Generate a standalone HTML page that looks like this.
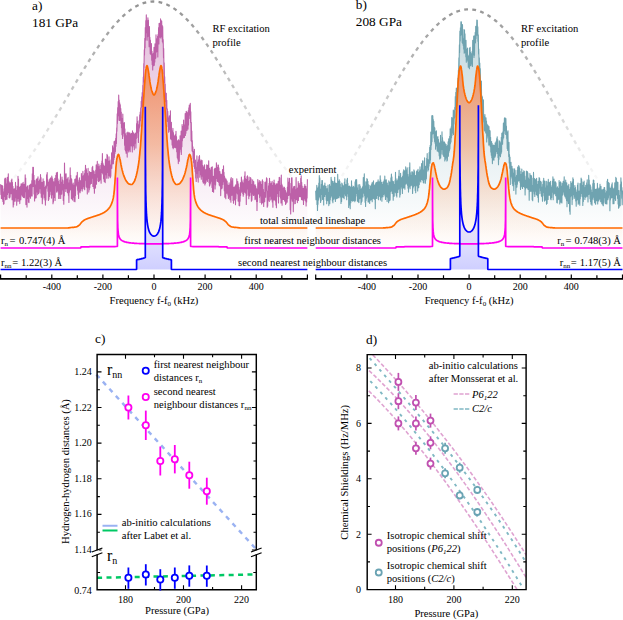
<!DOCTYPE html>
<html><head><meta charset="utf-8"><title>figure</title>
<style>html,body{margin:0;padding:0;background:#fff}svg{display:block}text{fill:#000;font-family:"Liberation Serif",serif}</style></head>
<body><svg width="623" height="620" viewBox="0 0 623 620">
<rect width="623" height="620" fill="#fff"/>
<defs><linearGradient id="gO" gradientUnits="userSpaceOnUse" x1="0" y1="60" x2="0" y2="248"><stop offset="0" stop-color="#f08050" stop-opacity="0.85"/><stop offset="0.45" stop-color="#f4a070" stop-opacity="0.6"/><stop offset="0.9" stop-color="#f8c8a8" stop-opacity="0.15"/><stop offset="1" stop-color="#f8c8a8" stop-opacity="0"/></linearGradient><linearGradient id="gB" gradientUnits="userSpaceOnUse" x1="0" y1="190" x2="0" y2="270"><stop offset="0" stop-color="#8080ff" stop-opacity="0"/><stop offset="1" stop-color="#8080ff" stop-opacity="0.38"/></linearGradient><linearGradient id="gRF" gradientUnits="userSpaceOnUse" x1="0" y1="0" x2="0" y2="190"><stop offset="0" stop-color="#929292"/><stop offset="1" stop-color="#ffffff"/></linearGradient><linearGradient id="gEa" gradientUnits="userSpaceOnUse" x1="0" y1="10" x2="0" y2="235"><stop offset="0" stop-color="#bd60a8" stop-opacity="0.42"/><stop offset="0.55" stop-color="#bd60a8" stop-opacity="0.2"/><stop offset="1" stop-color="#bd60a8" stop-opacity="0"/></linearGradient><linearGradient id="gEb" gradientUnits="userSpaceOnUse" x1="0" y1="10" x2="0" y2="235"><stop offset="0" stop-color="#6fa3b0" stop-opacity="0.42"/><stop offset="0.55" stop-color="#6fa3b0" stop-opacity="0.2"/><stop offset="1" stop-color="#6fa3b0" stop-opacity="0"/></linearGradient></defs>
<path d="M0.6 184.2L0.9 194.4L1.2 185.8L1.4 198.5L1.7 185.2L1.9 198.3L2.2 185.5L2.4 199.2L2.7 186.1L2.9 201.4L3.2 191.8L3.5 204.3L3.7 194.6L4 203.8L4.2 188.9L4.5 196.4L4.7 178.9L5 194.8L5.2 178L5.5 199.7L5.8 178.8L6 196.2L6.3 183.7L6.5 199.3L6.8 191.4L7 199.3L7.3 177.2L7.5 194.4L7.8 181L8.1 187.2L8.3 173.7L8.6 192.8L8.8 181.2L9.1 197.4L9.3 182.6L9.6 198L9.8 186.2L10.1 197L10.4 182.8L10.6 192.7L10.9 185.1L11.1 193.6L11.4 180L11.6 192.4L11.9 179L12.1 199.7L12.4 182.4L12.7 195.3L12.9 186.4L13.2 207L13.4 188.9L13.7 204.7L13.9 190.4L14.2 199.3L14.4 188.8L14.7 201.1L15 191.3L15.2 201.1L15.5 182.4L15.7 197.1L16 185.8L16.2 197.6L16.5 190.2L16.7 205.3L17 191.2L17.3 201.2L17.5 186.4L17.8 198.4L18 176.2L18.3 191.3L18.5 179L18.8 201.2L19 186.6L19.3 199.1L19.6 187.5L19.8 203.6L20.1 190.4L20.3 198.2L20.6 186.1L20.8 199.8L21.1 183.9L21.3 194.9L21.6 184.8L21.9 193.5L22.1 183.8L22.4 196.2L22.6 184.4L22.9 195.4L23.1 182.2L23.4 197.4L23.6 186.5L23.9 195.9L24.2 184.3L24.4 197.7L24.7 184.2L24.9 191.6L25.2 174.9L25.4 191L25.7 178L25.9 204.6L26.2 187.3L26.5 199.4L26.7 187.9L27 207.1L27.2 186.4L27.5 198.4L27.7 185.7L28 196.7L28.2 189.7L28.5 202.1L28.8 191.9L29 202.6L29.3 185.4L29.5 194.8L29.8 185.3L30 196.8L30.3 184.6L30.5 198.2L30.8 184L31.1 195.9L31.3 185.1L31.6 192.9L31.8 180.6L32.1 195.9L32.3 173.8L32.6 186.8L32.8 167.2L33.1 186.5L33.4 167.3L33.6 186.5L33.9 175.2L34.1 194L34.4 185.8L34.6 201L34.9 180.5L35.1 198.5L35.4 184.7L35.7 194.9L35.9 186.7L36.2 197.7L36.4 179L36.7 191.7L36.9 180.9L37.2 191.9L37.4 178.7L37.7 194.8L38 176.9L38.2 191.7L38.5 181.3L38.7 193.5L39 182L39.2 192.2L39.5 180.1L39.7 188.8L40 178.7L40.3 188.4L40.5 174.5L40.8 193.2L41 177.6L41.3 197.3L41.5 182.9L41.8 196.4L42 182.4L42.3 203.8L42.6 189.3L42.8 199L43.1 178.9L43.3 194.1L43.6 181.3L43.8 189.4L44.1 181.4L44.3 197.6L44.6 188.6L44.9 200L45.1 187.3L45.4 205.1L45.6 186.4L45.9 199.9L46.1 185L46.4 188.2L46.6 174.8L46.9 184.5L47.2 172.6L47.4 185.8L47.7 179.5L47.9 191.3L48.2 182.3L48.4 200.5L48.7 189.4L48.9 199.3L49.2 180.9L49.5 196.4L49.7 179.2L50 189.9L50.2 178.3L50.5 191.1L50.7 177.7L51 194.7L51.2 182.7L51.5 198.1L51.8 176L52 190.3L52.3 177.7L52.5 194.6L52.8 179.2L53 203.8L53.3 184.3L53.5 201.9L53.8 181.8L54.1 197.2L54.3 186.1L54.6 197.4L54.8 178.4L55.1 200.5L55.3 180L55.6 185.8L55.8 175.3L56.1 183.3L56.4 172.7L56.6 192.1L56.9 178.9L57.1 191.9L57.4 172.4L57.6 188.2L57.9 178.9L58.2 190.8L58.4 181.1L58.7 198.5L58.9 184.4L59.2 198.5L59.4 184.7L59.7 194.2L59.9 180L60.2 190.1L60.5 174L60.7 198.4L61 182L61.2 193.1L61.5 182.9L61.7 194.1L62 177.1L62.2 189.4L62.5 179.7L62.8 190.1L63 184.3L63.3 200.4L63.5 188.5L63.8 204.2L64 180.5L64.3 195.8L64.5 163.1L64.8 187.4L65.1 173.8L65.3 188.7L65.6 176.1L65.8 191.4L66.1 173.7L66.3 186.3L66.6 179.1L66.8 188.6L67.1 182.1L67.4 192.8L67.6 178.6L67.9 188.7L68.1 177.4L68.4 195.2L68.6 186.1L68.9 202.4L69.1 182.9L69.4 192.3L69.7 179.9L69.9 189.9L70.2 167.8L70.4 189.5L70.7 175.3L70.9 189.8L71.2 178.3L71.4 198.8L71.7 179.2L72 189.4L72.2 184.5L72.5 200L72.7 188.5L73 197.3L73.2 183.1L73.5 196.6L73.7 187.4L74 201.3L74.3 185L74.5 196.4L74.8 179.4L75 201.8L75.3 182.2L75.5 195.5L75.8 178.6L76 186.6L76.3 175.8L76.6 184.3L76.8 175.8L77.1 185.2L77.3 172.2L77.6 190.2L77.8 182.4L78.1 194.3L78.3 182.3L78.6 198.5L78.9 180.1L79.1 188L79.4 177.7L79.6 191.6L79.9 180.3L80.1 192.8L80.4 180.8L80.6 190.7L80.9 180.7L81.2 188.6L81.4 173.5L81.7 188.4L81.9 176.1L82.2 191.1L82.4 176.3L82.7 188.8L82.9 171.4L83.2 186.4L83.5 175.6L83.7 186.7L84 178.1L84.2 188.8L84.5 173.6L84.7 189.8L85 170.4L85.2 178L85.5 165.2L85.8 180.3L86 168.2L86.3 186.8L86.5 169.5L86.8 187.5L87 173.3L87.3 193.9L87.5 178.6L87.8 187.8L88.1 168.4L88.3 185.5L88.6 175.8L88.8 192.1L89.1 177.4L89.3 189.8L89.6 171.5L89.8 187.7L90.1 172.2L90.4 184.3L90.6 172.5L90.9 181.7L91.1 173.4L91.4 183.4L91.6 172.3L91.9 178.3L92.1 167.5L92.4 175.3L92.7 166.4L92.9 186.5L93.2 171.5L93.4 184.1L93.7 170.7L93.9 188.5L94.2 171.6L94.4 193.3L94.7 175L95 187.5L95.2 174.4L95.5 188.1L95.7 170L96 179.7L96.2 164.9L96.5 184.3L96.7 165.8L97 177.3L97.3 161.4L97.5 174.3L97.8 166.6L98 180.8L98.3 168.8L98.5 181.5L98.8 164L99 181.6L99.3 165.7L99.6 180.4L99.8 169.2L100.1 179.2L100.3 169.2L100.6 179.8L100.8 165.2L101.1 183.2L101.3 163.6L101.6 172.5L101.9 161L102.1 172.4L102.4 153.6L102.6 173.3L102.9 163L103.1 174.2L103.4 164.8L103.6 178.8L103.9 166.7L104.2 181.6L104.4 166L104.7 181.1L104.9 167.1L105.2 182.6L105.4 159.1L105.7 174.8L105.9 159.5L106.2 174.8L106.5 164.9L106.7 178.3L107 154.3L107.2 172.4L107.5 155.4L107.7 171.2L108 161.1L108.2 178.2L108.5 162.9L108.8 175.5L109 156.7L109.3 173.2L109.5 160.8L109.8 176.7L110 164.9L110.3 177.7L110.5 168.1L110.8 176.2L111.1 159.7L111.3 168.6L111.6 152.8L111.8 168.2L112.1 153.5L112.3 164.1L112.6 145.7L112.8 159.5L113.1 149.5L113.4 163.8L113.6 147.7L113.9 159.5L114.1 141.6L114.4 157.5L114.6 144.2L114.9 153.5L115.1 140.8L115.4 151.6L115.7 138.3L115.9 146.3L116.2 133.8L116.4 143.5L116.7 127.9L116.9 131.3L117.2 113.9L117.4 123.6L117.7 107.5L118 120.2L118.2 101.5L118.5 115.6L118.7 95.1L119 111.1L119.2 100L119.5 120.5L119.7 102.8L120 119.2L120.3 104.9L120.5 120.2L120.8 108.6L121 123.5L121.3 112L121.5 127.8L121.8 118.7L122 134.7L122.3 118.3L122.6 138.5L122.8 114L123.1 131L123.3 122.9L123.6 133.2L123.8 126.6L124.1 136.3L124.4 122.5L124.6 145.3L124.9 128.9L125.1 149.7L125.4 133.5L125.6 150.9L125.9 137.6L126.1 153.3L126.4 135.6L126.7 149.6L126.9 132.7L127.2 157.1L127.4 133.8L127.7 147.9L127.9 132.1L128.2 150.2L128.4 137.6L128.7 152L129 132.8L129.2 149.9L129.5 133L129.7 146.2L130 133.1L130.2 151.8L130.5 134L130.7 143.9L131 137L131.3 145.7L131.5 133.3L131.8 146.1L132 138.6L132.3 151.9L132.5 130.9L132.8 147L133 135.2L133.3 144.7L133.6 132.7L133.8 145.4L134.1 136.3L134.3 149.7L134.6 134.4L134.8 143.2L135.1 133.4L135.3 143.3L135.6 133.6L135.9 148.1L136.1 132.6L136.4 138.5L136.6 123.6L136.9 129.6L137.1 116.7L137.4 132.6L137.6 121.3L137.9 137.6L138.2 125.4L138.4 142.4L138.7 124.6L138.9 131.2L139.2 120.6L139.4 128L139.7 114.8L139.9 126.2L140.2 112L140.5 120.7L140.7 107.8L141 117.9L141.2 101.2L141.5 107.2L141.7 96.9L142 105.9L142.2 92.6L142.5 106.4L142.8 85.4L143 91.3L143.3 77.1L143.5 81.9L143.8 63.6L144 67.7L144.3 49.7L144.5 55L144.8 38.4L145.1 47.7L145.3 27.6L145.6 39.9L145.8 20.6L146.1 31.5L146.3 14.9L146.6 32.8L146.8 20.8L147.1 40.3L147.4 20.6L147.6 36.8L147.9 17.7L148.1 34.5L148.4 20.1L148.6 36.3L148.9 28.3L149.1 46.7L149.4 26.6L149.7 43.6L149.9 37.4L150.2 53.7L150.4 40.1L150.7 54.2L150.9 44.6L151.2 54.8L151.4 43.6L151.7 60.3L152 51.3L152.2 64.4L152.5 53.9L152.7 70L153 56L153.2 65L153.5 53.1L153.7 65.6L154 47.3L154.3 65.2L154.5 54.7L154.8 62.1L155 43.9L155.3 58.6L155.5 46L155.8 58.1L156 34.9L156.3 52.2L156.6 38.9L156.8 51.5L157.1 39.4L157.3 48.4L157.6 36.1L157.8 57L158.1 34.4L158.3 42.1L158.6 27.5L158.9 44L159.1 23.3L159.4 36.5L159.6 26L159.9 37.2L160.1 23L160.4 31.5L160.6 18.9L160.9 38.1L161.2 20.9L161.4 28.8L161.7 21L161.9 36.5L162.2 25.2L162.4 41.7L162.7 26.5L162.9 42.9L163.2 39.6L163.5 57.7L163.7 48.6L164 73.7L164.2 62.7L164.5 82.4L164.7 76.8L165 98.5L165.2 84L165.5 101.7L165.8 92.7L166 105.6L166.3 93.2L166.5 108.9L166.8 100.4L167 121.3L167.3 108.8L167.5 121.5L167.8 111.2L168.1 126.6L168.3 117.8L168.6 132.3L168.8 121.1L169.1 129.5L169.3 115.9L169.6 129.4L169.8 116.7L170.1 131.6L170.4 110.8L170.6 139L170.9 124.6L171.1 135.2L171.4 122.2L171.6 139.7L171.9 130.8L172.1 144.9L172.4 135.4L172.7 147.5L172.9 128.4L173.2 148.7L173.4 132.6L173.7 147.4L173.9 137.6L174.2 147.3L174.4 136.4L174.7 147.1L175 135L175.2 147.6L175.5 134.5L175.7 147.8L176 131.2L176.2 144.6L176.5 136.5L176.7 151.8L177 144.8L177.3 157.7L177.5 140.7L177.8 159.1L178 144.6L178.3 163.6L178.5 139.7L178.8 151L179 140.6L179.3 161.2L179.6 143.7L179.8 152.1L180.1 135.8L180.3 149.2L180.6 136.1L180.8 148.6L181.1 131L181.3 154.5L181.6 136.2L181.9 146.8L182.1 124.5L182.4 140.7L182.6 128.5L182.9 138.5L183.1 126.3L183.4 137.4L183.6 120.1L183.9 136.5L184.2 125.2L184.4 137.4L184.7 124.9L184.9 134.5L185.2 113.6L185.4 135.4L185.7 120.9L185.9 133.2L186.2 111.3L186.5 127.1L186.7 111.7L187 130.5L187.2 112.6L187.5 125.4L187.7 113.9L188 129.1L188.3 110.6L188.5 124.9L188.8 107.8L189 115L189.3 105.1L189.5 114.2L189.8 105L190 118.4L190.3 103.4L190.6 122.5L190.8 111.8L191.1 140.7L191.3 122.4L191.6 141.6L191.8 131.1L192.1 150.9L192.3 140.5L192.6 151.8L192.9 146.7L193.1 158.9L193.4 151.7L193.6 162.7L193.9 151.3L194.1 166.4L194.4 149.2L194.6 168.5L194.9 160.7L195.2 171.7L195.4 160L195.7 178L195.9 168.1L196.2 181.5L196.4 167.5L196.7 173.4L196.9 155.9L197.2 173L197.5 165.3L197.7 178L198 162L198.2 182.1L198.5 159.7L198.7 169.7L199 156.6L199.2 170.4L199.5 155.6L199.8 177.3L200 161.1L200.3 174L200.5 162.7L200.8 174.8L201 159.9L201.3 179.3L201.5 160.6L201.8 176.3L202.1 160.6L202.3 174L202.6 165.2L202.8 181.8L203.1 167.3L203.3 183.1L203.6 167.1L203.8 183L204.1 165.8L204.4 178.3L204.6 164.9L204.9 185L205.1 169.3L205.4 183.4L205.6 174.9L205.9 182.4L206.1 169.8L206.4 178.5L206.7 164.8L206.9 179.9L207.2 170.2L207.4 181.4L207.7 165.2L207.9 178.4L208.2 167.2L208.4 174.8L208.7 160.7L209 182.5L209.2 169.7L209.5 186L209.7 168.4L210 184.9L210.2 174.7L210.5 183.2L210.7 170L211 179.5L211.3 167.3L211.5 181.3L211.8 172.9L212 187.4L212.3 166.8L212.5 191.5L212.8 178.2L213 190.9L213.3 176.4L213.6 192.3L213.8 177L214.1 184.3L214.3 169.2L214.6 182.4L214.8 168.4L215.1 189L215.3 168.4L215.6 185L215.9 174.4L216.1 180.9L216.4 162.7L216.6 178.5L216.9 164.8L217.1 178.1L217.4 169L217.6 181.4L217.9 167.4L218.2 179.8L218.4 165.1L218.7 182.4L218.9 167.7L219.2 184.9L219.4 172.2L219.7 185.7L219.9 171.6L220.2 186.1L220.5 176L220.7 195.6L221 174L221.2 187L221.5 178.3L221.7 188.8L222 174.6L222.2 187.9L222.5 169.5L222.8 184.4L223 174.2L223.3 180.2L223.5 165.9L223.8 181.7L224 172.4L224.3 190.8L224.5 176.1L224.8 197.3L225.1 178.1L225.3 191.1L225.6 182.9L225.8 198.8L226.1 179.1L226.3 190.6L226.6 180.6L226.8 193.2L227.1 181.1L227.4 192.8L227.6 184.7L227.9 195L228.1 186.5L228.4 198.5L228.6 185.2L228.9 196.6L229.1 182.8L229.4 197.1L229.7 186.1L229.9 199.8L230.2 184.9L230.4 196.2L230.7 178.8L230.9 202.3L231.2 177.5L231.4 195.5L231.7 182.8L232 191.2L232.2 180.7L232.5 195.3L232.7 178.6L233 200.5L233.2 190.3L233.5 203.3L233.7 187.3L234 197.6L234.3 187.1L234.5 199.9L234.8 189.5L235 198.3L235.3 185.7L235.5 204.8L235.8 184.7L236 198.8L236.3 186.4L236.6 192.4L236.8 178.9L237.1 193L237.3 181.8L237.6 194.1L237.8 181.6L238.1 201.1L238.3 183.8L238.6 201L238.9 187.4L239.1 205.6L239.4 192.7L239.6 205.8L239.9 189.8L240.1 201.2L240.4 182.8L240.6 195.5L240.9 182.6L241.2 192.5L241.4 177L241.7 187.8L241.9 179.7L242.2 191.2L242.4 181.8L242.7 193.4L242.9 186.8L243.2 196.3L243.5 182.9L243.7 194.5L244 179.7L244.2 191.8L244.5 176.1L244.7 191.9L245 171.8L245.2 192.4L245.5 178.6L245.8 193.5L246 179.9L246.3 204.5L246.5 179.4L246.8 195.4L247 176.6L247.3 188.7L247.5 175.8L247.8 189L248.1 181.4L248.3 195L248.6 185.7L248.8 198.8L249.1 177L249.3 196.3L249.6 180.6L249.8 195.5L250.1 181.9L250.4 192.3L250.6 177.6L250.9 190.9L251.1 178.8L251.4 201.3L251.6 190.1L251.9 200.2L252.2 184.3L252.4 194.1L252.7 179.9L252.9 191.4L253.2 184.4L253.4 195.5L253.7 181.5L253.9 194.9L254.2 184.9L254.5 194L254.7 186.8L255 199.6L255.2 184.7L255.5 198.5L255.7 186.4L256 198.9L256.2 188L256.5 201.5L256.8 192.8L257 210.4L257.3 189L257.5 201.4L257.8 179.5L258 193.7L258.3 182.8L258.5 194L258.8 183.6L259.1 190L259.3 180.6L259.6 197.4L259.8 182.5L260.1 202.4L260.3 184.4L260.6 195.9L260.8 181.4L261.1 193.1L261.4 186.1L261.6 204.1L261.9 184.4L262.1 203.1L262.4 179.7L262.6 198.9L262.9 181.2L263.1 202.5L263.4 189.4L263.7 206.4L263.9 192.2L264.2 201.9L264.4 192.2L264.7 201.5L264.9 182.4L265.2 196.4L265.4 186.1L265.7 197.2L266 181.6L266.2 190.8L266.5 177.7L266.7 189.9L267 178.5L267.2 207.3L267.5 193.5L267.7 206.1L268 191L268.3 200.3L268.5 185.7L268.8 198.2L269 183.2L269.3 201.4L269.5 178.2L269.8 196.3L270 181.4L270.3 195.8L270.6 183.7L270.8 199.9L271.1 185.7L271.3 198.9L271.6 182.7L271.8 194.7L272.1 181.2L272.3 202L272.6 186.6L272.9 207.3L273.1 185.3L273.4 196.3L273.6 182.6L273.9 200L274.1 180.1L274.4 198.9L274.6 183.3L274.9 199.9L275.2 185.2L275.4 201L275.7 189.9L275.9 205.1L276.2 183.9L276.4 207.7L276.7 184.1L276.9 196.7L277.2 185.9L277.5 193.3L277.7 183.5L278 193.4L278.2 181.4L278.5 202.9L278.7 183.5L279 190.5L279.2 177.2L279.5 186.5L279.8 177.9L280 196.4L280.3 185.4L280.5 198.1L280.8 185.3L281 203L281.3 175L281.5 198.5L281.8 184L282.1 205.3L282.3 185.6L282.6 198.7L282.8 189.7L283.1 199.4L283.3 188.4L283.6 199.4L283.8 187.1L284.1 199.1L284.4 187.2L284.6 201.1L284.9 188.3L285.1 200.6L285.4 190.2L285.6 204.5L285.9 191.8L286.1 203.5L286.4 193.1L286.7 202.3L286.9 194.1L287.2 202.1L287.4 187L287.7 198.5L287.9 178.1L288.2 191.6L288.4 182.2L288.7 195.5L289 182L289.2 190.8L289.5 178.3L289.7 195L290 183.3L290.2 209.7L290.5 193.5L290.7 213.9L291 193.8L291.3 198.9L291.5 177.9L291.8 191.9L292 177.8L292.3 201.1L292.5 189.1L292.8 200.1L293 188.8L293.3 211.7L293.6 186.9L293.8 198.5L294.1 186.6L294.3 197.3L294.6 186.3L294.8 203.7L295.1 192.8L295.3 203.5L295.6 189.5L295.9 195.6L296.1 177.5L296.4 199.7L296.6 188.8L296.9 198L297.1 188.7L297.4 202.6L297.6 187.9L297.9 200.2L298.2 181.6L298.4 200.4L298.7 187.2L298.9 196.7L299.2 183.6L299.4 195.8L299.7 186.3L299.9 196.6L300.2 185.6L300.5 196.4L300.7 178.4L301 196.9L301.2 175.8L301.5 199.6L301.7 182.4L302 194.1L302.2 186.1L302.5 200L302.8 189.4L303 196.3L303.3 188.2L303.5 204.4L303.8 188.7L304 200.4L304.3 186.2L304.5 196L304.8 184.6L305.1 199L305.3 186.2L305.6 200.9L305.8 186.3L306.1 205.9L306.3 188.8L306.6 202L306.8 190L307.1 197.9L307.4 179.3L307.4 248L0.6 248Z" fill="url(#gEa)"/>
<path d="M0.6 228L0.9 228L1.2 228L1.4 228L1.7 228L1.9 228L2.2 228L2.4 228L2.7 228L2.9 228L3.2 228L3.5 228L3.7 228L4 228L4.2 228L4.5 228L4.7 228L5 228L5.2 228L5.5 228L5.8 228L6 228L6.3 228L6.5 228L6.8 228L7 228L7.3 228L7.5 228L7.8 228L8.1 228L8.3 228L8.6 228L8.8 228L9.1 228L9.3 228L9.6 228L9.8 228L10.1 228L10.4 228L10.6 228L10.9 228L11.1 228L11.4 228L11.6 228L11.9 228L12.1 228L12.4 228L12.7 228L12.9 228L13.2 228L13.4 228L13.7 228L13.9 228L14.2 228L14.4 228L14.7 228L15 228L15.2 228L15.5 228L15.7 228L16 228L16.2 228L16.5 228L16.7 228L17 228L17.3 228L17.5 228L17.8 228L18 228L18.3 228L18.5 228L18.8 228L19 228L19.3 228L19.6 228L19.8 228L20.1 228L20.3 228L20.6 228L20.8 228L21.1 228L21.3 228L21.6 228L21.9 228L22.1 228L22.4 228L22.6 228L22.9 228L23.1 228L23.4 228L23.6 228L23.9 228L24.2 228L24.4 228L24.7 228L24.9 228L25.2 228L25.4 228L25.7 228L25.9 228L26.2 228L26.5 228L26.7 228L27 228L27.2 228L27.5 228L27.7 228L28 228L28.2 228L28.5 228L28.8 228L29 228L29.3 228L29.5 228L29.8 228L30 228L30.3 228L30.5 228L30.8 228L31.1 228L31.3 228L31.6 228L31.8 228L32.1 228L32.3 228L32.6 228L32.8 228L33.1 228L33.4 228L33.6 228L33.9 228L34.1 228L34.4 228L34.6 228L34.9 228L35.1 228L35.4 228L35.7 228L35.9 228L36.2 228L36.4 228L36.7 228L36.9 228L37.2 228L37.4 228L37.7 228L38 228L38.2 228L38.5 228L38.7 228L39 228L39.2 228L39.5 228L39.7 228L40 228L40.3 228L40.5 228L40.8 228L41 228L41.3 228L41.5 228L41.8 228L42 228L42.3 228L42.6 228L42.8 228L43.1 228L43.3 228L43.6 228L43.8 228L44.1 228L44.3 228L44.6 228L44.9 228L45.1 228L45.4 228L45.6 228L45.9 228L46.1 228L46.4 228L46.6 228L46.9 228L47.2 228L47.4 228L47.7 228L47.9 228L48.2 228L48.4 228L48.7 228L48.9 228L49.2 228L49.5 228L49.7 228L50 228L50.2 228L50.5 228L50.7 228L51 228L51.2 228L51.5 228L51.8 228L52 228L52.3 228L52.5 228L52.8 228L53 228L53.3 228L53.5 228L53.8 228L54.1 228L54.3 228L54.6 228L54.8 228L55.1 228L55.3 228L55.6 228L55.8 228L56.1 228L56.4 228L56.6 228L56.9 228L57.1 228L57.4 228L57.6 228L57.9 228L58.2 228L58.4 228L58.7 228L58.9 228L59.2 228L59.4 228L59.7 228L59.9 228L60.2 228L60.5 228L60.7 228L61 228L61.2 228L61.5 228L61.7 228L62 228L62.2 228L62.5 228L62.8 228L63 228L63.3 228L63.5 228L63.8 228L64 228L64.3 228L64.5 228L64.8 228L65.1 228L65.3 228L65.6 228L65.8 228L66.1 228L66.3 228L66.6 228L66.8 228L67.1 228L67.4 228L67.6 228L67.9 228L68.1 227.9L68.4 227.9L68.6 227.9L68.9 227.8L69.1 227.8L69.4 227.8L69.7 227.7L69.9 227.7L70.2 227.6L70.4 227.6L70.7 227.6L70.9 227.5L71.2 227.5L71.4 227.5L71.7 227.5L72 227.4L72.2 227.4L72.5 227.4L72.7 227.4L73 227.4L73.2 227.3L73.5 227.3L73.7 227.3L74 227.3L74.3 227.2L74.5 227.2L74.8 227.2L75 227.1L75.3 227.1L75.5 227L75.8 227L76 227L76.3 226.9L76.6 226.8L76.8 226.7L77.1 226.6L77.3 226.5L77.6 226.3L77.8 226.2L78.1 226L78.3 225.8L78.6 225.6L78.9 225.4L79.1 225.2L79.4 225L79.6 224.8L79.9 224.5L80.1 224.2L80.4 223.8L80.6 223.5L80.9 223.2L81.2 222.8L81.4 222.5L81.7 222.2L81.9 221.9L82.2 221.7L82.4 221.5L82.7 221.3L82.9 221.1L83.2 220.9L83.5 220.7L83.7 220.5L84 220.3L84.2 220.1L84.5 220L84.7 219.8L85 219.7L85.2 219.6L85.5 219.4L85.8 219.3L86 219.2L86.3 219.1L86.5 219L86.8 218.9L87 218.8L87.3 218.7L87.5 218.6L87.8 218.5L88.1 218.4L88.3 218.3L88.6 218.2L88.8 218.1L89.1 218.1L89.3 218L89.6 217.9L89.8 217.8L90.1 217.7L90.4 217.6L90.6 217.6L90.9 217.5L91.1 217.4L91.4 217.3L91.6 217.2L91.9 217.1L92.1 217L92.4 217L92.7 216.9L92.9 216.8L93.2 216.7L93.4 216.6L93.7 216.5L93.9 216.4L94.2 216.4L94.4 216.3L94.7 216.2L95 216.1L95.2 216.1L95.5 216L95.7 215.9L96 215.8L96.2 215.7L96.5 215.7L96.7 215.6L97 215.5L97.3 215.4L97.5 215.3L97.8 215.2L98 215.1L98.3 215.1L98.5 215L98.8 214.9L99 214.8L99.3 214.7L99.6 214.6L99.8 214.5L100.1 214.4L100.3 214.3L100.6 214.2L100.8 214L101.1 213.9L101.3 213.8L101.6 213.7L101.9 213.6L102.1 213.5L102.4 213.4L102.6 213.2L102.9 213.1L103.1 213L103.4 212.8L103.6 212.7L103.9 212.6L104.2 212.4L104.4 212.3L104.7 212.1L104.9 211.9L105.2 211.8L105.4 211.6L105.7 211.4L105.9 211.2L106.2 211L106.5 210.8L106.7 210.6L107 210.4L107.2 210.2L107.5 209.9L107.7 209.7L108 209.4L108.2 209.1L108.5 208.8L108.8 208.5L109 208.2L109.3 207.9L109.5 207.5L109.8 207.2L110 206.8L110.3 206.4L110.5 205.9L110.8 205.4L111.1 204.9L111.3 204.3L111.6 203.7L111.8 203.1L112.1 202.4L112.3 201.6L112.6 200.8L112.8 199.9L113.1 198.8L113.4 197.4L113.6 195.9L113.9 194.2L114.1 192.2L114.4 189.5L114.6 186.3L114.9 182.8L115.1 179.3L115.4 175.6L115.7 171.5L115.9 167.6L116.2 164.5L116.4 162.2L116.7 160.2L116.9 158.5L117.2 157.3L117.4 156.4L117.7 155.6L118 154.9L118.2 154.5L118.5 154.4L118.7 154.7L119 155.4L119.2 156.2L119.5 157.2L119.7 158.2L120 159.2L120.3 160.4L120.5 161.8L120.8 163.3L121 164.7L121.3 166L121.5 167.2L121.8 168.3L122 169.4L122.3 170.5L122.6 171.5L122.8 172.5L123.1 173.4L123.3 174.2L123.6 175L123.8 175.7L124.1 176.4L124.4 177.1L124.6 177.7L124.9 178.3L125.1 178.9L125.4 179.4L125.6 179.9L125.9 180.4L126.1 180.8L126.4 181.2L126.7 181.6L126.9 181.9L127.2 182.2L127.4 182.6L127.7 182.9L127.9 183.1L128.2 183.4L128.4 183.6L128.7 183.8L129 184L129.2 184.1L129.5 184.2L129.7 184.2L130 184.3L130.2 184.3L130.5 184.4L130.7 184.4L131 184.5L131.3 184.5L131.5 184.5L131.8 184.5L132 184.4L132.3 184.2L132.5 184L132.8 183.7L133 183.4L133.3 183L133.6 182.6L133.8 182.2L134.1 181.8L134.3 181.3L134.6 180.9L134.8 180.3L135.1 179.6L135.3 178.8L135.6 178L135.9 177.1L136.1 176.2L136.4 175.2L136.6 174.2L136.9 173.1L137.1 172L137.4 170.7L137.6 169.4L137.9 168L138.2 166.5L138.4 164.9L138.7 163.1L138.9 161.3L139.2 159.2L139.4 157.1L139.7 154.7L139.9 152L140.2 149.1L140.5 146L140.7 142.7L141 139.3L141.2 135.6L141.5 131.7L141.7 127.8L142 123.8L142.2 119.8L142.5 115.8L142.8 111.8L143 108L143.3 104.2L143.5 100.3L143.8 96.5L144 92.7L144.3 89L144.5 85.5L144.8 81.9L145.1 78.1L145.3 74.7L145.6 72L145.8 70.2L146.1 68.7L146.3 67.3L146.6 66.3L146.8 65.7L147.1 65.6L147.4 66.1L147.6 67.1L147.9 68.2L148.1 69.6L148.4 70.9L148.6 72.3L148.9 74L149.1 75.9L149.4 77.9L149.7 79.9L149.9 81.7L150.2 83.3L150.4 84.6L150.7 86L150.9 87.3L151.2 88.4L151.4 89.5L151.7 90.5L152 91.3L152.2 91.9L152.5 92.6L152.7 93.2L153 93.8L153.2 94.3L153.5 94.7L153.7 94.9L154 95L154.3 94.9L154.5 94.7L154.8 94.3L155 93.8L155.3 93.2L155.5 92.6L155.8 91.9L156 91.3L156.3 90.5L156.6 89.5L156.8 88.4L157.1 87.3L157.3 86L157.6 84.6L157.8 83.3L158.1 81.7L158.3 79.9L158.6 77.9L158.9 75.9L159.1 74L159.4 72.3L159.6 70.9L159.9 69.6L160.1 68.2L160.4 67.1L160.6 66.1L160.9 65.6L161.2 65.7L161.4 66.3L161.7 67.3L161.9 68.7L162.2 70.2L162.4 72L162.7 74.7L162.9 78.1L163.2 81.9L163.5 85.5L163.7 89L164 92.7L164.2 96.5L164.5 100.3L164.7 104.2L165 108L165.2 111.8L165.5 115.8L165.8 119.8L166 123.8L166.3 127.8L166.5 131.7L166.8 135.6L167 139.3L167.3 142.7L167.5 146L167.8 149.1L168.1 152L168.3 154.7L168.6 157.1L168.8 159.2L169.1 161.3L169.3 163.1L169.6 164.9L169.8 166.5L170.1 168L170.4 169.4L170.6 170.7L170.9 172L171.1 173.1L171.4 174.2L171.6 175.2L171.9 176.2L172.1 177.1L172.4 178L172.7 178.8L172.9 179.6L173.2 180.3L173.4 180.9L173.7 181.3L173.9 181.8L174.2 182.2L174.4 182.6L174.7 183L175 183.4L175.2 183.7L175.5 184L175.7 184.2L176 184.4L176.2 184.5L176.5 184.5L176.7 184.5L177 184.5L177.3 184.4L177.5 184.4L177.8 184.3L178 184.3L178.3 184.2L178.5 184.2L178.8 184.1L179 184L179.3 183.8L179.6 183.6L179.8 183.4L180.1 183.1L180.3 182.9L180.6 182.6L180.8 182.2L181.1 181.9L181.3 181.6L181.6 181.2L181.9 180.8L182.1 180.4L182.4 179.9L182.6 179.4L182.9 178.9L183.1 178.3L183.4 177.7L183.6 177.1L183.9 176.4L184.2 175.7L184.4 175L184.7 174.2L184.9 173.4L185.2 172.5L185.4 171.5L185.7 170.5L185.9 169.4L186.2 168.3L186.5 167.2L186.7 166L187 164.7L187.2 163.3L187.5 161.8L187.7 160.4L188 159.2L188.3 158.2L188.5 157.2L188.8 156.2L189 155.4L189.3 154.7L189.5 154.4L189.8 154.5L190 154.9L190.3 155.6L190.6 156.4L190.8 157.3L191.1 158.5L191.3 160.2L191.6 162.2L191.8 164.5L192.1 167.6L192.3 171.5L192.6 175.6L192.9 179.3L193.1 182.8L193.4 186.3L193.6 189.5L193.9 192.2L194.1 194.2L194.4 195.9L194.6 197.4L194.9 198.8L195.2 199.9L195.4 200.8L195.7 201.6L195.9 202.4L196.2 203.1L196.4 203.7L196.7 204.3L196.9 204.9L197.2 205.4L197.5 205.9L197.7 206.4L198 206.8L198.2 207.2L198.5 207.5L198.7 207.9L199 208.2L199.2 208.5L199.5 208.8L199.8 209.1L200 209.4L200.3 209.7L200.5 209.9L200.8 210.2L201 210.4L201.3 210.6L201.5 210.8L201.8 211L202.1 211.2L202.3 211.4L202.6 211.6L202.8 211.8L203.1 211.9L203.3 212.1L203.6 212.3L203.8 212.4L204.1 212.6L204.4 212.7L204.6 212.8L204.9 213L205.1 213.1L205.4 213.2L205.6 213.4L205.9 213.5L206.1 213.6L206.4 213.7L206.7 213.8L206.9 213.9L207.2 214L207.4 214.2L207.7 214.3L207.9 214.4L208.2 214.5L208.4 214.6L208.7 214.7L209 214.8L209.2 214.9L209.5 215L209.7 215.1L210 215.1L210.2 215.2L210.5 215.3L210.7 215.4L211 215.5L211.3 215.6L211.5 215.7L211.8 215.7L212 215.8L212.3 215.9L212.5 216L212.8 216.1L213 216.1L213.3 216.2L213.6 216.3L213.8 216.4L214.1 216.4L214.3 216.5L214.6 216.6L214.8 216.7L215.1 216.8L215.3 216.9L215.6 217L215.9 217L216.1 217.1L216.4 217.2L216.6 217.3L216.9 217.4L217.1 217.5L217.4 217.6L217.6 217.6L217.9 217.7L218.2 217.8L218.4 217.9L218.7 218L218.9 218.1L219.2 218.1L219.4 218.2L219.7 218.3L219.9 218.4L220.2 218.5L220.5 218.6L220.7 218.7L221 218.8L221.2 218.9L221.5 219L221.7 219.1L222 219.2L222.2 219.3L222.5 219.4L222.8 219.6L223 219.7L223.3 219.8L223.5 220L223.8 220.1L224 220.3L224.3 220.5L224.5 220.7L224.8 220.9L225.1 221.1L225.3 221.3L225.6 221.5L225.8 221.7L226.1 221.9L226.3 222.2L226.6 222.5L226.8 222.8L227.1 223.2L227.4 223.5L227.6 223.8L227.9 224.2L228.1 224.5L228.4 224.8L228.6 225L228.9 225.2L229.1 225.4L229.4 225.6L229.7 225.8L229.9 226L230.2 226.2L230.4 226.3L230.7 226.5L230.9 226.6L231.2 226.7L231.4 226.8L231.7 226.9L232 227L232.2 227L232.5 227L232.7 227.1L233 227.1L233.2 227.2L233.5 227.2L233.7 227.2L234 227.3L234.3 227.3L234.5 227.3L234.8 227.3L235 227.4L235.3 227.4L235.5 227.4L235.8 227.4L236 227.4L236.3 227.5L236.6 227.5L236.8 227.5L237.1 227.5L237.3 227.6L237.6 227.6L237.8 227.6L238.1 227.7L238.3 227.7L238.6 227.8L238.9 227.8L239.1 227.8L239.4 227.9L239.6 227.9L239.9 227.9L240.1 228L240.4 228L240.6 228L240.9 228L241.2 228L241.4 228L241.7 228L241.9 228L242.2 228L242.4 228L242.7 228L242.9 228L243.2 228L243.5 228L243.7 228L244 228L244.2 228L244.5 228L244.7 228L245 228L245.2 228L245.5 228L245.8 228L246 228L246.3 228L246.5 228L246.8 228L247 228L247.3 228L247.5 228L247.8 228L248.1 228L248.3 228L248.6 228L248.8 228L249.1 228L249.3 228L249.6 228L249.8 228L250.1 228L250.4 228L250.6 228L250.9 228L251.1 228L251.4 228L251.6 228L251.9 228L252.2 228L252.4 228L252.7 228L252.9 228L253.2 228L253.4 228L253.7 228L253.9 228L254.2 228L254.5 228L254.7 228L255 228L255.2 228L255.5 228L255.7 228L256 228L256.2 228L256.5 228L256.8 228L257 228L257.3 228L257.5 228L257.8 228L258 228L258.3 228L258.5 228L258.8 228L259.1 228L259.3 228L259.6 228L259.8 228L260.1 228L260.3 228L260.6 228L260.8 228L261.1 228L261.4 228L261.6 228L261.9 228L262.1 228L262.4 228L262.6 228L262.9 228L263.1 228L263.4 228L263.7 228L263.9 228L264.2 228L264.4 228L264.7 228L264.9 228L265.2 228L265.4 228L265.7 228L266 228L266.2 228L266.5 228L266.7 228L267 228L267.2 228L267.5 228L267.7 228L268 228L268.3 228L268.5 228L268.8 228L269 228L269.3 228L269.5 228L269.8 228L270 228L270.3 228L270.6 228L270.8 228L271.1 228L271.3 228L271.6 228L271.8 228L272.1 228L272.3 228L272.6 228L272.9 228L273.1 228L273.4 228L273.6 228L273.9 228L274.1 228L274.4 228L274.6 228L274.9 228L275.2 228L275.4 228L275.7 228L275.9 228L276.2 228L276.4 228L276.7 228L276.9 228L277.2 228L277.5 228L277.7 228L278 228L278.2 228L278.5 228L278.7 228L279 228L279.2 228L279.5 228L279.8 228L280 228L280.3 228L280.5 228L280.8 228L281 228L281.3 228L281.5 228L281.8 228L282.1 228L282.3 228L282.6 228L282.8 228L283.1 228L283.3 228L283.6 228L283.8 228L284.1 228L284.4 228L284.6 228L284.9 228L285.1 228L285.4 228L285.6 228L285.9 228L286.1 228L286.4 228L286.7 228L286.9 228L287.2 228L287.4 228L287.7 228L287.9 228L288.2 228L288.4 228L288.7 228L289 228L289.2 228L289.5 228L289.7 228L290 228L290.2 228L290.5 228L290.7 228L291 228L291.3 228L291.5 228L291.8 228L292 228L292.3 228L292.5 228L292.8 228L293 228L293.3 228L293.6 228L293.8 228L294.1 228L294.3 228L294.6 228L294.8 228L295.1 228L295.3 228L295.6 228L295.9 228L296.1 228L296.4 228L296.6 228L296.9 228L297.1 228L297.4 228L297.6 228L297.9 228L298.2 228L298.4 228L298.7 228L298.9 228L299.2 228L299.4 228L299.7 228L299.9 228L300.2 228L300.5 228L300.7 228L301 228L301.2 228L301.5 228L301.7 228L302 228L302.2 228L302.5 228L302.8 228L303 228L303.3 228L303.5 228L303.8 228L304 228L304.3 228L304.5 228L304.8 228L305.1 228L305.3 228L305.6 228L305.8 228L306.1 228L306.3 228L306.6 228L306.8 228L307.1 228L307.4 228L307.4 248L0.6 248Z" fill="url(#gO)"/>
<path d="M0.6 269.5L1.2 269.5L1.7 269.5L2.2 269.5L2.7 269.5L3.2 269.5L3.7 269.5L4.2 269.5L4.7 269.5L5.2 269.5L5.8 269.5L6.3 269.5L6.8 269.5L7.3 269.5L7.8 269.5L8.3 269.5L8.8 269.5L9.3 269.5L9.8 269.5L10.4 269.5L10.9 269.5L11.4 269.5L11.9 269.5L12.4 269.5L12.9 269.5L13.4 269.5L13.9 269.5L14.4 269.5L15 269.5L15.5 269.5L16 269.5L16.5 269.5L17 269.5L17.5 269.5L18 269.5L18.5 269.5L19 269.5L19.6 269.5L20.1 269.5L20.6 269.5L21.1 269.5L21.6 269.5L22.1 269.5L22.6 269.5L23.1 269.5L23.6 269.5L24.2 269.5L24.7 269.5L25.2 269.5L25.7 269.5L26.2 269.5L26.7 269.5L27.2 269.5L27.7 269.5L28.2 269.5L28.8 269.5L29.3 269.5L29.8 269.5L30.3 269.5L30.8 269.5L31.3 269.5L31.8 269.5L32.3 269.5L32.8 269.5L33.4 269.5L33.9 269.5L34.4 269.5L34.9 269.5L35.4 269.5L35.9 269.5L36.4 269.5L36.9 269.5L37.4 269.5L38 269.5L38.5 269.5L39 269.5L39.5 269.5L40 269.5L40.5 269.5L41 269.5L41.5 269.5L42 269.5L42.6 269.5L43.1 269.5L43.6 269.5L44.1 269.5L44.6 269.5L45.1 269.5L45.6 269.5L46.1 269.5L46.6 269.5L47.2 269.5L47.7 269.5L48.2 269.5L48.7 269.5L49.2 269.5L49.7 269.5L50.2 269.5L50.7 269.5L51.2 269.5L51.8 269.5L52.3 269.5L52.8 269.5L53.3 269.5L53.8 269.5L54.3 269.5L54.8 269.5L55.3 269.5L55.8 269.5L56.4 269.5L56.9 269.5L57.4 269.5L57.9 269.5L58.4 269.5L58.9 269.5L59.4 269.5L59.9 269.5L60.5 269.5L61 269.5L61.5 269.5L62 269.5L62.5 269.5L63 269.5L63.5 269.5L64 269.5L64.5 269.5L65.1 269.5L65.6 269.5L66.1 269.5L66.6 269.5L67.1 269.5L67.6 269.5L68.1 269.5L68.6 269.5L69.1 269.5L69.7 269.5L70.2 269.5L70.7 269.5L71.2 269.5L71.7 269.5L72.2 269.5L72.7 269.5L73.2 269.5L73.7 269.5L74.3 269.5L74.8 269.5L75.3 269.5L75.8 269.5L76.3 269.5L76.8 269.5L77.3 269.5L77.8 269.5L78.3 269.5L78.9 269.5L79.4 269.5L79.9 269.5L80.4 269.5L80.9 269.5L81.4 269.5L81.9 269.5L82.4 269.5L82.9 269.5L83.5 269.5L84 269.5L84.5 269.5L85 269.5L85.5 269.5L86 269.5L86.5 269.5L87 269.5L87.5 269.5L88.1 269.5L88.6 269.5L89.1 269.5L89.6 269.5L90.1 269.5L90.6 269.5L91.1 269.5L91.6 269.5L92.1 269.5L92.7 269.5L93.2 269.5L93.7 269.5L94.2 269.5L94.7 269.5L95.2 269.5L95.7 269.5L96.2 269.5L96.7 269.5L97.3 269.5L97.8 269.5L98.3 269.5L98.8 269.5L99.3 269.5L99.8 269.5L100.3 269.5L100.8 269.5L101.3 269.5L101.9 269.5L102.4 269.5L102.9 269.5L103.4 269.5L103.9 269.5L104.4 269.5L104.9 269.5L105.4 269.5L105.9 269.5L106.5 269.5L107 269.5L107.5 269.5L108 269.5L108.5 269.5L109 269.5L109.5 269.5L110 269.5L110.5 269.5L111.1 269.5L111.6 269.5L112.1 269.5L112.6 269.5L113.1 269.5L113.6 269.5L114.1 269.5L114.6 269.5L115.1 269.5L115.7 269.5L116.2 269.5L116.7 269.5L117.2 269.5L117.7 269.5L118.2 269.5L118.7 269.5L119.2 269.5L119.7 269.5L120.3 269.5L120.8 269.5L121.3 269.5L121.8 269.5L122.3 269.5L122.8 269.5L123.3 269.5L123.8 269.5L124.4 269.5L124.9 269.5L125.4 269.5L125.9 269.5L126.4 269.5L126.9 269.5L127.4 269.5L127.9 269.5L128.4 269.5L129 269.5L129.5 269.5L130 269.5L130.5 269.5L131 269.5L131.5 269.5L132 269.5L132.5 269.5L133 269.5L133.6 269.5L134.1 269.5L134.6 269.5L134.9 269.5L135 269.5L135.1 269.5L135.2 269.5L135.3 269.5L135.4 269.5L135.5 269.5L135.6 269.5L135.7 269.5L135.8 269.5L135.9 269.5L136 269.5L136.1 269.5L136.2 269.5L136.3 269.5L136.4 269.5L136.5 269.5L136.6 269.5L136.6 259.8L136.7 259.8L136.8 259.8L136.9 259.8L137 259.8L137.1 259.7L137.2 259.7L137.3 259.7L137.4 259.7L137.5 259.7L137.6 259.6L137.7 259.6L137.8 259.6L137.9 259.6L138 259.6L138.1 259.5L138.2 259.5L138.3 259.5L138.4 259.5L138.5 259.5L138.5 259.4L138.6 259.4L138.7 259.4L138.8 259.4L138.9 259.4L139 259.4L139 259.3L139.1 259.3L139.2 259.3L139.3 259.3L139.4 259.3L139.5 259.2L139.6 259.2L139.7 259.2L139.8 259.2L139.9 259.2L139.9 259.1L140 259.1L140.1 259.1L140.2 259.1L140.3 259.1L140.4 259L140.5 259L140.6 259L140.7 259L140.8 258.9L140.9 258.9L141 258.9L141.1 258.9L141.2 258.8L141.3 258.8L141.4 258.8L141.5 258.8L141.6 258.7L141.7 258.7L141.8 258.7L141.9 258.7L142 258.6L142.1 258.6L142.2 258.6L142.3 258.6L142.4 258.5L142.5 258.5L142.6 258.5L142.7 258.5L142.7 258.4L142.8 258.4L142.9 258.4L143 258.4L143.1 258.4L143.1 258.3L143.2 258.3L143.3 258.3L143.4 258.3L143.4 258.2L143.5 258.2L143.6 258.2L143.7 258.2L143.8 258.1L143.9 258.1L144 258.1L144.1 258.1L144.1 258L144.2 258L144.3 258L144.4 258L144.5 257.9L144.6 257.9L144.7 257.9L144.8 257.8L144.9 257.8L145 257.8L145 257.7L145.1 257.7L145.2 257.7L145.3 257.7L145.3 106.7L145.4 133.3L145.4 152.6L145.5 165.1L145.6 173.9L145.6 180.6L145.7 185.9L145.7 190.2L145.8 193.9L145.8 194.5L145.9 196.9L145.9 199.6L146 202L146.1 204L146.1 205.9L146.2 207.6L146.3 209.1L146.3 210.4L146.3 210.7L146.4 211.7L146.4 212.9L146.5 213.9L146.6 214.9L146.6 215.9L146.7 216.7L146.8 217.5L146.8 218.3L146.8 218.4L146.9 219L147 219.7L147 220.3L147.1 220.9L147.1 221.5L147.2 222L147.3 222.6L147.3 223L147.4 223.1L147.4 223.5L147.5 224L147.5 224.4L147.6 224.8L147.7 225.2L147.7 225.6L147.8 225.9L147.9 226.3L147.9 226.6L148 226.9L148 227.2L148.1 227.5L148.2 227.8L148.2 228.1L148.3 228.4L148.4 228.6L148.4 228.7L148.4 228.9L148.5 229.1L148.6 229.3L148.6 229.6L148.7 229.8L148.7 230L148.8 230.2L148.9 230.4L148.9 230.6L149 230.8L149.1 230.9L149.1 231.1L149.2 231.3L149.3 231.4L149.3 231.6L149.4 231.8L149.5 231.9L149.5 232.1L149.6 232.2L149.6 232.3L149.7 232.5L149.8 232.6L149.8 232.7L149.9 232.9L150 233L150 233.1L150.1 233.2L150.2 233.3L150.2 233.4L150.3 233.5L150.3 233.6L150.4 233.7L150.5 233.8L150.5 233.9L150.6 234L150.7 234.1L150.7 234.2L150.8 234.3L150.9 234.3L150.9 234.4L151 234.5L151 234.6L151.1 234.6L151.2 234.7L151.2 234.8L151.3 234.8L151.4 234.9L151.4 235L151.5 235L151.6 235.1L151.7 235.2L151.8 235.2L151.8 235.3L151.9 235.3L151.9 235.4L152 235.4L152.1 235.5L152.2 235.6L152.3 235.6L152.4 235.7L152.5 235.7L152.6 235.8L152.7 235.8L152.8 235.9L152.9 235.9L153 235.9L153 236L153.1 236L153.2 236L153.3 236L153.4 236L153.5 236.1L153.6 236.1L153.7 236.1L153.8 236.1L153.9 236.1L154 236.1L154.1 236.1L154.2 236.1L154.3 236.1L154.4 236.1L154.5 236.1L154.6 236.1L154.6 236L154.7 236L154.8 236L154.9 236L155 235.9L155.1 235.9L155.2 235.9L155.3 235.8L155.4 235.8L155.5 235.8L155.5 235.7L155.6 235.7L155.7 235.6L155.8 235.6L155.8 235.5L155.9 235.5L156 235.5L156 235.4L156.1 235.4L156.2 235.3L156.3 235.2L156.4 235.2L156.4 235.1L156.5 235L156.6 235L156.6 234.9L156.7 234.9L156.7 234.8L156.8 234.7L156.9 234.7L156.9 234.6L157 234.5L157.1 234.4L157.2 234.3L157.2 234.2L157.3 234.1L157.4 234L157.4 233.9L157.5 233.9L157.6 233.8L157.6 233.7L157.7 233.6L157.8 233.5L157.8 233.4L157.9 233.2L157.9 233.1L158 233L158.1 232.9L158.1 232.8L158.2 232.7L158.3 232.5L158.3 232.4L158.4 232.3L158.5 232.1L158.5 232L158.6 231.8L158.7 231.7L158.7 231.5L158.8 231.4L158.8 231.2L158.9 231L159 230.8L159 230.7L159.1 230.5L159.1 230.4L159.2 230.3L159.2 230.1L159.3 229.9L159.4 229.6L159.4 229.4L159.5 229.2L159.5 229L159.6 228.7L159.7 228.5L159.7 228.2L159.8 227.9L159.9 227.6L159.9 227.3L160 227L160.1 226.7L160.1 226.4L160.1 226.3L160.2 226.1L160.2 225.7L160.3 225.3L160.4 225L160.4 224.6L160.5 224.1L160.6 223.7L160.6 223.2L160.6 223.1L160.7 222.8L160.8 222.2L160.8 221.7L160.9 221.2L161 220.6L161 219.9L161.1 219.3L161.1 218.6L161.2 218.4L161.2 217.8L161.3 217.1L161.3 216.2L161.4 215.3L161.5 214.3L161.5 213.3L161.6 212.2L161.7 211L161.7 210.7L161.7 209.6L161.8 208.2L161.8 206.6L161.9 204.8L162 202.8L162 200.6L162.1 198.1L162.2 195.2L162.2 194.5L162.2 191.8L162.3 187.7L162.4 182.9L162.4 176.8L162.5 168.9L162.5 158.2L162.6 142.3L162.7 114.9L162.7 106.7L162.7 257.7L162.8 257.7L162.9 257.7L163 257.8L163.1 257.8L163.2 257.8L163.3 257.8L163.3 257.9L163.4 257.9L163.5 257.9L163.6 257.9L163.6 258L163.7 258L163.8 258L163.9 258L164 258.1L164.1 258.1L164.2 258.1L164.3 258.2L164.4 258.2L164.5 258.2L164.6 258.3L164.7 258.3L164.8 258.3L164.9 258.3L165 258.4L165.1 258.4L165.2 258.4L165.3 258.5L165.4 258.5L165.5 258.5L165.6 258.5L165.7 258.6L165.8 258.6L165.9 258.6L166 258.6L166.1 258.7L166.2 258.7L166.3 258.7L166.4 258.7L166.4 258.8L166.5 258.8L166.6 258.8L166.7 258.8L166.8 258.8L166.8 258.9L166.9 258.9L167 258.9L167.1 258.9L167.2 258.9L167.3 259L167.4 259L167.5 259L167.6 259L167.7 259L167.7 259.1L167.8 259.1L167.9 259.1L168 259.1L168.1 259.2L168.2 259.2L168.3 259.2L168.4 259.2L168.5 259.2L168.6 259.3L168.7 259.3L168.8 259.3L168.9 259.3L169 259.3L169.1 259.4L169.2 259.4L169.3 259.4L169.4 259.4L169.5 259.4L169.5 259.5L169.6 259.5L169.7 259.5L169.8 259.5L169.9 259.5L170 259.5L170 259.6L170.1 259.6L170.2 259.6L170.3 259.6L170.4 259.6L170.5 259.6L170.5 259.7L170.6 259.7L170.7 259.7L170.8 259.7L170.9 259.7L171 259.7L171 259.8L171.1 259.8L171.2 259.8L171.3 259.8L171.4 259.8L171.4 269.5L171.5 269.5L171.6 269.5L171.7 269.5L171.8 269.5L171.9 269.5L172 269.5L172.1 269.5L172.2 269.5L172.3 269.5L172.4 269.5L172.5 269.5L172.6 269.5L172.7 269.5L172.8 269.5L172.9 269.5L173 269.5L173.1 269.5L173.4 269.5L173.9 269.5L174.4 269.5L175 269.5L175.5 269.5L176 269.5L176.5 269.5L177 269.5L177.5 269.5L178 269.5L178.5 269.5L179 269.5L179.6 269.5L180.1 269.5L180.6 269.5L181.1 269.5L181.6 269.5L182.1 269.5L182.6 269.5L183.1 269.5L183.6 269.5L184.2 269.5L184.7 269.5L185.2 269.5L185.7 269.5L186.2 269.5L186.7 269.5L187.2 269.5L187.7 269.5L188.3 269.5L188.8 269.5L189.3 269.5L189.8 269.5L190.3 269.5L190.8 269.5L191.3 269.5L191.8 269.5L192.3 269.5L192.9 269.5L193.4 269.5L193.9 269.5L194.4 269.5L194.9 269.5L195.4 269.5L195.9 269.5L196.4 269.5L196.9 269.5L197.5 269.5L198 269.5L198.5 269.5L199 269.5L199.5 269.5L200 269.5L200.5 269.5L201 269.5L201.5 269.5L202.1 269.5L202.6 269.5L203.1 269.5L203.6 269.5L204.1 269.5L204.6 269.5L205.1 269.5L205.6 269.5L206.1 269.5L206.7 269.5L207.2 269.5L207.7 269.5L208.2 269.5L208.7 269.5L209.2 269.5L209.7 269.5L210.2 269.5L210.7 269.5L211.3 269.5L211.8 269.5L212.3 269.5L212.8 269.5L213.3 269.5L213.8 269.5L214.3 269.5L214.8 269.5L215.3 269.5L215.9 269.5L216.4 269.5L216.9 269.5L217.4 269.5L217.9 269.5L218.4 269.5L218.9 269.5L219.4 269.5L219.9 269.5L220.5 269.5L221 269.5L221.5 269.5L222 269.5L222.5 269.5L223 269.5L223.5 269.5L224 269.5L224.5 269.5L225.1 269.5L225.6 269.5L226.1 269.5L226.6 269.5L227.1 269.5L227.6 269.5L228.1 269.5L228.6 269.5L229.1 269.5L229.7 269.5L230.2 269.5L230.7 269.5L231.2 269.5L231.7 269.5L232.2 269.5L232.7 269.5L233.2 269.5L233.7 269.5L234.3 269.5L234.8 269.5L235.3 269.5L235.8 269.5L236.3 269.5L236.8 269.5L237.3 269.5L237.8 269.5L238.3 269.5L238.9 269.5L239.4 269.5L239.9 269.5L240.4 269.5L240.9 269.5L241.4 269.5L241.9 269.5L242.4 269.5L242.9 269.5L243.5 269.5L244 269.5L244.5 269.5L245 269.5L245.5 269.5L246 269.5L246.5 269.5L247 269.5L247.5 269.5L248.1 269.5L248.6 269.5L249.1 269.5L249.6 269.5L250.1 269.5L250.6 269.5L251.1 269.5L251.6 269.5L252.2 269.5L252.7 269.5L253.2 269.5L253.7 269.5L254.2 269.5L254.7 269.5L255.2 269.5L255.7 269.5L256.2 269.5L256.8 269.5L257.3 269.5L257.8 269.5L258.3 269.5L258.8 269.5L259.3 269.5L259.8 269.5L260.3 269.5L260.8 269.5L261.4 269.5L261.9 269.5L262.4 269.5L262.9 269.5L263.4 269.5L263.9 269.5L264.4 269.5L264.9 269.5L265.4 269.5L266 269.5L266.5 269.5L267 269.5L267.5 269.5L268 269.5L268.5 269.5L269 269.5L269.5 269.5L270 269.5L270.6 269.5L271.1 269.5L271.6 269.5L272.1 269.5L272.6 269.5L273.1 269.5L273.6 269.5L274.1 269.5L274.6 269.5L275.2 269.5L275.7 269.5L276.2 269.5L276.7 269.5L277.2 269.5L277.7 269.5L278.2 269.5L278.7 269.5L279.2 269.5L279.8 269.5L280.3 269.5L280.8 269.5L281.3 269.5L281.8 269.5L282.3 269.5L282.8 269.5L283.3 269.5L283.8 269.5L284.4 269.5L284.9 269.5L285.4 269.5L285.9 269.5L286.4 269.5L286.9 269.5L287.4 269.5L287.9 269.5L288.4 269.5L289 269.5L289.5 269.5L290 269.5L290.5 269.5L291 269.5L291.5 269.5L292 269.5L292.5 269.5L293 269.5L293.6 269.5L294.1 269.5L294.6 269.5L295.1 269.5L295.6 269.5L296.1 269.5L296.6 269.5L297.1 269.5L297.6 269.5L298.2 269.5L298.7 269.5L299.2 269.5L299.7 269.5L300.2 269.5L300.7 269.5L301.2 269.5L301.7 269.5L302.2 269.5L302.8 269.5L303.3 269.5L303.8 269.5L304.3 269.5L304.8 269.5L305.3 269.5L305.8 269.5L306.3 269.5L306.8 269.5L307.4 269.5L307.4 269.5L0.6 269.5Z" fill="url(#gB)"/>
<path d="M3.3 189.7L5.3 187.6L7.3 185.4L9.3 183.2L11.3 180.9L13.3 178.6L15.3 176.2L17.3 173.7L19.3 171.2L21.3 168.6L23.3 166L25.3 163.3L27.3 160.5L29.3 157.7L31.3 154.9L33.3 152L35.3 149.1L37.3 146.1L39.3 143L41.3 140L43.3 136.8L45.3 133.7L47.3 130.5L49.3 127.2L51.3 124L53.3 120.7L55.3 117.4L57.3 114L59.3 110.7L61.3 107.3L63.3 103.9L65.3 100.5L67.3 97.1L69.3 93.7L71.3 90.3L73.3 86.9L75.3 83.5L77.3 80.2L79.3 76.8L81.3 73.5L83.3 70.2L85.3 66.9L87.3 63.6L89.3 60.4L91.3 57.3L93.3 54.2L95.3 51.1L97.3 48.1L99.3 45.2L101.3 42.3L103.3 39.5L105.3 36.7L107.3 34L109.3 31.5L111.3 29L113.3 26.6L115.3 24.2L117.3 22L119.3 19.9L121.3 17.9L123.3 15.9L125.3 14.1L127.3 12.4L129.3 10.9L131.3 9.4L133.3 8L135.3 6.8L137.3 5.7L139.3 4.7L141.3 3.9L143.3 3.2L145.3 2.6L147.3 2.1L149.3 1.8L151.3 1.6L153.3 1.5L155.3 1.6L157.3 1.8L159.3 2.1L161.3 2.6L163.3 3.2L165.3 3.9L167.3 4.7L169.3 5.7L171.3 6.8L173.3 8L175.3 9.4L177.3 10.9L179.3 12.4L181.3 14.1L183.3 15.9L185.3 17.9L187.3 19.9L189.3 22L191.3 24.2L193.3 26.6L195.3 29L197.3 31.5L199.3 34L201.3 36.7L203.3 39.5L205.3 42.3L207.3 45.2L209.3 48.1L211.3 51.1L213.3 54.2L215.3 57.3L217.3 60.4L219.3 63.6L221.3 66.9L223.3 70.2L225.3 73.5L227.3 76.8L229.3 80.2L231.3 83.5L233.3 86.9L235.3 90.3L237.3 93.7L239.3 97.1L241.3 100.5L243.3 103.9L245.3 107.3L247.3 110.7L249.3 114L251.3 117.4L253.3 120.7L255.3 124L257.3 127.2L259.3 130.5L261.3 133.7L263.3 136.8L265.3 140L267.3 143L269.3 146.1L271.3 149.1L273.3 152L275.3 154.9L277.3 157.7L279.3 160.5L281.3 163.3L283.3 166L285.3 168.6L287.3 171.2L289.3 173.7L291.3 176.2L293.3 178.6L295.3 180.9L297.3 183.2L299.3 185.4L301.3 187.6L303.3 189.7" fill="none" stroke="url(#gRF)" stroke-width="2.3" stroke-dasharray="3.8 4.3"/>
<path d="M0.6 184.2L0.9 194.4L1.2 185.8L1.4 198.5L1.7 185.2L1.9 198.3L2.2 185.5L2.4 199.2L2.7 186.1L2.9 201.4L3.2 191.8L3.5 204.3L3.7 194.6L4 203.8L4.2 188.9L4.5 196.4L4.7 178.9L5 194.8L5.2 178L5.5 199.7L5.8 178.8L6 196.2L6.3 183.7L6.5 199.3L6.8 191.4L7 199.3L7.3 177.2L7.5 194.4L7.8 181L8.1 187.2L8.3 173.7L8.6 192.8L8.8 181.2L9.1 197.4L9.3 182.6L9.6 198L9.8 186.2L10.1 197L10.4 182.8L10.6 192.7L10.9 185.1L11.1 193.6L11.4 180L11.6 192.4L11.9 179L12.1 199.7L12.4 182.4L12.7 195.3L12.9 186.4L13.2 207L13.4 188.9L13.7 204.7L13.9 190.4L14.2 199.3L14.4 188.8L14.7 201.1L15 191.3L15.2 201.1L15.5 182.4L15.7 197.1L16 185.8L16.2 197.6L16.5 190.2L16.7 205.3L17 191.2L17.3 201.2L17.5 186.4L17.8 198.4L18 176.2L18.3 191.3L18.5 179L18.8 201.2L19 186.6L19.3 199.1L19.6 187.5L19.8 203.6L20.1 190.4L20.3 198.2L20.6 186.1L20.8 199.8L21.1 183.9L21.3 194.9L21.6 184.8L21.9 193.5L22.1 183.8L22.4 196.2L22.6 184.4L22.9 195.4L23.1 182.2L23.4 197.4L23.6 186.5L23.9 195.9L24.2 184.3L24.4 197.7L24.7 184.2L24.9 191.6L25.2 174.9L25.4 191L25.7 178L25.9 204.6L26.2 187.3L26.5 199.4L26.7 187.9L27 207.1L27.2 186.4L27.5 198.4L27.7 185.7L28 196.7L28.2 189.7L28.5 202.1L28.8 191.9L29 202.6L29.3 185.4L29.5 194.8L29.8 185.3L30 196.8L30.3 184.6L30.5 198.2L30.8 184L31.1 195.9L31.3 185.1L31.6 192.9L31.8 180.6L32.1 195.9L32.3 173.8L32.6 186.8L32.8 167.2L33.1 186.5L33.4 167.3L33.6 186.5L33.9 175.2L34.1 194L34.4 185.8L34.6 201L34.9 180.5L35.1 198.5L35.4 184.7L35.7 194.9L35.9 186.7L36.2 197.7L36.4 179L36.7 191.7L36.9 180.9L37.2 191.9L37.4 178.7L37.7 194.8L38 176.9L38.2 191.7L38.5 181.3L38.7 193.5L39 182L39.2 192.2L39.5 180.1L39.7 188.8L40 178.7L40.3 188.4L40.5 174.5L40.8 193.2L41 177.6L41.3 197.3L41.5 182.9L41.8 196.4L42 182.4L42.3 203.8L42.6 189.3L42.8 199L43.1 178.9L43.3 194.1L43.6 181.3L43.8 189.4L44.1 181.4L44.3 197.6L44.6 188.6L44.9 200L45.1 187.3L45.4 205.1L45.6 186.4L45.9 199.9L46.1 185L46.4 188.2L46.6 174.8L46.9 184.5L47.2 172.6L47.4 185.8L47.7 179.5L47.9 191.3L48.2 182.3L48.4 200.5L48.7 189.4L48.9 199.3L49.2 180.9L49.5 196.4L49.7 179.2L50 189.9L50.2 178.3L50.5 191.1L50.7 177.7L51 194.7L51.2 182.7L51.5 198.1L51.8 176L52 190.3L52.3 177.7L52.5 194.6L52.8 179.2L53 203.8L53.3 184.3L53.5 201.9L53.8 181.8L54.1 197.2L54.3 186.1L54.6 197.4L54.8 178.4L55.1 200.5L55.3 180L55.6 185.8L55.8 175.3L56.1 183.3L56.4 172.7L56.6 192.1L56.9 178.9L57.1 191.9L57.4 172.4L57.6 188.2L57.9 178.9L58.2 190.8L58.4 181.1L58.7 198.5L58.9 184.4L59.2 198.5L59.4 184.7L59.7 194.2L59.9 180L60.2 190.1L60.5 174L60.7 198.4L61 182L61.2 193.1L61.5 182.9L61.7 194.1L62 177.1L62.2 189.4L62.5 179.7L62.8 190.1L63 184.3L63.3 200.4L63.5 188.5L63.8 204.2L64 180.5L64.3 195.8L64.5 163.1L64.8 187.4L65.1 173.8L65.3 188.7L65.6 176.1L65.8 191.4L66.1 173.7L66.3 186.3L66.6 179.1L66.8 188.6L67.1 182.1L67.4 192.8L67.6 178.6L67.9 188.7L68.1 177.4L68.4 195.2L68.6 186.1L68.9 202.4L69.1 182.9L69.4 192.3L69.7 179.9L69.9 189.9L70.2 167.8L70.4 189.5L70.7 175.3L70.9 189.8L71.2 178.3L71.4 198.8L71.7 179.2L72 189.4L72.2 184.5L72.5 200L72.7 188.5L73 197.3L73.2 183.1L73.5 196.6L73.7 187.4L74 201.3L74.3 185L74.5 196.4L74.8 179.4L75 201.8L75.3 182.2L75.5 195.5L75.8 178.6L76 186.6L76.3 175.8L76.6 184.3L76.8 175.8L77.1 185.2L77.3 172.2L77.6 190.2L77.8 182.4L78.1 194.3L78.3 182.3L78.6 198.5L78.9 180.1L79.1 188L79.4 177.7L79.6 191.6L79.9 180.3L80.1 192.8L80.4 180.8L80.6 190.7L80.9 180.7L81.2 188.6L81.4 173.5L81.7 188.4L81.9 176.1L82.2 191.1L82.4 176.3L82.7 188.8L82.9 171.4L83.2 186.4L83.5 175.6L83.7 186.7L84 178.1L84.2 188.8L84.5 173.6L84.7 189.8L85 170.4L85.2 178L85.5 165.2L85.8 180.3L86 168.2L86.3 186.8L86.5 169.5L86.8 187.5L87 173.3L87.3 193.9L87.5 178.6L87.8 187.8L88.1 168.4L88.3 185.5L88.6 175.8L88.8 192.1L89.1 177.4L89.3 189.8L89.6 171.5L89.8 187.7L90.1 172.2L90.4 184.3L90.6 172.5L90.9 181.7L91.1 173.4L91.4 183.4L91.6 172.3L91.9 178.3L92.1 167.5L92.4 175.3L92.7 166.4L92.9 186.5L93.2 171.5L93.4 184.1L93.7 170.7L93.9 188.5L94.2 171.6L94.4 193.3L94.7 175L95 187.5L95.2 174.4L95.5 188.1L95.7 170L96 179.7L96.2 164.9L96.5 184.3L96.7 165.8L97 177.3L97.3 161.4L97.5 174.3L97.8 166.6L98 180.8L98.3 168.8L98.5 181.5L98.8 164L99 181.6L99.3 165.7L99.6 180.4L99.8 169.2L100.1 179.2L100.3 169.2L100.6 179.8L100.8 165.2L101.1 183.2L101.3 163.6L101.6 172.5L101.9 161L102.1 172.4L102.4 153.6L102.6 173.3L102.9 163L103.1 174.2L103.4 164.8L103.6 178.8L103.9 166.7L104.2 181.6L104.4 166L104.7 181.1L104.9 167.1L105.2 182.6L105.4 159.1L105.7 174.8L105.9 159.5L106.2 174.8L106.5 164.9L106.7 178.3L107 154.3L107.2 172.4L107.5 155.4L107.7 171.2L108 161.1L108.2 178.2L108.5 162.9L108.8 175.5L109 156.7L109.3 173.2L109.5 160.8L109.8 176.7L110 164.9L110.3 177.7L110.5 168.1L110.8 176.2L111.1 159.7L111.3 168.6L111.6 152.8L111.8 168.2L112.1 153.5L112.3 164.1L112.6 145.7L112.8 159.5L113.1 149.5L113.4 163.8L113.6 147.7L113.9 159.5L114.1 141.6L114.4 157.5L114.6 144.2L114.9 153.5L115.1 140.8L115.4 151.6L115.7 138.3L115.9 146.3L116.2 133.8L116.4 143.5L116.7 127.9L116.9 131.3L117.2 113.9L117.4 123.6L117.7 107.5L118 120.2L118.2 101.5L118.5 115.6L118.7 95.1L119 111.1L119.2 100L119.5 120.5L119.7 102.8L120 119.2L120.3 104.9L120.5 120.2L120.8 108.6L121 123.5L121.3 112L121.5 127.8L121.8 118.7L122 134.7L122.3 118.3L122.6 138.5L122.8 114L123.1 131L123.3 122.9L123.6 133.2L123.8 126.6L124.1 136.3L124.4 122.5L124.6 145.3L124.9 128.9L125.1 149.7L125.4 133.5L125.6 150.9L125.9 137.6L126.1 153.3L126.4 135.6L126.7 149.6L126.9 132.7L127.2 157.1L127.4 133.8L127.7 147.9L127.9 132.1L128.2 150.2L128.4 137.6L128.7 152L129 132.8L129.2 149.9L129.5 133L129.7 146.2L130 133.1L130.2 151.8L130.5 134L130.7 143.9L131 137L131.3 145.7L131.5 133.3L131.8 146.1L132 138.6L132.3 151.9L132.5 130.9L132.8 147L133 135.2L133.3 144.7L133.6 132.7L133.8 145.4L134.1 136.3L134.3 149.7L134.6 134.4L134.8 143.2L135.1 133.4L135.3 143.3L135.6 133.6L135.9 148.1L136.1 132.6L136.4 138.5L136.6 123.6L136.9 129.6L137.1 116.7L137.4 132.6L137.6 121.3L137.9 137.6L138.2 125.4L138.4 142.4L138.7 124.6L138.9 131.2L139.2 120.6L139.4 128L139.7 114.8L139.9 126.2L140.2 112L140.5 120.7L140.7 107.8L141 117.9L141.2 101.2L141.5 107.2L141.7 96.9L142 105.9L142.2 92.6L142.5 106.4L142.8 85.4L143 91.3L143.3 77.1L143.5 81.9L143.8 63.6L144 67.7L144.3 49.7L144.5 55L144.8 38.4L145.1 47.7L145.3 27.6L145.6 39.9L145.8 20.6L146.1 31.5L146.3 14.9L146.6 32.8L146.8 20.8L147.1 40.3L147.4 20.6L147.6 36.8L147.9 17.7L148.1 34.5L148.4 20.1L148.6 36.3L148.9 28.3L149.1 46.7L149.4 26.6L149.7 43.6L149.9 37.4L150.2 53.7L150.4 40.1L150.7 54.2L150.9 44.6L151.2 54.8L151.4 43.6L151.7 60.3L152 51.3L152.2 64.4L152.5 53.9L152.7 70L153 56L153.2 65L153.5 53.1L153.7 65.6L154 47.3L154.3 65.2L154.5 54.7L154.8 62.1L155 43.9L155.3 58.6L155.5 46L155.8 58.1L156 34.9L156.3 52.2L156.6 38.9L156.8 51.5L157.1 39.4L157.3 48.4L157.6 36.1L157.8 57L158.1 34.4L158.3 42.1L158.6 27.5L158.9 44L159.1 23.3L159.4 36.5L159.6 26L159.9 37.2L160.1 23L160.4 31.5L160.6 18.9L160.9 38.1L161.2 20.9L161.4 28.8L161.7 21L161.9 36.5L162.2 25.2L162.4 41.7L162.7 26.5L162.9 42.9L163.2 39.6L163.5 57.7L163.7 48.6L164 73.7L164.2 62.7L164.5 82.4L164.7 76.8L165 98.5L165.2 84L165.5 101.7L165.8 92.7L166 105.6L166.3 93.2L166.5 108.9L166.8 100.4L167 121.3L167.3 108.8L167.5 121.5L167.8 111.2L168.1 126.6L168.3 117.8L168.6 132.3L168.8 121.1L169.1 129.5L169.3 115.9L169.6 129.4L169.8 116.7L170.1 131.6L170.4 110.8L170.6 139L170.9 124.6L171.1 135.2L171.4 122.2L171.6 139.7L171.9 130.8L172.1 144.9L172.4 135.4L172.7 147.5L172.9 128.4L173.2 148.7L173.4 132.6L173.7 147.4L173.9 137.6L174.2 147.3L174.4 136.4L174.7 147.1L175 135L175.2 147.6L175.5 134.5L175.7 147.8L176 131.2L176.2 144.6L176.5 136.5L176.7 151.8L177 144.8L177.3 157.7L177.5 140.7L177.8 159.1L178 144.6L178.3 163.6L178.5 139.7L178.8 151L179 140.6L179.3 161.2L179.6 143.7L179.8 152.1L180.1 135.8L180.3 149.2L180.6 136.1L180.8 148.6L181.1 131L181.3 154.5L181.6 136.2L181.9 146.8L182.1 124.5L182.4 140.7L182.6 128.5L182.9 138.5L183.1 126.3L183.4 137.4L183.6 120.1L183.9 136.5L184.2 125.2L184.4 137.4L184.7 124.9L184.9 134.5L185.2 113.6L185.4 135.4L185.7 120.9L185.9 133.2L186.2 111.3L186.5 127.1L186.7 111.7L187 130.5L187.2 112.6L187.5 125.4L187.7 113.9L188 129.1L188.3 110.6L188.5 124.9L188.8 107.8L189 115L189.3 105.1L189.5 114.2L189.8 105L190 118.4L190.3 103.4L190.6 122.5L190.8 111.8L191.1 140.7L191.3 122.4L191.6 141.6L191.8 131.1L192.1 150.9L192.3 140.5L192.6 151.8L192.9 146.7L193.1 158.9L193.4 151.7L193.6 162.7L193.9 151.3L194.1 166.4L194.4 149.2L194.6 168.5L194.9 160.7L195.2 171.7L195.4 160L195.7 178L195.9 168.1L196.2 181.5L196.4 167.5L196.7 173.4L196.9 155.9L197.2 173L197.5 165.3L197.7 178L198 162L198.2 182.1L198.5 159.7L198.7 169.7L199 156.6L199.2 170.4L199.5 155.6L199.8 177.3L200 161.1L200.3 174L200.5 162.7L200.8 174.8L201 159.9L201.3 179.3L201.5 160.6L201.8 176.3L202.1 160.6L202.3 174L202.6 165.2L202.8 181.8L203.1 167.3L203.3 183.1L203.6 167.1L203.8 183L204.1 165.8L204.4 178.3L204.6 164.9L204.9 185L205.1 169.3L205.4 183.4L205.6 174.9L205.9 182.4L206.1 169.8L206.4 178.5L206.7 164.8L206.9 179.9L207.2 170.2L207.4 181.4L207.7 165.2L207.9 178.4L208.2 167.2L208.4 174.8L208.7 160.7L209 182.5L209.2 169.7L209.5 186L209.7 168.4L210 184.9L210.2 174.7L210.5 183.2L210.7 170L211 179.5L211.3 167.3L211.5 181.3L211.8 172.9L212 187.4L212.3 166.8L212.5 191.5L212.8 178.2L213 190.9L213.3 176.4L213.6 192.3L213.8 177L214.1 184.3L214.3 169.2L214.6 182.4L214.8 168.4L215.1 189L215.3 168.4L215.6 185L215.9 174.4L216.1 180.9L216.4 162.7L216.6 178.5L216.9 164.8L217.1 178.1L217.4 169L217.6 181.4L217.9 167.4L218.2 179.8L218.4 165.1L218.7 182.4L218.9 167.7L219.2 184.9L219.4 172.2L219.7 185.7L219.9 171.6L220.2 186.1L220.5 176L220.7 195.6L221 174L221.2 187L221.5 178.3L221.7 188.8L222 174.6L222.2 187.9L222.5 169.5L222.8 184.4L223 174.2L223.3 180.2L223.5 165.9L223.8 181.7L224 172.4L224.3 190.8L224.5 176.1L224.8 197.3L225.1 178.1L225.3 191.1L225.6 182.9L225.8 198.8L226.1 179.1L226.3 190.6L226.6 180.6L226.8 193.2L227.1 181.1L227.4 192.8L227.6 184.7L227.9 195L228.1 186.5L228.4 198.5L228.6 185.2L228.9 196.6L229.1 182.8L229.4 197.1L229.7 186.1L229.9 199.8L230.2 184.9L230.4 196.2L230.7 178.8L230.9 202.3L231.2 177.5L231.4 195.5L231.7 182.8L232 191.2L232.2 180.7L232.5 195.3L232.7 178.6L233 200.5L233.2 190.3L233.5 203.3L233.7 187.3L234 197.6L234.3 187.1L234.5 199.9L234.8 189.5L235 198.3L235.3 185.7L235.5 204.8L235.8 184.7L236 198.8L236.3 186.4L236.6 192.4L236.8 178.9L237.1 193L237.3 181.8L237.6 194.1L237.8 181.6L238.1 201.1L238.3 183.8L238.6 201L238.9 187.4L239.1 205.6L239.4 192.7L239.6 205.8L239.9 189.8L240.1 201.2L240.4 182.8L240.6 195.5L240.9 182.6L241.2 192.5L241.4 177L241.7 187.8L241.9 179.7L242.2 191.2L242.4 181.8L242.7 193.4L242.9 186.8L243.2 196.3L243.5 182.9L243.7 194.5L244 179.7L244.2 191.8L244.5 176.1L244.7 191.9L245 171.8L245.2 192.4L245.5 178.6L245.8 193.5L246 179.9L246.3 204.5L246.5 179.4L246.8 195.4L247 176.6L247.3 188.7L247.5 175.8L247.8 189L248.1 181.4L248.3 195L248.6 185.7L248.8 198.8L249.1 177L249.3 196.3L249.6 180.6L249.8 195.5L250.1 181.9L250.4 192.3L250.6 177.6L250.9 190.9L251.1 178.8L251.4 201.3L251.6 190.1L251.9 200.2L252.2 184.3L252.4 194.1L252.7 179.9L252.9 191.4L253.2 184.4L253.4 195.5L253.7 181.5L253.9 194.9L254.2 184.9L254.5 194L254.7 186.8L255 199.6L255.2 184.7L255.5 198.5L255.7 186.4L256 198.9L256.2 188L256.5 201.5L256.8 192.8L257 210.4L257.3 189L257.5 201.4L257.8 179.5L258 193.7L258.3 182.8L258.5 194L258.8 183.6L259.1 190L259.3 180.6L259.6 197.4L259.8 182.5L260.1 202.4L260.3 184.4L260.6 195.9L260.8 181.4L261.1 193.1L261.4 186.1L261.6 204.1L261.9 184.4L262.1 203.1L262.4 179.7L262.6 198.9L262.9 181.2L263.1 202.5L263.4 189.4L263.7 206.4L263.9 192.2L264.2 201.9L264.4 192.2L264.7 201.5L264.9 182.4L265.2 196.4L265.4 186.1L265.7 197.2L266 181.6L266.2 190.8L266.5 177.7L266.7 189.9L267 178.5L267.2 207.3L267.5 193.5L267.7 206.1L268 191L268.3 200.3L268.5 185.7L268.8 198.2L269 183.2L269.3 201.4L269.5 178.2L269.8 196.3L270 181.4L270.3 195.8L270.6 183.7L270.8 199.9L271.1 185.7L271.3 198.9L271.6 182.7L271.8 194.7L272.1 181.2L272.3 202L272.6 186.6L272.9 207.3L273.1 185.3L273.4 196.3L273.6 182.6L273.9 200L274.1 180.1L274.4 198.9L274.6 183.3L274.9 199.9L275.2 185.2L275.4 201L275.7 189.9L275.9 205.1L276.2 183.9L276.4 207.7L276.7 184.1L276.9 196.7L277.2 185.9L277.5 193.3L277.7 183.5L278 193.4L278.2 181.4L278.5 202.9L278.7 183.5L279 190.5L279.2 177.2L279.5 186.5L279.8 177.9L280 196.4L280.3 185.4L280.5 198.1L280.8 185.3L281 203L281.3 175L281.5 198.5L281.8 184L282.1 205.3L282.3 185.6L282.6 198.7L282.8 189.7L283.1 199.4L283.3 188.4L283.6 199.4L283.8 187.1L284.1 199.1L284.4 187.2L284.6 201.1L284.9 188.3L285.1 200.6L285.4 190.2L285.6 204.5L285.9 191.8L286.1 203.5L286.4 193.1L286.7 202.3L286.9 194.1L287.2 202.1L287.4 187L287.7 198.5L287.9 178.1L288.2 191.6L288.4 182.2L288.7 195.5L289 182L289.2 190.8L289.5 178.3L289.7 195L290 183.3L290.2 209.7L290.5 193.5L290.7 213.9L291 193.8L291.3 198.9L291.5 177.9L291.8 191.9L292 177.8L292.3 201.1L292.5 189.1L292.8 200.1L293 188.8L293.3 211.7L293.6 186.9L293.8 198.5L294.1 186.6L294.3 197.3L294.6 186.3L294.8 203.7L295.1 192.8L295.3 203.5L295.6 189.5L295.9 195.6L296.1 177.5L296.4 199.7L296.6 188.8L296.9 198L297.1 188.7L297.4 202.6L297.6 187.9L297.9 200.2L298.2 181.6L298.4 200.4L298.7 187.2L298.9 196.7L299.2 183.6L299.4 195.8L299.7 186.3L299.9 196.6L300.2 185.6L300.5 196.4L300.7 178.4L301 196.9L301.2 175.8L301.5 199.6L301.7 182.4L302 194.1L302.2 186.1L302.5 200L302.8 189.4L303 196.3L303.3 188.2L303.5 204.4L303.8 188.7L304 200.4L304.3 186.2L304.5 196L304.8 184.6L305.1 199L305.3 186.2L305.6 200.9L305.8 186.3L306.1 205.9L306.3 188.8L306.6 202L306.8 190L307.1 197.9L307.4 179.3" fill="none" stroke="#bd60a8" stroke-width="1.1" stroke-linejoin="round"/>
<path d="M0.6 228L0.9 228L1.2 228L1.4 228L1.7 228L1.9 228L2.2 228L2.4 228L2.7 228L2.9 228L3.2 228L3.5 228L3.7 228L4 228L4.2 228L4.5 228L4.7 228L5 228L5.2 228L5.5 228L5.8 228L6 228L6.3 228L6.5 228L6.8 228L7 228L7.3 228L7.5 228L7.8 228L8.1 228L8.3 228L8.6 228L8.8 228L9.1 228L9.3 228L9.6 228L9.8 228L10.1 228L10.4 228L10.6 228L10.9 228L11.1 228L11.4 228L11.6 228L11.9 228L12.1 228L12.4 228L12.7 228L12.9 228L13.2 228L13.4 228L13.7 228L13.9 228L14.2 228L14.4 228L14.7 228L15 228L15.2 228L15.5 228L15.7 228L16 228L16.2 228L16.5 228L16.7 228L17 228L17.3 228L17.5 228L17.8 228L18 228L18.3 228L18.5 228L18.8 228L19 228L19.3 228L19.6 228L19.8 228L20.1 228L20.3 228L20.6 228L20.8 228L21.1 228L21.3 228L21.6 228L21.9 228L22.1 228L22.4 228L22.6 228L22.9 228L23.1 228L23.4 228L23.6 228L23.9 228L24.2 228L24.4 228L24.7 228L24.9 228L25.2 228L25.4 228L25.7 228L25.9 228L26.2 228L26.5 228L26.7 228L27 228L27.2 228L27.5 228L27.7 228L28 228L28.2 228L28.5 228L28.8 228L29 228L29.3 228L29.5 228L29.8 228L30 228L30.3 228L30.5 228L30.8 228L31.1 228L31.3 228L31.6 228L31.8 228L32.1 228L32.3 228L32.6 228L32.8 228L33.1 228L33.4 228L33.6 228L33.9 228L34.1 228L34.4 228L34.6 228L34.9 228L35.1 228L35.4 228L35.7 228L35.9 228L36.2 228L36.4 228L36.7 228L36.9 228L37.2 228L37.4 228L37.7 228L38 228L38.2 228L38.5 228L38.7 228L39 228L39.2 228L39.5 228L39.7 228L40 228L40.3 228L40.5 228L40.8 228L41 228L41.3 228L41.5 228L41.8 228L42 228L42.3 228L42.6 228L42.8 228L43.1 228L43.3 228L43.6 228L43.8 228L44.1 228L44.3 228L44.6 228L44.9 228L45.1 228L45.4 228L45.6 228L45.9 228L46.1 228L46.4 228L46.6 228L46.9 228L47.2 228L47.4 228L47.7 228L47.9 228L48.2 228L48.4 228L48.7 228L48.9 228L49.2 228L49.5 228L49.7 228L50 228L50.2 228L50.5 228L50.7 228L51 228L51.2 228L51.5 228L51.8 228L52 228L52.3 228L52.5 228L52.8 228L53 228L53.3 228L53.5 228L53.8 228L54.1 228L54.3 228L54.6 228L54.8 228L55.1 228L55.3 228L55.6 228L55.8 228L56.1 228L56.4 228L56.6 228L56.9 228L57.1 228L57.4 228L57.6 228L57.9 228L58.2 228L58.4 228L58.7 228L58.9 228L59.2 228L59.4 228L59.7 228L59.9 228L60.2 228L60.5 228L60.7 228L61 228L61.2 228L61.5 228L61.7 228L62 228L62.2 228L62.5 228L62.8 228L63 228L63.3 228L63.5 228L63.8 228L64 228L64.3 228L64.5 228L64.8 228L65.1 228L65.3 228L65.6 228L65.8 228L66.1 228L66.3 228L66.6 228L66.8 228L67.1 228L67.4 228L67.6 228L67.9 228L68.1 227.9L68.4 227.9L68.6 227.9L68.9 227.8L69.1 227.8L69.4 227.8L69.7 227.7L69.9 227.7L70.2 227.6L70.4 227.6L70.7 227.6L70.9 227.5L71.2 227.5L71.4 227.5L71.7 227.5L72 227.4L72.2 227.4L72.5 227.4L72.7 227.4L73 227.4L73.2 227.3L73.5 227.3L73.7 227.3L74 227.3L74.3 227.2L74.5 227.2L74.8 227.2L75 227.1L75.3 227.1L75.5 227L75.8 227L76 227L76.3 226.9L76.6 226.8L76.8 226.7L77.1 226.6L77.3 226.5L77.6 226.3L77.8 226.2L78.1 226L78.3 225.8L78.6 225.6L78.9 225.4L79.1 225.2L79.4 225L79.6 224.8L79.9 224.5L80.1 224.2L80.4 223.8L80.6 223.5L80.9 223.2L81.2 222.8L81.4 222.5L81.7 222.2L81.9 221.9L82.2 221.7L82.4 221.5L82.7 221.3L82.9 221.1L83.2 220.9L83.5 220.7L83.7 220.5L84 220.3L84.2 220.1L84.5 220L84.7 219.8L85 219.7L85.2 219.6L85.5 219.4L85.8 219.3L86 219.2L86.3 219.1L86.5 219L86.8 218.9L87 218.8L87.3 218.7L87.5 218.6L87.8 218.5L88.1 218.4L88.3 218.3L88.6 218.2L88.8 218.1L89.1 218.1L89.3 218L89.6 217.9L89.8 217.8L90.1 217.7L90.4 217.6L90.6 217.6L90.9 217.5L91.1 217.4L91.4 217.3L91.6 217.2L91.9 217.1L92.1 217L92.4 217L92.7 216.9L92.9 216.8L93.2 216.7L93.4 216.6L93.7 216.5L93.9 216.4L94.2 216.4L94.4 216.3L94.7 216.2L95 216.1L95.2 216.1L95.5 216L95.7 215.9L96 215.8L96.2 215.7L96.5 215.7L96.7 215.6L97 215.5L97.3 215.4L97.5 215.3L97.8 215.2L98 215.1L98.3 215.1L98.5 215L98.8 214.9L99 214.8L99.3 214.7L99.6 214.6L99.8 214.5L100.1 214.4L100.3 214.3L100.6 214.2L100.8 214L101.1 213.9L101.3 213.8L101.6 213.7L101.9 213.6L102.1 213.5L102.4 213.4L102.6 213.2L102.9 213.1L103.1 213L103.4 212.8L103.6 212.7L103.9 212.6L104.2 212.4L104.4 212.3L104.7 212.1L104.9 211.9L105.2 211.8L105.4 211.6L105.7 211.4L105.9 211.2L106.2 211L106.5 210.8L106.7 210.6L107 210.4L107.2 210.2L107.5 209.9L107.7 209.7L108 209.4L108.2 209.1L108.5 208.8L108.8 208.5L109 208.2L109.3 207.9L109.5 207.5L109.8 207.2L110 206.8L110.3 206.4L110.5 205.9L110.8 205.4L111.1 204.9L111.3 204.3L111.6 203.7L111.8 203.1L112.1 202.4L112.3 201.6L112.6 200.8L112.8 199.9L113.1 198.8L113.4 197.4L113.6 195.9L113.9 194.2L114.1 192.2L114.4 189.5L114.6 186.3L114.9 182.8L115.1 179.3L115.4 175.6L115.7 171.5L115.9 167.6L116.2 164.5L116.4 162.2L116.7 160.2L116.9 158.5L117.2 157.3L117.4 156.4L117.7 155.6L118 154.9L118.2 154.5L118.5 154.4L118.7 154.7L119 155.4L119.2 156.2L119.5 157.2L119.7 158.2L120 159.2L120.3 160.4L120.5 161.8L120.8 163.3L121 164.7L121.3 166L121.5 167.2L121.8 168.3L122 169.4L122.3 170.5L122.6 171.5L122.8 172.5L123.1 173.4L123.3 174.2L123.6 175L123.8 175.7L124.1 176.4L124.4 177.1L124.6 177.7L124.9 178.3L125.1 178.9L125.4 179.4L125.6 179.9L125.9 180.4L126.1 180.8L126.4 181.2L126.7 181.6L126.9 181.9L127.2 182.2L127.4 182.6L127.7 182.9L127.9 183.1L128.2 183.4L128.4 183.6L128.7 183.8L129 184L129.2 184.1L129.5 184.2L129.7 184.2L130 184.3L130.2 184.3L130.5 184.4L130.7 184.4L131 184.5L131.3 184.5L131.5 184.5L131.8 184.5L132 184.4L132.3 184.2L132.5 184L132.8 183.7L133 183.4L133.3 183L133.6 182.6L133.8 182.2L134.1 181.8L134.3 181.3L134.6 180.9L134.8 180.3L135.1 179.6L135.3 178.8L135.6 178L135.9 177.1L136.1 176.2L136.4 175.2L136.6 174.2L136.9 173.1L137.1 172L137.4 170.7L137.6 169.4L137.9 168L138.2 166.5L138.4 164.9L138.7 163.1L138.9 161.3L139.2 159.2L139.4 157.1L139.7 154.7L139.9 152L140.2 149.1L140.5 146L140.7 142.7L141 139.3L141.2 135.6L141.5 131.7L141.7 127.8L142 123.8L142.2 119.8L142.5 115.8L142.8 111.8L143 108L143.3 104.2L143.5 100.3L143.8 96.5L144 92.7L144.3 89L144.5 85.5L144.8 81.9L145.1 78.1L145.3 74.7L145.6 72L145.8 70.2L146.1 68.7L146.3 67.3L146.6 66.3L146.8 65.7L147.1 65.6L147.4 66.1L147.6 67.1L147.9 68.2L148.1 69.6L148.4 70.9L148.6 72.3L148.9 74L149.1 75.9L149.4 77.9L149.7 79.9L149.9 81.7L150.2 83.3L150.4 84.6L150.7 86L150.9 87.3L151.2 88.4L151.4 89.5L151.7 90.5L152 91.3L152.2 91.9L152.5 92.6L152.7 93.2L153 93.8L153.2 94.3L153.5 94.7L153.7 94.9L154 95L154.3 94.9L154.5 94.7L154.8 94.3L155 93.8L155.3 93.2L155.5 92.6L155.8 91.9L156 91.3L156.3 90.5L156.6 89.5L156.8 88.4L157.1 87.3L157.3 86L157.6 84.6L157.8 83.3L158.1 81.7L158.3 79.9L158.6 77.9L158.9 75.9L159.1 74L159.4 72.3L159.6 70.9L159.9 69.6L160.1 68.2L160.4 67.1L160.6 66.1L160.9 65.6L161.2 65.7L161.4 66.3L161.7 67.3L161.9 68.7L162.2 70.2L162.4 72L162.7 74.7L162.9 78.1L163.2 81.9L163.5 85.5L163.7 89L164 92.7L164.2 96.5L164.5 100.3L164.7 104.2L165 108L165.2 111.8L165.5 115.8L165.8 119.8L166 123.8L166.3 127.8L166.5 131.7L166.8 135.6L167 139.3L167.3 142.7L167.5 146L167.8 149.1L168.1 152L168.3 154.7L168.6 157.1L168.8 159.2L169.1 161.3L169.3 163.1L169.6 164.9L169.8 166.5L170.1 168L170.4 169.4L170.6 170.7L170.9 172L171.1 173.1L171.4 174.2L171.6 175.2L171.9 176.2L172.1 177.1L172.4 178L172.7 178.8L172.9 179.6L173.2 180.3L173.4 180.9L173.7 181.3L173.9 181.8L174.2 182.2L174.4 182.6L174.7 183L175 183.4L175.2 183.7L175.5 184L175.7 184.2L176 184.4L176.2 184.5L176.5 184.5L176.7 184.5L177 184.5L177.3 184.4L177.5 184.4L177.8 184.3L178 184.3L178.3 184.2L178.5 184.2L178.8 184.1L179 184L179.3 183.8L179.6 183.6L179.8 183.4L180.1 183.1L180.3 182.9L180.6 182.6L180.8 182.2L181.1 181.9L181.3 181.6L181.6 181.2L181.9 180.8L182.1 180.4L182.4 179.9L182.6 179.4L182.9 178.9L183.1 178.3L183.4 177.7L183.6 177.1L183.9 176.4L184.2 175.7L184.4 175L184.7 174.2L184.9 173.4L185.2 172.5L185.4 171.5L185.7 170.5L185.9 169.4L186.2 168.3L186.5 167.2L186.7 166L187 164.7L187.2 163.3L187.5 161.8L187.7 160.4L188 159.2L188.3 158.2L188.5 157.2L188.8 156.2L189 155.4L189.3 154.7L189.5 154.4L189.8 154.5L190 154.9L190.3 155.6L190.6 156.4L190.8 157.3L191.1 158.5L191.3 160.2L191.6 162.2L191.8 164.5L192.1 167.6L192.3 171.5L192.6 175.6L192.9 179.3L193.1 182.8L193.4 186.3L193.6 189.5L193.9 192.2L194.1 194.2L194.4 195.9L194.6 197.4L194.9 198.8L195.2 199.9L195.4 200.8L195.7 201.6L195.9 202.4L196.2 203.1L196.4 203.7L196.7 204.3L196.9 204.9L197.2 205.4L197.5 205.9L197.7 206.4L198 206.8L198.2 207.2L198.5 207.5L198.7 207.9L199 208.2L199.2 208.5L199.5 208.8L199.8 209.1L200 209.4L200.3 209.7L200.5 209.9L200.8 210.2L201 210.4L201.3 210.6L201.5 210.8L201.8 211L202.1 211.2L202.3 211.4L202.6 211.6L202.8 211.8L203.1 211.9L203.3 212.1L203.6 212.3L203.8 212.4L204.1 212.6L204.4 212.7L204.6 212.8L204.9 213L205.1 213.1L205.4 213.2L205.6 213.4L205.9 213.5L206.1 213.6L206.4 213.7L206.7 213.8L206.9 213.9L207.2 214L207.4 214.2L207.7 214.3L207.9 214.4L208.2 214.5L208.4 214.6L208.7 214.7L209 214.8L209.2 214.9L209.5 215L209.7 215.1L210 215.1L210.2 215.2L210.5 215.3L210.7 215.4L211 215.5L211.3 215.6L211.5 215.7L211.8 215.7L212 215.8L212.3 215.9L212.5 216L212.8 216.1L213 216.1L213.3 216.2L213.6 216.3L213.8 216.4L214.1 216.4L214.3 216.5L214.6 216.6L214.8 216.7L215.1 216.8L215.3 216.9L215.6 217L215.9 217L216.1 217.1L216.4 217.2L216.6 217.3L216.9 217.4L217.1 217.5L217.4 217.6L217.6 217.6L217.9 217.7L218.2 217.8L218.4 217.9L218.7 218L218.9 218.1L219.2 218.1L219.4 218.2L219.7 218.3L219.9 218.4L220.2 218.5L220.5 218.6L220.7 218.7L221 218.8L221.2 218.9L221.5 219L221.7 219.1L222 219.2L222.2 219.3L222.5 219.4L222.8 219.6L223 219.7L223.3 219.8L223.5 220L223.8 220.1L224 220.3L224.3 220.5L224.5 220.7L224.8 220.9L225.1 221.1L225.3 221.3L225.6 221.5L225.8 221.7L226.1 221.9L226.3 222.2L226.6 222.5L226.8 222.8L227.1 223.2L227.4 223.5L227.6 223.8L227.9 224.2L228.1 224.5L228.4 224.8L228.6 225L228.9 225.2L229.1 225.4L229.4 225.6L229.7 225.8L229.9 226L230.2 226.2L230.4 226.3L230.7 226.5L230.9 226.6L231.2 226.7L231.4 226.8L231.7 226.9L232 227L232.2 227L232.5 227L232.7 227.1L233 227.1L233.2 227.2L233.5 227.2L233.7 227.2L234 227.3L234.3 227.3L234.5 227.3L234.8 227.3L235 227.4L235.3 227.4L235.5 227.4L235.8 227.4L236 227.4L236.3 227.5L236.6 227.5L236.8 227.5L237.1 227.5L237.3 227.6L237.6 227.6L237.8 227.6L238.1 227.7L238.3 227.7L238.6 227.8L238.9 227.8L239.1 227.8L239.4 227.9L239.6 227.9L239.9 227.9L240.1 228L240.4 228L240.6 228L240.9 228L241.2 228L241.4 228L241.7 228L241.9 228L242.2 228L242.4 228L242.7 228L242.9 228L243.2 228L243.5 228L243.7 228L244 228L244.2 228L244.5 228L244.7 228L245 228L245.2 228L245.5 228L245.8 228L246 228L246.3 228L246.5 228L246.8 228L247 228L247.3 228L247.5 228L247.8 228L248.1 228L248.3 228L248.6 228L248.8 228L249.1 228L249.3 228L249.6 228L249.8 228L250.1 228L250.4 228L250.6 228L250.9 228L251.1 228L251.4 228L251.6 228L251.9 228L252.2 228L252.4 228L252.7 228L252.9 228L253.2 228L253.4 228L253.7 228L253.9 228L254.2 228L254.5 228L254.7 228L255 228L255.2 228L255.5 228L255.7 228L256 228L256.2 228L256.5 228L256.8 228L257 228L257.3 228L257.5 228L257.8 228L258 228L258.3 228L258.5 228L258.8 228L259.1 228L259.3 228L259.6 228L259.8 228L260.1 228L260.3 228L260.6 228L260.8 228L261.1 228L261.4 228L261.6 228L261.9 228L262.1 228L262.4 228L262.6 228L262.9 228L263.1 228L263.4 228L263.7 228L263.9 228L264.2 228L264.4 228L264.7 228L264.9 228L265.2 228L265.4 228L265.7 228L266 228L266.2 228L266.5 228L266.7 228L267 228L267.2 228L267.5 228L267.7 228L268 228L268.3 228L268.5 228L268.8 228L269 228L269.3 228L269.5 228L269.8 228L270 228L270.3 228L270.6 228L270.8 228L271.1 228L271.3 228L271.6 228L271.8 228L272.1 228L272.3 228L272.6 228L272.9 228L273.1 228L273.4 228L273.6 228L273.9 228L274.1 228L274.4 228L274.6 228L274.9 228L275.2 228L275.4 228L275.7 228L275.9 228L276.2 228L276.4 228L276.7 228L276.9 228L277.2 228L277.5 228L277.7 228L278 228L278.2 228L278.5 228L278.7 228L279 228L279.2 228L279.5 228L279.8 228L280 228L280.3 228L280.5 228L280.8 228L281 228L281.3 228L281.5 228L281.8 228L282.1 228L282.3 228L282.6 228L282.8 228L283.1 228L283.3 228L283.6 228L283.8 228L284.1 228L284.4 228L284.6 228L284.9 228L285.1 228L285.4 228L285.6 228L285.9 228L286.1 228L286.4 228L286.7 228L286.9 228L287.2 228L287.4 228L287.7 228L287.9 228L288.2 228L288.4 228L288.7 228L289 228L289.2 228L289.5 228L289.7 228L290 228L290.2 228L290.5 228L290.7 228L291 228L291.3 228L291.5 228L291.8 228L292 228L292.3 228L292.5 228L292.8 228L293 228L293.3 228L293.6 228L293.8 228L294.1 228L294.3 228L294.6 228L294.8 228L295.1 228L295.3 228L295.6 228L295.9 228L296.1 228L296.4 228L296.6 228L296.9 228L297.1 228L297.4 228L297.6 228L297.9 228L298.2 228L298.4 228L298.7 228L298.9 228L299.2 228L299.4 228L299.7 228L299.9 228L300.2 228L300.5 228L300.7 228L301 228L301.2 228L301.5 228L301.7 228L302 228L302.2 228L302.5 228L302.8 228L303 228L303.3 228L303.5 228L303.8 228L304 228L304.3 228L304.5 228L304.8 228L305.1 228L305.3 228L305.6 228L305.8 228L306.1 228L306.3 228L306.6 228L306.8 228L307.1 228L307.4 228" fill="none" stroke="#ff6a00" stroke-width="1.7" stroke-linejoin="round"/>
<path d="M0.6 248L1.2 248L1.7 248L2.2 248L2.7 248L3.2 248L3.7 248L4.2 248L4.7 248L5.2 248L5.8 248L6.3 248L6.8 248L7.3 248L7.8 248L8.3 248L8.8 248L9.3 248L9.8 248L10.4 248L10.9 248L11.4 248L11.9 248L12.4 248L12.9 248L13.4 248L13.9 248L14.4 248L15 248L15.5 248L16 248L16.5 248L17 248L17.5 248L18 248L18.5 248L19 248L19.6 248L20.1 248L20.6 248L21.1 248L21.6 248L22.1 248L22.6 248L23.1 248L23.6 248L24.2 248L24.7 248L25.2 248L25.7 248L26.2 248L26.7 248L27.2 248L27.7 248L28.2 248L28.8 248L29.3 248L29.8 248L30.3 248L30.8 248L31.3 248L31.8 248L32.3 248L32.8 248L33.4 248L33.9 248L34.4 248L34.9 248L35.4 248L35.9 248L36.4 248L36.9 248L37.4 248L38 248L38.5 248L39 248L39.5 248L40 248L40.5 248L41 248L41.5 248L42 248L42.6 248L43.1 248L43.6 248L44.1 248L44.6 248L45.1 248L45.6 248L46.1 248L46.6 248L47.2 248L47.7 248L48.2 248L48.7 248L49.2 248L49.7 248L50.2 248L50.7 248L51.2 248L51.8 248L52.3 248L52.8 248L53.3 248L53.8 248L54.3 248L54.8 248L55.3 248L55.8 248L56.4 248L56.9 248L57.4 248L57.9 248L58.4 248L58.9 248L59.4 248L59.9 248L60.5 248L61 248L61.5 248L62 248L62.5 248L63 248L63.5 248L64 248L64.5 248L65.1 248L65.6 248L66.1 248L66.6 248L67.1 248L67.6 248L68.1 248L68.6 248L69.1 248L69.7 248L70.2 248L70.7 248L71.2 248L71.7 248L72.2 248L72.7 248L73.2 248L73.7 248L74.3 248L74.8 248L75.3 248L75.8 248L76.3 248L76.8 248L77.3 248L77.8 248L78.3 248L78.9 248L79.4 248L79.9 248L80.4 248L80.9 248L80.9 246.8L81.4 246.8L81.9 246.8L82.4 246.8L82.9 246.8L83.5 246.8L84 246.8L84.5 246.8L85 246.8L85.5 246.8L86 246.8L86.5 246.8L87 246.8L87.5 246.8L88.1 246.8L88.6 246.8L89.1 246.8L89.6 246.7L90.1 246.7L90.6 246.7L91.1 246.7L91.6 246.7L92.1 246.7L92.7 246.7L93.2 246.7L93.7 246.7L94.2 246.7L94.7 246.7L95.2 246.7L95.7 246.7L96.2 246.7L96.7 246.7L97.3 246.7L97.8 246.7L98.3 246.7L98.8 246.7L99.3 246.7L99.8 246.7L100.3 246.7L100.8 246.7L101.3 246.7L101.9 246.7L102.4 246.7L102.9 246.7L103.4 246.7L103.9 246.7L104.4 246.6L104.9 246.6L105.4 246.6L105.9 246.6L106.5 246.6L107 246.6L107.5 246.6L108 246.6L108.5 246.6L109 246.6L109.5 246.6L110 246.6L110.5 246.6L111.1 246.6L111.6 246.6L112.1 246.6L112.6 246.6L113.1 246.6L113.2 246.6L113.3 246.6L113.4 246.6L113.5 246.6L113.6 246.6L113.7 246.6L113.8 246.6L113.9 246.6L114 246.6L114.1 246.6L114.2 246.6L114.3 246.6L114.4 246.6L114.5 246.6L114.6 246.6L114.7 246.6L114.8 246.6L114.9 246.6L115 246.6L115.1 246.6L115.2 246.6L115.3 246.6L115.4 246.6L115.5 246.6L115.5 246.5L115.6 246.5L115.7 246.5L115.8 246.5L115.9 246.5L116 246.5L116.1 246.5L116.2 246.5L116.3 246.5L116.4 246.5L116.5 246.5L116.6 246.5L116.7 246.5L116.8 246.5L116.9 246.5L117 246.5L117.1 246.5L117.2 246.5L117.3 246.5L117.4 246.5L117.4 177.5L117.5 206.2L117.6 215.2L117.6 220L117.7 223.1L117.8 225.4L117.8 227.1L117.9 228.4L118 229.5L118 230.4L118.1 231.2L118.2 231.9L118.2 232.5L118.3 233L118.3 233.5L118.4 233.9L118.5 234.3L118.5 234.6L118.6 235L118.7 235.3L118.7 235.5L118.8 235.8L118.9 236L118.9 236.3L119 236.5L119 236.7L119.1 236.9L119.2 237L119.2 237.2L119.3 237.4L119.4 237.5L119.4 237.7L119.5 237.8L119.6 237.9L119.6 238L119.7 238.2L119.7 238.3L119.8 238.4L119.9 238.5L119.9 238.6L120 238.7L120.1 238.8L120.1 238.9L120.2 239L120.3 239.1L120.4 239.2L120.5 239.3L120.5 239.4L120.6 239.4L120.6 239.5L120.7 239.6L120.8 239.6L120.8 239.7L120.9 239.8L121 239.8L121 239.9L121.1 239.9L121.2 240L121.3 240.1L121.3 240.2L121.4 240.2L121.5 240.3L121.6 240.3L121.7 240.4L121.8 240.5L121.9 240.5L121.9 240.6L122 240.6L122.1 240.7L122.2 240.7L122.2 240.8L122.3 240.8L122.4 240.8L122.4 240.9L122.5 240.9L122.6 240.9L122.6 241L122.7 241L122.8 241L122.8 241.1L122.9 241.1L123 241.2L123.1 241.2L123.2 241.2L123.3 241.3L123.4 241.3L123.5 241.4L123.6 241.4L123.7 241.5L123.8 241.5L123.9 241.5L124 241.6L124.1 241.6L124.2 241.6L124.3 241.7L124.4 241.7L124.5 241.7L124.6 241.8L124.7 241.8L124.8 241.8L124.9 241.8L124.9 241.9L125 241.9L125.1 241.9L125.2 241.9L125.2 242L125.3 242L125.4 242L125.5 242L125.6 242L125.6 242.1L125.7 242.1L125.8 242.1L125.9 242.1L126 242.2L126.1 242.2L126.2 242.2L126.3 242.2L126.4 242.2L126.5 242.3L126.6 242.3L126.7 242.3L126.8 242.3L126.9 242.3L127 242.4L127.1 242.4L127.2 242.4L127.3 242.4L127.4 242.4L127.5 242.5L127.6 242.5L127.7 242.5L127.8 242.5L127.9 242.5L128 242.5L128.1 242.6L128.2 242.6L128.3 242.6L128.4 242.6L128.5 242.6L128.6 242.6L128.6 242.7L128.7 242.7L128.8 242.7L128.9 242.7L129 242.7L129.1 242.7L129.2 242.7L129.3 242.7L129.3 242.8L129.4 242.8L129.5 242.8L129.6 242.8L129.7 242.8L129.8 242.8L129.9 242.8L130 242.8L130.1 242.9L130.2 242.9L130.3 242.9L130.4 242.9L130.5 242.9L130.6 242.9L130.7 242.9L130.8 242.9L130.9 242.9L130.9 243L131 243L131.1 243L131.2 243L131.3 243L131.4 243L131.5 243L131.6 243L131.7 243L131.8 243L131.8 243.1L131.9 243.1L132 243.1L132.1 243.1L132.2 243.1L132.3 243.1L132.4 243.1L132.5 243.1L132.6 243.1L132.7 243.1L132.8 243.1L132.9 243.2L133 243.2L133.1 243.2L133.2 243.2L133.3 243.2L133.4 243.2L133.5 243.2L133.6 243.2L133.7 243.2L133.8 243.2L133.9 243.2L134 243.2L134.1 243.2L134.1 243.3L134.2 243.3L134.3 243.3L134.4 243.3L134.5 243.3L134.6 243.3L134.7 243.3L134.8 243.3L134.9 243.3L135 243.3L135.1 243.3L135.2 243.3L135.3 243.3L135.4 243.3L135.5 243.3L135.5 243.4L135.6 243.4L135.7 243.4L135.8 243.4L135.9 243.4L136 243.4L136.1 243.4L136.2 243.4L136.3 243.4L136.4 243.4L136.5 243.4L136.6 243.4L136.7 243.4L136.8 243.4L136.9 243.4L137 243.4L137.1 243.4L137.1 243.5L137.2 243.5L137.3 243.5L137.4 243.5L137.5 243.5L137.6 243.5L137.7 243.5L137.8 243.5L137.9 243.5L138 243.5L138.1 243.5L138.2 243.5L138.3 243.5L138.4 243.5L138.5 243.5L138.6 243.5L138.7 243.5L138.8 243.5L138.9 243.5L139 243.5L139.1 243.6L139.2 243.6L139.3 243.6L139.4 243.6L139.5 243.6L139.6 243.6L139.7 243.6L139.8 243.6L139.9 243.6L140 243.6L140.1 243.6L140.2 243.6L140.3 243.6L140.4 243.6L140.5 243.6L140.6 243.6L140.7 243.6L140.8 243.6L140.9 243.6L141 243.6L141.1 243.6L141.2 243.6L141.3 243.6L141.4 243.6L141.5 243.6L141.6 243.6L141.7 243.7L141.8 243.7L141.9 243.7L142 243.7L142.1 243.7L142.2 243.7L142.3 243.7L142.4 243.7L142.5 243.7L142.6 243.7L142.7 243.7L142.8 243.7L142.9 243.7L143 243.7L143.1 243.7L143.2 243.7L143.3 243.7L143.4 243.7L143.5 243.7L143.6 243.7L143.7 243.7L143.8 243.7L143.9 243.7L144 243.7L144.1 243.7L144.2 243.7L144.3 243.7L144.4 243.7L144.5 243.7L144.6 243.7L144.7 243.7L144.8 243.7L144.9 243.7L145 243.7L145.1 243.7L145.2 243.8L145.3 243.8L145.4 243.8L145.5 243.8L145.6 243.8L145.7 243.8L145.8 243.8L145.9 243.8L146 243.8L146.1 243.8L146.2 243.8L146.3 243.8L146.4 243.8L146.5 243.8L146.6 243.8L146.7 243.8L146.8 243.8L146.9 243.8L147 243.8L147.1 243.8L147.2 243.8L147.3 243.8L147.4 243.8L147.5 243.8L147.6 243.8L147.7 243.8L147.8 243.8L147.9 243.8L148 243.8L148.1 243.8L148.2 243.8L148.3 243.8L148.4 243.8L148.5 243.8L148.6 243.8L148.7 243.8L148.8 243.8L148.9 243.8L149 243.8L149.1 243.8L149.2 243.8L149.3 243.8L149.4 243.8L149.5 243.8L149.6 243.8L149.7 243.8L149.8 243.8L149.9 243.8L150 243.8L150.1 243.8L150.2 243.8L150.3 243.8L150.4 243.8L150.5 243.8L150.6 243.8L150.7 243.8L150.8 243.8L150.9 243.8L151 243.8L151.1 243.8L151.2 243.8L151.3 243.8L151.4 243.8L151.5 243.8L151.6 243.8L151.7 243.8L151.8 243.8L151.9 243.8L152 243.8L152.1 243.8L152.2 243.8L152.3 243.8L152.4 243.8L152.5 243.8L152.6 243.8L152.7 243.8L152.8 243.8L152.9 243.8L153 243.8L153.1 243.8L153.2 243.8L153.3 243.8L153.4 243.8L153.5 243.8L153.6 243.8L153.7 243.8L153.8 243.8L153.9 243.8L154 243.8L154.1 243.8L154.2 243.8L154.3 243.8L154.4 243.8L154.5 243.8L154.6 243.8L154.7 243.8L154.8 243.8L154.9 243.8L155 243.8L155.1 243.8L155.2 243.8L155.3 243.8L155.4 243.8L155.5 243.8L155.6 243.8L155.7 243.8L155.8 243.8L155.9 243.8L156 243.8L156.1 243.8L156.2 243.8L156.3 243.8L156.4 243.8L156.5 243.8L156.6 243.8L156.7 243.8L156.8 243.8L156.9 243.8L157 243.8L157.1 243.8L157.2 243.8L157.3 243.8L157.4 243.8L157.5 243.8L157.6 243.8L157.7 243.8L157.8 243.8L157.9 243.8L158 243.8L158.1 243.8L158.2 243.8L158.3 243.8L158.4 243.8L158.5 243.8L158.6 243.8L158.7 243.8L158.8 243.8L158.9 243.8L159 243.8L159.1 243.8L159.2 243.8L159.3 243.8L159.4 243.8L159.5 243.8L159.6 243.8L159.7 243.8L159.8 243.8L159.9 243.8L160 243.8L160.1 243.8L160.2 243.8L160.3 243.8L160.4 243.8L160.5 243.8L160.6 243.8L160.7 243.8L160.8 243.8L160.9 243.8L161 243.8L161.1 243.8L161.2 243.8L161.3 243.8L161.4 243.8L161.5 243.8L161.6 243.8L161.7 243.8L161.8 243.8L161.9 243.8L162 243.8L162.1 243.8L162.2 243.8L162.3 243.8L162.4 243.8L162.5 243.8L162.6 243.8L162.7 243.8L162.8 243.8L162.9 243.7L163 243.7L163.1 243.7L163.2 243.7L163.3 243.7L163.4 243.7L163.5 243.7L163.6 243.7L163.7 243.7L163.8 243.7L163.9 243.7L164 243.7L164.1 243.7L164.2 243.7L164.3 243.7L164.4 243.7L164.5 243.7L164.6 243.7L164.7 243.7L164.8 243.7L164.9 243.7L165 243.7L165.1 243.7L165.2 243.7L165.3 243.7L165.4 243.7L165.5 243.7L165.6 243.7L165.7 243.7L165.8 243.7L165.9 243.7L166 243.7L166.1 243.7L166.2 243.7L166.3 243.7L166.4 243.6L166.5 243.6L166.6 243.6L166.7 243.6L166.8 243.6L166.9 243.6L167 243.6L167.1 243.6L167.2 243.6L167.3 243.6L167.4 243.6L167.5 243.6L167.6 243.6L167.7 243.6L167.8 243.6L167.9 243.6L168 243.6L168.1 243.6L168.2 243.6L168.3 243.6L168.4 243.6L168.5 243.6L168.6 243.6L168.7 243.6L168.8 243.6L168.9 243.6L169 243.5L169.1 243.5L169.2 243.5L169.3 243.5L169.4 243.5L169.5 243.5L169.6 243.5L169.7 243.5L169.8 243.5L169.9 243.5L170 243.5L170.1 243.5L170.2 243.5L170.3 243.5L170.4 243.5L170.5 243.5L170.6 243.5L170.7 243.5L170.8 243.5L170.9 243.5L170.9 243.4L171 243.4L171.1 243.4L171.2 243.4L171.3 243.4L171.4 243.4L171.5 243.4L171.6 243.4L171.7 243.4L171.8 243.4L171.9 243.4L172 243.4L172.1 243.4L172.2 243.4L172.3 243.4L172.4 243.4L172.5 243.4L172.5 243.3L172.6 243.3L172.7 243.3L172.8 243.3L172.9 243.3L173 243.3L173.1 243.3L173.2 243.3L173.3 243.3L173.4 243.3L173.5 243.3L173.6 243.3L173.7 243.3L173.8 243.3L173.9 243.3L173.9 243.2L174 243.2L174.1 243.2L174.2 243.2L174.3 243.2L174.4 243.2L174.5 243.2L174.6 243.2L174.7 243.2L174.8 243.2L174.9 243.2L175 243.2L175.1 243.2L175.2 243.1L175.3 243.1L175.4 243.1L175.5 243.1L175.6 243.1L175.7 243.1L175.8 243.1L175.9 243.1L176 243.1L176.1 243.1L176.2 243.1L176.2 243L176.3 243L176.4 243L176.5 243L176.6 243L176.7 243L176.8 243L176.9 243L177 243L177.1 243L177.1 242.9L177.2 242.9L177.3 242.9L177.4 242.9L177.5 242.9L177.6 242.9L177.7 242.9L177.8 242.9L177.9 242.9L178 242.8L178.1 242.8L178.2 242.8L178.3 242.8L178.4 242.8L178.5 242.8L178.6 242.8L178.7 242.8L178.7 242.7L178.8 242.7L178.9 242.7L179 242.7L179.1 242.7L179.2 242.7L179.3 242.7L179.4 242.7L179.4 242.6L179.5 242.6L179.6 242.6L179.7 242.6L179.8 242.6L179.9 242.6L180 242.5L180.1 242.5L180.2 242.5L180.3 242.5L180.4 242.5L180.5 242.5L180.6 242.4L180.7 242.4L180.8 242.4L180.9 242.4L181 242.4L181.1 242.3L181.2 242.3L181.3 242.3L181.4 242.3L181.5 242.3L181.6 242.2L181.7 242.2L181.8 242.2L181.9 242.2L182 242.2L182.1 242.1L182.2 242.1L182.3 242.1L182.4 242.1L182.4 242L182.5 242L182.6 242L182.7 242L182.8 242L182.8 241.9L182.9 241.9L183 241.9L183.1 241.9L183.1 241.8L183.2 241.8L183.3 241.8L183.4 241.8L183.5 241.7L183.6 241.7L183.7 241.7L183.8 241.6L183.9 241.6L184 241.6L184.1 241.5L184.2 241.5L184.3 241.5L184.4 241.4L184.5 241.4L184.6 241.3L184.7 241.3L184.8 241.2L184.9 241.2L185 241.2L185.1 241.1L185.2 241.1L185.2 241L185.3 241L185.4 241L185.4 240.9L185.5 240.9L185.6 240.9L185.6 240.8L185.7 240.8L185.8 240.8L185.8 240.7L185.9 240.7L185.9 240.6L186 240.6L186.1 240.6L186.1 240.5L186.2 240.5L186.3 240.4L186.4 240.3L186.5 240.3L186.6 240.2L186.7 240.2L186.7 240.1L186.8 240L186.9 239.9L187 239.9L187 239.8L187.1 239.8L187.2 239.7L187.2 239.6L187.3 239.6L187.4 239.5L187.4 239.4L187.5 239.4L187.5 239.3L187.6 239.2L187.7 239.1L187.8 239L187.9 238.9L187.9 238.8L188 238.7L188.1 238.6L188.1 238.5L188.2 238.4L188.3 238.3L188.3 238.2L188.4 238L188.4 237.9L188.5 237.8L188.6 237.7L188.6 237.5L188.7 237.4L188.8 237.2L188.8 237L188.9 236.9L189 236.7L189 236.5L189.1 236.3L189.1 236L189.2 235.8L189.3 235.5L189.3 235.3L189.4 235L189.5 234.6L189.5 234.3L189.6 233.9L189.7 233.5L189.7 233L189.8 232.5L189.8 231.9L189.9 231.2L190 230.4L190 229.5L190.1 228.4L190.2 227.1L190.2 225.4L190.3 223.1L190.4 220L190.4 215.2L190.5 206.2L190.6 177.5L190.6 246.5L190.7 246.5L190.8 246.5L190.9 246.5L191 246.5L191.1 246.5L191.2 246.5L191.3 246.5L191.4 246.5L191.5 246.5L191.6 246.5L191.7 246.5L191.8 246.5L191.9 246.5L192 246.5L192.1 246.5L192.2 246.5L192.3 246.5L192.4 246.5L192.5 246.5L192.5 246.6L192.6 246.6L192.7 246.6L192.8 246.6L192.9 246.6L193 246.6L193.1 246.6L193.2 246.6L193.3 246.6L193.4 246.6L193.5 246.6L193.6 246.6L193.7 246.6L193.8 246.6L193.9 246.6L194 246.6L194.1 246.6L194.2 246.6L194.3 246.6L194.4 246.6L194.5 246.6L194.6 246.6L194.7 246.6L194.8 246.6L194.9 246.6L195.4 246.6L195.9 246.6L196.4 246.6L196.9 246.6L197.5 246.6L198 246.6L198.5 246.6L199 246.6L199.5 246.6L200 246.6L200.5 246.6L201 246.6L201.5 246.6L202.1 246.6L202.6 246.6L203.1 246.6L203.6 246.6L204.1 246.7L204.6 246.7L205.1 246.7L205.6 246.7L206.1 246.7L206.7 246.7L207.2 246.7L207.7 246.7L208.2 246.7L208.7 246.7L209.2 246.7L209.7 246.7L210.2 246.7L210.7 246.7L211.3 246.7L211.8 246.7L212.3 246.7L212.8 246.7L213.3 246.7L213.8 246.7L214.3 246.7L214.8 246.7L215.3 246.7L215.9 246.7L216.4 246.7L216.9 246.7L217.4 246.7L217.9 246.7L218.4 246.7L218.9 246.8L219.4 246.8L219.9 246.8L220.5 246.8L221 246.8L221.5 246.8L222 246.8L222.5 246.8L223 246.8L223.5 246.8L224 246.8L224.5 246.8L225.1 246.8L225.6 246.8L226.1 246.8L226.6 246.8L227.1 246.8L227.1 248L227.6 248L228.1 248L228.6 248L229.1 248L229.7 248L230.2 248L230.7 248L231.2 248L231.7 248L232.2 248L232.7 248L233.2 248L233.7 248L234.3 248L234.8 248L235.3 248L235.8 248L236.3 248L236.8 248L237.3 248L237.8 248L238.3 248L238.9 248L239.4 248L239.9 248L240.4 248L240.9 248L241.4 248L241.9 248L242.4 248L242.9 248L243.5 248L244 248L244.5 248L245 248L245.5 248L246 248L246.5 248L247 248L247.5 248L248.1 248L248.6 248L249.1 248L249.6 248L250.1 248L250.6 248L251.1 248L251.6 248L252.2 248L252.7 248L253.2 248L253.7 248L254.2 248L254.7 248L255.2 248L255.7 248L256.2 248L256.8 248L257.3 248L257.8 248L258.3 248L258.8 248L259.3 248L259.8 248L260.3 248L260.8 248L261.4 248L261.9 248L262.4 248L262.9 248L263.4 248L263.9 248L264.4 248L264.9 248L265.4 248L266 248L266.5 248L267 248L267.5 248L268 248L268.5 248L269 248L269.5 248L270 248L270.6 248L271.1 248L271.6 248L272.1 248L272.6 248L273.1 248L273.6 248L274.1 248L274.6 248L275.2 248L275.7 248L276.2 248L276.7 248L277.2 248L277.7 248L278.2 248L278.7 248L279.2 248L279.8 248L280.3 248L280.8 248L281.3 248L281.8 248L282.3 248L282.8 248L283.3 248L283.8 248L284.4 248L284.9 248L285.4 248L285.9 248L286.4 248L286.9 248L287.4 248L287.9 248L288.4 248L289 248L289.5 248L290 248L290.5 248L291 248L291.5 248L292 248L292.5 248L293 248L293.6 248L294.1 248L294.6 248L295.1 248L295.6 248L296.1 248L296.6 248L297.1 248L297.6 248L298.2 248L298.7 248L299.2 248L299.7 248L300.2 248L300.7 248L301.2 248L301.7 248L302.2 248L302.8 248L303.3 248L303.8 248L304.3 248L304.8 248L305.3 248L305.8 248L306.3 248L306.8 248L307.4 248" fill="none" stroke="#ff00f0" stroke-width="1.7" stroke-linejoin="bevel"/>
<path d="M0.6 269.5L1.2 269.5L1.7 269.5L2.2 269.5L2.7 269.5L3.2 269.5L3.7 269.5L4.2 269.5L4.7 269.5L5.2 269.5L5.8 269.5L6.3 269.5L6.8 269.5L7.3 269.5L7.8 269.5L8.3 269.5L8.8 269.5L9.3 269.5L9.8 269.5L10.4 269.5L10.9 269.5L11.4 269.5L11.9 269.5L12.4 269.5L12.9 269.5L13.4 269.5L13.9 269.5L14.4 269.5L15 269.5L15.5 269.5L16 269.5L16.5 269.5L17 269.5L17.5 269.5L18 269.5L18.5 269.5L19 269.5L19.6 269.5L20.1 269.5L20.6 269.5L21.1 269.5L21.6 269.5L22.1 269.5L22.6 269.5L23.1 269.5L23.6 269.5L24.2 269.5L24.7 269.5L25.2 269.5L25.7 269.5L26.2 269.5L26.7 269.5L27.2 269.5L27.7 269.5L28.2 269.5L28.8 269.5L29.3 269.5L29.8 269.5L30.3 269.5L30.8 269.5L31.3 269.5L31.8 269.5L32.3 269.5L32.8 269.5L33.4 269.5L33.9 269.5L34.4 269.5L34.9 269.5L35.4 269.5L35.9 269.5L36.4 269.5L36.9 269.5L37.4 269.5L38 269.5L38.5 269.5L39 269.5L39.5 269.5L40 269.5L40.5 269.5L41 269.5L41.5 269.5L42 269.5L42.6 269.5L43.1 269.5L43.6 269.5L44.1 269.5L44.6 269.5L45.1 269.5L45.6 269.5L46.1 269.5L46.6 269.5L47.2 269.5L47.7 269.5L48.2 269.5L48.7 269.5L49.2 269.5L49.7 269.5L50.2 269.5L50.7 269.5L51.2 269.5L51.8 269.5L52.3 269.5L52.8 269.5L53.3 269.5L53.8 269.5L54.3 269.5L54.8 269.5L55.3 269.5L55.8 269.5L56.4 269.5L56.9 269.5L57.4 269.5L57.9 269.5L58.4 269.5L58.9 269.5L59.4 269.5L59.9 269.5L60.5 269.5L61 269.5L61.5 269.5L62 269.5L62.5 269.5L63 269.5L63.5 269.5L64 269.5L64.5 269.5L65.1 269.5L65.6 269.5L66.1 269.5L66.6 269.5L67.1 269.5L67.6 269.5L68.1 269.5L68.6 269.5L69.1 269.5L69.7 269.5L70.2 269.5L70.7 269.5L71.2 269.5L71.7 269.5L72.2 269.5L72.7 269.5L73.2 269.5L73.7 269.5L74.3 269.5L74.8 269.5L75.3 269.5L75.8 269.5L76.3 269.5L76.8 269.5L77.3 269.5L77.8 269.5L78.3 269.5L78.9 269.5L79.4 269.5L79.9 269.5L80.4 269.5L80.9 269.5L81.4 269.5L81.9 269.5L82.4 269.5L82.9 269.5L83.5 269.5L84 269.5L84.5 269.5L85 269.5L85.5 269.5L86 269.5L86.5 269.5L87 269.5L87.5 269.5L88.1 269.5L88.6 269.5L89.1 269.5L89.6 269.5L90.1 269.5L90.6 269.5L91.1 269.5L91.6 269.5L92.1 269.5L92.7 269.5L93.2 269.5L93.7 269.5L94.2 269.5L94.7 269.5L95.2 269.5L95.7 269.5L96.2 269.5L96.7 269.5L97.3 269.5L97.8 269.5L98.3 269.5L98.8 269.5L99.3 269.5L99.8 269.5L100.3 269.5L100.8 269.5L101.3 269.5L101.9 269.5L102.4 269.5L102.9 269.5L103.4 269.5L103.9 269.5L104.4 269.5L104.9 269.5L105.4 269.5L105.9 269.5L106.5 269.5L107 269.5L107.5 269.5L108 269.5L108.5 269.5L109 269.5L109.5 269.5L110 269.5L110.5 269.5L111.1 269.5L111.6 269.5L112.1 269.5L112.6 269.5L113.1 269.5L113.6 269.5L114.1 269.5L114.6 269.5L115.1 269.5L115.7 269.5L116.2 269.5L116.7 269.5L117.2 269.5L117.7 269.5L118.2 269.5L118.7 269.5L119.2 269.5L119.7 269.5L120.3 269.5L120.8 269.5L121.3 269.5L121.8 269.5L122.3 269.5L122.8 269.5L123.3 269.5L123.8 269.5L124.4 269.5L124.9 269.5L125.4 269.5L125.9 269.5L126.4 269.5L126.9 269.5L127.4 269.5L127.9 269.5L128.4 269.5L129 269.5L129.5 269.5L130 269.5L130.5 269.5L131 269.5L131.5 269.5L132 269.5L132.5 269.5L133 269.5L133.6 269.5L134.1 269.5L134.6 269.5L134.9 269.5L135 269.5L135.1 269.5L135.2 269.5L135.3 269.5L135.4 269.5L135.5 269.5L135.6 269.5L135.7 269.5L135.8 269.5L135.9 269.5L136 269.5L136.1 269.5L136.2 269.5L136.3 269.5L136.4 269.5L136.5 269.5L136.6 269.5L136.6 259.8L136.7 259.8L136.8 259.8L136.9 259.8L137 259.8L137.1 259.7L137.2 259.7L137.3 259.7L137.4 259.7L137.5 259.7L137.6 259.6L137.7 259.6L137.8 259.6L137.9 259.6L138 259.6L138.1 259.5L138.2 259.5L138.3 259.5L138.4 259.5L138.5 259.5L138.5 259.4L138.6 259.4L138.7 259.4L138.8 259.4L138.9 259.4L139 259.4L139 259.3L139.1 259.3L139.2 259.3L139.3 259.3L139.4 259.3L139.5 259.2L139.6 259.2L139.7 259.2L139.8 259.2L139.9 259.2L139.9 259.1L140 259.1L140.1 259.1L140.2 259.1L140.3 259.1L140.4 259L140.5 259L140.6 259L140.7 259L140.8 258.9L140.9 258.9L141 258.9L141.1 258.9L141.2 258.8L141.3 258.8L141.4 258.8L141.5 258.8L141.6 258.7L141.7 258.7L141.8 258.7L141.9 258.7L142 258.6L142.1 258.6L142.2 258.6L142.3 258.6L142.4 258.5L142.5 258.5L142.6 258.5L142.7 258.5L142.7 258.4L142.8 258.4L142.9 258.4L143 258.4L143.1 258.4L143.1 258.3L143.2 258.3L143.3 258.3L143.4 258.3L143.4 258.2L143.5 258.2L143.6 258.2L143.7 258.2L143.8 258.1L143.9 258.1L144 258.1L144.1 258.1L144.1 258L144.2 258L144.3 258L144.4 258L144.5 257.9L144.6 257.9L144.7 257.9L144.8 257.8L144.9 257.8L145 257.8L145 257.7L145.1 257.7L145.2 257.7L145.3 257.7L145.3 106.7L145.4 133.3L145.4 152.6L145.5 165.1L145.6 173.9L145.6 180.6L145.7 185.9L145.7 190.2L145.8 193.9L145.8 194.5L145.9 196.9L145.9 199.6L146 202L146.1 204L146.1 205.9L146.2 207.6L146.3 209.1L146.3 210.4L146.3 210.7L146.4 211.7L146.4 212.9L146.5 213.9L146.6 214.9L146.6 215.9L146.7 216.7L146.8 217.5L146.8 218.3L146.8 218.4L146.9 219L147 219.7L147 220.3L147.1 220.9L147.1 221.5L147.2 222L147.3 222.6L147.3 223L147.4 223.1L147.4 223.5L147.5 224L147.5 224.4L147.6 224.8L147.7 225.2L147.7 225.6L147.8 225.9L147.9 226.3L147.9 226.6L148 226.9L148 227.2L148.1 227.5L148.2 227.8L148.2 228.1L148.3 228.4L148.4 228.6L148.4 228.7L148.4 228.9L148.5 229.1L148.6 229.3L148.6 229.6L148.7 229.8L148.7 230L148.8 230.2L148.9 230.4L148.9 230.6L149 230.8L149.1 230.9L149.1 231.1L149.2 231.3L149.3 231.4L149.3 231.6L149.4 231.8L149.5 231.9L149.5 232.1L149.6 232.2L149.6 232.3L149.7 232.5L149.8 232.6L149.8 232.7L149.9 232.9L150 233L150 233.1L150.1 233.2L150.2 233.3L150.2 233.4L150.3 233.5L150.3 233.6L150.4 233.7L150.5 233.8L150.5 233.9L150.6 234L150.7 234.1L150.7 234.2L150.8 234.3L150.9 234.3L150.9 234.4L151 234.5L151 234.6L151.1 234.6L151.2 234.7L151.2 234.8L151.3 234.8L151.4 234.9L151.4 235L151.5 235L151.6 235.1L151.7 235.2L151.8 235.2L151.8 235.3L151.9 235.3L151.9 235.4L152 235.4L152.1 235.5L152.2 235.6L152.3 235.6L152.4 235.7L152.5 235.7L152.6 235.8L152.7 235.8L152.8 235.9L152.9 235.9L153 235.9L153 236L153.1 236L153.2 236L153.3 236L153.4 236L153.5 236.1L153.6 236.1L153.7 236.1L153.8 236.1L153.9 236.1L154 236.1L154.1 236.1L154.2 236.1L154.3 236.1L154.4 236.1L154.5 236.1L154.6 236.1L154.6 236L154.7 236L154.8 236L154.9 236L155 235.9L155.1 235.9L155.2 235.9L155.3 235.8L155.4 235.8L155.5 235.8L155.5 235.7L155.6 235.7L155.7 235.6L155.8 235.6L155.8 235.5L155.9 235.5L156 235.5L156 235.4L156.1 235.4L156.2 235.3L156.3 235.2L156.4 235.2L156.4 235.1L156.5 235L156.6 235L156.6 234.9L156.7 234.9L156.7 234.8L156.8 234.7L156.9 234.7L156.9 234.6L157 234.5L157.1 234.4L157.2 234.3L157.2 234.2L157.3 234.1L157.4 234L157.4 233.9L157.5 233.9L157.6 233.8L157.6 233.7L157.7 233.6L157.8 233.5L157.8 233.4L157.9 233.2L157.9 233.1L158 233L158.1 232.9L158.1 232.8L158.2 232.7L158.3 232.5L158.3 232.4L158.4 232.3L158.5 232.1L158.5 232L158.6 231.8L158.7 231.7L158.7 231.5L158.8 231.4L158.8 231.2L158.9 231L159 230.8L159 230.7L159.1 230.5L159.1 230.4L159.2 230.3L159.2 230.1L159.3 229.9L159.4 229.6L159.4 229.4L159.5 229.2L159.5 229L159.6 228.7L159.7 228.5L159.7 228.2L159.8 227.9L159.9 227.6L159.9 227.3L160 227L160.1 226.7L160.1 226.4L160.1 226.3L160.2 226.1L160.2 225.7L160.3 225.3L160.4 225L160.4 224.6L160.5 224.1L160.6 223.7L160.6 223.2L160.6 223.1L160.7 222.8L160.8 222.2L160.8 221.7L160.9 221.2L161 220.6L161 219.9L161.1 219.3L161.1 218.6L161.2 218.4L161.2 217.8L161.3 217.1L161.3 216.2L161.4 215.3L161.5 214.3L161.5 213.3L161.6 212.2L161.7 211L161.7 210.7L161.7 209.6L161.8 208.2L161.8 206.6L161.9 204.8L162 202.8L162 200.6L162.1 198.1L162.2 195.2L162.2 194.5L162.2 191.8L162.3 187.7L162.4 182.9L162.4 176.8L162.5 168.9L162.5 158.2L162.6 142.3L162.7 114.9L162.7 106.7L162.7 257.7L162.8 257.7L162.9 257.7L163 257.8L163.1 257.8L163.2 257.8L163.3 257.8L163.3 257.9L163.4 257.9L163.5 257.9L163.6 257.9L163.6 258L163.7 258L163.8 258L163.9 258L164 258.1L164.1 258.1L164.2 258.1L164.3 258.2L164.4 258.2L164.5 258.2L164.6 258.3L164.7 258.3L164.8 258.3L164.9 258.3L165 258.4L165.1 258.4L165.2 258.4L165.3 258.5L165.4 258.5L165.5 258.5L165.6 258.5L165.7 258.6L165.8 258.6L165.9 258.6L166 258.6L166.1 258.7L166.2 258.7L166.3 258.7L166.4 258.7L166.4 258.8L166.5 258.8L166.6 258.8L166.7 258.8L166.8 258.8L166.8 258.9L166.9 258.9L167 258.9L167.1 258.9L167.2 258.9L167.3 259L167.4 259L167.5 259L167.6 259L167.7 259L167.7 259.1L167.8 259.1L167.9 259.1L168 259.1L168.1 259.2L168.2 259.2L168.3 259.2L168.4 259.2L168.5 259.2L168.6 259.3L168.7 259.3L168.8 259.3L168.9 259.3L169 259.3L169.1 259.4L169.2 259.4L169.3 259.4L169.4 259.4L169.5 259.4L169.5 259.5L169.6 259.5L169.7 259.5L169.8 259.5L169.9 259.5L170 259.5L170 259.6L170.1 259.6L170.2 259.6L170.3 259.6L170.4 259.6L170.5 259.6L170.5 259.7L170.6 259.7L170.7 259.7L170.8 259.7L170.9 259.7L171 259.7L171 259.8L171.1 259.8L171.2 259.8L171.3 259.8L171.4 259.8L171.4 269.5L171.5 269.5L171.6 269.5L171.7 269.5L171.8 269.5L171.9 269.5L172 269.5L172.1 269.5L172.2 269.5L172.3 269.5L172.4 269.5L172.5 269.5L172.6 269.5L172.7 269.5L172.8 269.5L172.9 269.5L173 269.5L173.1 269.5L173.4 269.5L173.9 269.5L174.4 269.5L175 269.5L175.5 269.5L176 269.5L176.5 269.5L177 269.5L177.5 269.5L178 269.5L178.5 269.5L179 269.5L179.6 269.5L180.1 269.5L180.6 269.5L181.1 269.5L181.6 269.5L182.1 269.5L182.6 269.5L183.1 269.5L183.6 269.5L184.2 269.5L184.7 269.5L185.2 269.5L185.7 269.5L186.2 269.5L186.7 269.5L187.2 269.5L187.7 269.5L188.3 269.5L188.8 269.5L189.3 269.5L189.8 269.5L190.3 269.5L190.8 269.5L191.3 269.5L191.8 269.5L192.3 269.5L192.9 269.5L193.4 269.5L193.9 269.5L194.4 269.5L194.9 269.5L195.4 269.5L195.9 269.5L196.4 269.5L196.9 269.5L197.5 269.5L198 269.5L198.5 269.5L199 269.5L199.5 269.5L200 269.5L200.5 269.5L201 269.5L201.5 269.5L202.1 269.5L202.6 269.5L203.1 269.5L203.6 269.5L204.1 269.5L204.6 269.5L205.1 269.5L205.6 269.5L206.1 269.5L206.7 269.5L207.2 269.5L207.7 269.5L208.2 269.5L208.7 269.5L209.2 269.5L209.7 269.5L210.2 269.5L210.7 269.5L211.3 269.5L211.8 269.5L212.3 269.5L212.8 269.5L213.3 269.5L213.8 269.5L214.3 269.5L214.8 269.5L215.3 269.5L215.9 269.5L216.4 269.5L216.9 269.5L217.4 269.5L217.9 269.5L218.4 269.5L218.9 269.5L219.4 269.5L219.9 269.5L220.5 269.5L221 269.5L221.5 269.5L222 269.5L222.5 269.5L223 269.5L223.5 269.5L224 269.5L224.5 269.5L225.1 269.5L225.6 269.5L226.1 269.5L226.6 269.5L227.1 269.5L227.6 269.5L228.1 269.5L228.6 269.5L229.1 269.5L229.7 269.5L230.2 269.5L230.7 269.5L231.2 269.5L231.7 269.5L232.2 269.5L232.7 269.5L233.2 269.5L233.7 269.5L234.3 269.5L234.8 269.5L235.3 269.5L235.8 269.5L236.3 269.5L236.8 269.5L237.3 269.5L237.8 269.5L238.3 269.5L238.9 269.5L239.4 269.5L239.9 269.5L240.4 269.5L240.9 269.5L241.4 269.5L241.9 269.5L242.4 269.5L242.9 269.5L243.5 269.5L244 269.5L244.5 269.5L245 269.5L245.5 269.5L246 269.5L246.5 269.5L247 269.5L247.5 269.5L248.1 269.5L248.6 269.5L249.1 269.5L249.6 269.5L250.1 269.5L250.6 269.5L251.1 269.5L251.6 269.5L252.2 269.5L252.7 269.5L253.2 269.5L253.7 269.5L254.2 269.5L254.7 269.5L255.2 269.5L255.7 269.5L256.2 269.5L256.8 269.5L257.3 269.5L257.8 269.5L258.3 269.5L258.8 269.5L259.3 269.5L259.8 269.5L260.3 269.5L260.8 269.5L261.4 269.5L261.9 269.5L262.4 269.5L262.9 269.5L263.4 269.5L263.9 269.5L264.4 269.5L264.9 269.5L265.4 269.5L266 269.5L266.5 269.5L267 269.5L267.5 269.5L268 269.5L268.5 269.5L269 269.5L269.5 269.5L270 269.5L270.6 269.5L271.1 269.5L271.6 269.5L272.1 269.5L272.6 269.5L273.1 269.5L273.6 269.5L274.1 269.5L274.6 269.5L275.2 269.5L275.7 269.5L276.2 269.5L276.7 269.5L277.2 269.5L277.7 269.5L278.2 269.5L278.7 269.5L279.2 269.5L279.8 269.5L280.3 269.5L280.8 269.5L281.3 269.5L281.8 269.5L282.3 269.5L282.8 269.5L283.3 269.5L283.8 269.5L284.4 269.5L284.9 269.5L285.4 269.5L285.9 269.5L286.4 269.5L286.9 269.5L287.4 269.5L287.9 269.5L288.4 269.5L289 269.5L289.5 269.5L290 269.5L290.5 269.5L291 269.5L291.5 269.5L292 269.5L292.5 269.5L293 269.5L293.6 269.5L294.1 269.5L294.6 269.5L295.1 269.5L295.6 269.5L296.1 269.5L296.6 269.5L297.1 269.5L297.6 269.5L298.2 269.5L298.7 269.5L299.2 269.5L299.7 269.5L300.2 269.5L300.7 269.5L301.2 269.5L301.7 269.5L302.2 269.5L302.8 269.5L303.3 269.5L303.8 269.5L304.3 269.5L304.8 269.5L305.3 269.5L305.8 269.5L306.3 269.5L306.8 269.5L307.4 269.5" fill="none" stroke="#0000ff" stroke-width="1.7" stroke-linejoin="bevel"/>
<path d="M0.6 279v-4.6M26.2 279v-3.8M51.8 279v-4.6M77.3 279v-3.8M102.9 279v-4.6M128.4 279v-3.8M154 279v-4.6M179.6 279v-3.8M205.1 279v-4.6M230.7 279v-3.8M256.2 279v-4.6M281.8 279v-3.8M307.4 279v-4.6" fill="none" stroke="#000" stroke-width="1.2"/>
<path d="M0 278.9H308" fill="none" stroke="#000" stroke-width="1.6"/>
<text x="51.8" y="290.4" font-size="10" text-anchor="middle" >-400</text>
<text x="102.9" y="290.4" font-size="10" text-anchor="middle" >-200</text>
<text x="154" y="290.4" font-size="10" text-anchor="middle" >0</text>
<text x="205.1" y="290.4" font-size="10" text-anchor="middle" >200</text>
<text x="256.2" y="290.4" font-size="10" text-anchor="middle" >400</text>
<text x="154" y="303.5" font-size="10.6" text-anchor="middle" >Frequency f-f<tspan font-size="7" dy="2">0</tspan><tspan dy="-2"> (kHz)</tspan></text>
<path d="M315.7 191L316 199.7L316.3 190.1L316.5 197.8L316.8 185.2L317 204.4L317.3 188.1L317.5 210.5L317.8 197.5L318 204.2L318.3 186.9L318.6 199.9L318.8 183L319.1 191.8L319.3 175.5L319.6 196.7L319.8 177.8L320.1 197.9L320.3 189.1L320.6 202.5L320.9 189.6L321.1 200.7L321.4 184.3L321.6 194.5L321.9 180.6L322.1 192.5L322.4 180.6L322.6 199.4L322.9 186.3L323.2 196.5L323.4 188.3L323.7 205L323.9 185.3L324.2 196.5L324.4 186.7L324.7 196.4L324.9 183.1L325.2 194.1L325.5 186.7L325.7 194.5L326 186.2L326.2 200.2L326.5 188.5L326.7 203.8L327 194.7L327.2 200.7L327.5 188.5L327.8 199.9L328 185.1L328.3 200.7L328.5 192.3L328.8 205.6L329 192.4L329.3 202.8L329.5 184.6L329.8 203.7L330.1 188.8L330.3 199.8L330.6 186.1L330.8 197.2L331.1 177.3L331.3 195.3L331.6 179.7L331.8 195.9L332.1 184.6L332.4 201L332.6 181.3L332.9 202.7L333.1 186.6L333.4 194.9L333.6 183.1L333.9 199.3L334.1 181.3L334.4 198.1L334.7 177.3L334.9 198L335.2 183.1L335.4 201.5L335.7 183.1L335.9 194.1L336.2 183.3L336.4 198.7L336.7 187.3L337 198.1L337.2 183.3L337.5 198.2L337.7 174.4L338 192.9L338.2 184.9L338.5 197.7L338.7 181.6L339 197.8L339.3 179.8L339.5 189.5L339.8 181.3L340 195.7L340.3 184.1L340.5 197L340.8 187.6L341 203.5L341.3 191.2L341.6 201.4L341.8 183L342.1 193.8L342.3 183.8L342.6 197L342.8 185.3L343.1 197.5L343.3 185.7L343.6 197.4L343.9 186.4L344.1 198.7L344.4 182.1L344.6 192.9L344.9 178.8L345.1 193.9L345.4 186.5L345.6 195.7L345.9 184.5L346.2 196L346.4 186L346.7 199.8L346.9 179.7L347.2 193.6L347.4 178.3L347.7 192.1L347.9 183.4L348.2 196.5L348.5 186.4L348.7 207.5L349 191.2L349.2 204.9L349.5 186L349.7 198L350 186.9L350.2 208.8L350.5 187.1L350.8 202.8L351 187.8L351.3 200.4L351.5 180.9L351.8 195.6L352 185.7L352.3 200.9L352.5 189.1L352.8 201.1L353.1 187.4L353.3 200.7L353.6 186.3L353.8 196.8L354.1 187.6L354.3 200.4L354.6 188.6L354.8 201.8L355.1 181.7L355.4 200.6L355.6 179.8L355.9 193.5L356.1 181.3L356.4 192.8L356.6 179.6L356.9 196.1L357.1 189.5L357.4 201.2L357.7 187.7L357.9 201.2L358.2 184.8L358.4 201.9L358.7 190.4L358.9 202.6L359.2 191.5L359.4 198.7L359.7 184.6L360 198.3L360.2 186.1L360.5 197.3L360.7 189.2L361 204.5L361.2 196.3L361.5 202.2L361.7 188.6L362 201.2L362.3 187.4L362.5 196.6L362.8 186.2L363 197L363.3 177.5L363.5 193.2L363.8 177.5L364 188.6L364.3 173.7L364.6 195.8L364.8 185.9L365.1 202.3L365.3 189.2L365.6 206.5L365.8 181.8L366.1 200.4L366.3 187.8L366.6 198.2L366.9 178.6L367.1 192.8L367.4 179.4L367.6 196.9L367.9 181.2L368.1 201.9L368.4 184.5L368.6 201.9L368.9 193.5L369.2 201.9L369.4 189.4L369.7 203.4L369.9 185.2L370.2 196.3L370.4 186.3L370.7 200.1L370.9 186.5L371.2 198.9L371.5 184.5L371.7 199.8L372 182.9L372.2 201.7L372.5 190.1L372.7 198.5L373 182.1L373.2 196L373.5 180.9L373.8 198.4L374 184.5L374.3 199.2L374.5 185.8L374.8 196.8L375 185.5L375.3 208.8L375.6 183.6L375.8 195.7L376.1 182.6L376.3 198.1L376.6 185.4L376.8 198.5L377.1 182L377.3 193.7L377.6 182.2L377.9 195.4L378.1 179.9L378.4 199.7L378.6 185.1L378.9 194L379.1 181.7L379.4 196.3L379.6 182.1L379.9 192.1L380.2 175.9L380.4 199.9L380.7 179.9L380.9 194.1L381.2 182.3L381.4 197.2L381.7 182.2L381.9 201.2L382.2 187.1L382.5 195.5L382.7 184.3L383 196.7L383.2 181.7L383.5 194.6L383.7 183.5L384 194.1L384.2 179.8L384.5 193.3L384.8 176L385 196L385.3 179.7L385.5 199.5L385.8 183.3L386 196.8L386.3 179.8L386.5 194.6L386.8 185.6L387.1 201.5L387.3 183.1L387.6 197.1L387.8 186.1L388.1 195.9L388.3 185.5L388.6 202.8L388.8 180.8L389.1 196.7L389.4 186.3L389.6 200.7L389.9 182.1L390.1 199.9L390.4 182.4L390.6 191.6L390.9 177.8L391.1 191.1L391.4 174.1L391.7 187.9L391.9 176.9L392.2 193.5L392.4 180.8L392.7 191.7L392.9 183.3L393.2 200.2L393.4 181.6L393.7 195.6L394 186.4L394.2 196.2L394.5 184.3L394.7 191.9L395 180.5L395.2 191.6L395.5 172.3L395.7 192.7L396 180.9L396.3 195.5L396.5 184.7L396.8 197L397 178.9L397.3 190.7L397.5 182.5L397.8 192.5L398 180.5L398.3 189.7L398.6 176L398.8 186.1L399.1 170.3L399.3 188.8L399.6 176.5L399.8 197.1L400.1 179.1L400.3 194.8L400.6 173.2L400.9 186.9L401.1 177.3L401.4 186.9L401.6 177.9L401.9 188.7L402.1 181.2L402.4 193.5L402.6 176.1L402.9 188.4L403.2 171.8L403.4 184.1L403.7 169.8L403.9 187.6L404.2 173L404.4 187.7L404.7 170.9L404.9 189.3L405.2 174.6L405.5 182.3L405.7 166.9L406 184.1L406.2 169.9L406.5 183.2L406.7 169.8L407 182.3L407.2 167.7L407.5 185.3L407.8 174.4L408 188.3L408.3 178.4L408.5 192.1L408.8 176.9L409 187.1L409.3 167.2L409.5 184.8L409.8 162.9L410.1 188.8L410.3 172.6L410.6 185.1L410.8 175.3L411.1 185.8L411.3 175.4L411.6 185L411.8 171.8L412.1 181.8L412.4 171.9L412.6 193.4L412.9 172.7L413.1 188L413.4 173.8L413.6 186.6L413.9 169.9L414.1 185.2L414.4 170.9L414.7 185.8L414.9 175.9L415.2 190.4L415.4 175.5L415.7 192.8L415.9 179.2L416.2 185.9L416.4 171.8L416.7 185.2L417 170.7L417.2 183.8L417.5 176.1L417.7 191L418 169.4L418.2 186.1L418.5 172.3L418.7 187.6L419 175.8L419.3 184.4L419.5 170.7L419.8 180.4L420 166.8L420.3 180.9L420.5 172.7L420.8 182L421 169.9L421.3 178.1L421.6 163.5L421.8 179.4L422.1 164.1L422.3 173L422.6 160.9L422.8 180.4L423.1 170.9L423.3 182.4L423.6 169.7L423.9 183.1L424.1 160.9L424.4 179.5L424.6 157.9L424.9 176.8L425.1 166.1L425.4 183.2L425.6 172.2L425.9 180L426.2 166.1L426.4 178.5L426.7 158.2L426.9 167.7L427.2 153.6L427.4 167.3L427.7 159.2L427.9 171.1L428.2 163L428.5 169.8L428.7 159.7L429 166.1L429.2 152.2L429.5 162.2L429.7 147.2L430 163.1L430.2 145.2L430.5 160L430.8 132L431 149.4L431.3 132.4L431.5 144.9L431.8 115.7L432 141.6L432.3 115.5L432.5 134.1L432.8 115.8L433.1 127.7L433.3 119.6L433.6 133.7L433.8 121.2L434.1 138L434.3 127.1L434.6 141.6L434.8 127.9L435.1 143.2L435.4 135.3L435.6 149.2L435.9 131.5L436.1 145L436.4 130.8L436.6 145.9L436.9 137.1L437.2 151L437.4 140.9L437.7 150.6L437.9 136.5L438.2 151.6L438.4 139.3L438.7 151.9L438.9 142L439.2 155.7L439.5 145L439.7 158.9L440 143.2L440.2 155.4L440.5 135.3L440.7 158.1L441 145.8L441.2 154L441.5 141.6L441.8 146.8L442 131.7L442.3 149.5L442.5 137.6L442.8 154.2L443 140.7L443.3 155.3L443.5 144.9L443.8 156.5L444.1 142.1L444.3 151.5L444.6 142L444.8 160.9L445.1 143.4L445.3 159.8L445.6 145.6L445.8 158.1L446.1 144.6L446.4 154.9L446.6 147.5L446.9 161.1L447.1 146.4L447.4 160.3L447.6 145.4L447.9 152.9L448.1 141.8L448.4 156.3L448.7 138.9L448.9 152.3L449.2 143.4L449.4 150.6L449.7 136.2L449.9 149L450.2 128.8L450.4 143.8L450.7 129.5L451 141.9L451.2 126.7L451.5 137.8L451.7 117.5L452 135.4L452.2 119.2L452.5 133L452.7 117.7L453 126.8L453.3 110L453.5 134.6L453.8 110.9L454 124L454.3 112.6L454.5 118L454.8 107.2L455 116.9L455.3 96.5L455.6 109.6L455.8 92.3L456.1 103.7L456.3 88L456.6 99L456.8 91.7L457.1 105.6L457.3 88.1L457.6 102.3L457.9 78.1L458.1 91.6L458.4 70.2L458.6 74.7L458.9 57.8L459.1 66.4L459.4 44.8L459.6 52.6L459.9 31.1L460.2 40.9L460.4 27.7L460.7 35.5L460.9 21.8L461.2 31.9L461.4 21.9L461.7 34.4L461.9 24.5L462.2 42.5L462.5 24.5L462.7 43.4L463 29.3L463.2 45.3L463.5 38.5L463.7 49.1L464 38.6L464.2 53.3L464.5 29.9L464.8 52.5L465 33.7L465.3 52.1L465.5 45.9L465.8 56.8L466 40.3L466.3 62.3L466.5 51.6L466.8 59.9L467.1 49.1L467.3 58.4L467.6 48.1L467.8 61.3L468.1 55.1L468.3 67.2L468.6 56.1L468.8 67.1L469.1 58.3L469.4 68.8L469.6 48.1L469.9 60.9L470.1 47.2L470.4 65.7L470.6 52.3L470.9 65.7L471.1 56.8L471.4 63.9L471.7 53.6L471.9 62L472.2 51.3L472.4 66.4L472.7 40.4L472.9 55.1L473.2 43.5L473.4 54.5L473.7 36L474 57.4L474.2 38.9L474.5 55.2L474.7 35.6L475 43.3L475.2 32.4L475.5 42.6L475.7 26.4L476 38.6L476.3 27.9L476.5 34.9L476.8 20.1L477 35.3L477.3 20.2L477.5 35.1L477.8 26.8L478 41.2L478.3 34.8L478.6 54L478.8 49.1L479.1 65.3L479.3 57.7L479.6 74L479.8 63.1L480.1 84.1L480.3 68.5L480.6 98.2L480.9 88.3L481.1 101.4L481.4 81L481.6 101.7L481.9 95.8L482.1 114.9L482.4 96.9L482.6 120L482.9 105.2L483.2 117.8L483.4 99.8L483.7 122L483.9 116.6L484.2 130L484.4 119.8L484.7 130.9L484.9 114.6L485.2 129.3L485.5 118.1L485.7 133L486 117.9L486.2 131.1L486.5 121L486.7 142L487 124L487.2 138.1L487.5 125.1L487.8 132.8L488 125.3L488.3 136L488.5 131.3L488.8 145.1L489 126.6L489.3 142.6L489.5 130.4L489.8 145.1L490.1 130.7L490.3 146.6L490.6 137.2L490.8 152L491.1 146.2L491.3 155.2L491.6 141.6L491.8 157.7L492.1 143.3L492.4 163.6L492.6 145L492.9 157.9L493.1 147.9L493.4 159.7L493.6 145L493.9 160.2L494.1 146.9L494.4 154.6L494.7 145.3L494.9 157.2L495.2 142.9L495.4 156.1L495.7 147.2L495.9 153.8L496.2 141.1L496.4 151.6L496.7 138.5L497 146.7L497.2 136.8L497.5 153.4L497.7 139.6L498 157.5L498.2 148.2L498.5 164.7L498.7 150L499 159.2L499.3 140.8L499.5 155.8L499.8 141.6L500 152.3L500.3 144.6L500.5 156.7L500.8 142.8L501.1 153.7L501.3 137.3L501.6 151.9L501.8 133.2L502.1 141.4L502.3 133.1L502.6 144.3L502.8 131.9L503.1 139.1L503.4 123L503.6 137.8L503.9 124.7L504.1 133.6L504.4 118.4L504.6 130.2L504.9 117.5L505.1 130.8L505.4 119.4L505.7 134.4L505.9 118.5L506.2 134.2L506.4 126L506.7 138.7L506.9 131.8L507.2 148.6L507.4 137.1L507.7 150.4L508 130.7L508.2 150.3L508.5 143.7L508.7 156.6L509 142.4L509.2 163L509.5 154.5L509.7 168.3L510 157.1L510.3 184.5L510.5 162.3L510.8 176.2L511 162.2L511.3 175.2L511.5 166.8L511.8 178.1L512 166.2L512.3 183.6L512.6 172.5L512.8 185.6L513.1 168.8L513.3 182.3L513.6 173.8L513.8 190.5L514.1 173L514.3 181L514.6 168.8L514.9 181.1L515.1 170.4L515.4 184.5L515.6 177.3L515.9 194.1L516.1 177.1L516.4 185.8L516.6 175.3L516.9 187.1L517.2 170.2L517.4 184.3L517.7 167L517.9 181.4L518.2 169L518.4 180.7L518.7 165.6L518.9 179.4L519.2 166.6L519.5 180.8L519.7 168L520 182.5L520.2 171.4L520.5 189.4L520.7 179.4L521 187L521.2 174.2L521.5 185.6L521.8 169L522 186.2L522.3 172.6L522.5 188.5L522.8 174L523 186.8L523.3 172.4L523.5 186.5L523.8 170.8L524.1 182.1L524.3 171.3L524.6 187.5L524.8 176L525.1 194.9L525.3 181.3L525.6 189L525.8 180.1L526.1 187.5L526.4 171L526.6 184.4L526.9 172L527.1 188.1L527.4 171.6L527.6 187.9L527.9 172.8L528.1 189.4L528.4 177.9L528.7 189.6L528.9 179L529.2 200.2L529.4 182.8L529.7 191.5L529.9 173.6L530.2 186.3L530.4 175.9L530.7 191.3L531 175.3L531.2 191.2L531.5 175.9L531.7 191.2L532 178.1L532.2 199.7L532.5 188.6L532.7 200.8L533 185.4L533.3 191.3L533.5 172.4L533.8 186.8L534 179.3L534.3 194L534.5 178.6L534.8 196.4L535 179.5L535.3 191.3L535.6 181.4L535.8 191.3L536.1 179L536.3 194.7L536.6 178.2L536.8 194.8L537.1 184.2L537.3 195.6L537.6 184.8L537.9 197.4L538.1 181.3L538.4 202.1L538.6 184.7L538.9 187.9L539.1 177.5L539.4 185.4L539.6 178.3L539.9 193.6L540.2 181.9L540.4 190.5L540.7 181.3L540.9 188.6L541.2 182L541.4 195.9L541.7 187L541.9 196.6L542.2 189.7L542.5 201.2L542.7 184.4L543 195.8L543.2 180.8L543.5 191.3L543.7 178.3L544 192.6L544.2 183.6L544.5 201.1L544.8 181L545 196.5L545.3 188.9L545.5 200.1L545.8 187.8L546 198.1L546.3 181.2L546.5 204.3L546.8 193.3L547.1 203.5L547.3 185.9L547.6 194.1L547.8 181.8L548.1 199.5L548.3 179.4L548.6 192.4L548.8 184.4L549.1 195.2L549.4 182.5L549.6 195.3L549.9 185.1L550.1 194L550.4 181.3L550.6 199.1L550.9 188.2L551.1 199.8L551.4 187.1L551.7 197.4L551.9 185.6L552.2 191.8L552.4 181L552.7 192.3L552.9 176.7L553.2 199.8L553.4 180.5L553.7 188.9L554 179.1L554.2 193.9L554.5 181.8L554.7 192.3L555 184.5L555.2 193.2L555.5 181.7L555.7 195.8L556 182.9L556.3 195.7L556.5 187.9L556.8 202.4L557 192L557.3 203L557.5 186.9L557.8 199.7L558 188.8L558.3 197L558.6 188.4L558.8 199.3L559.1 180.5L559.3 199L559.6 185.7L559.8 203.9L560.1 182.2L560.3 200.9L560.6 181.8L560.9 202.2L561.1 182.9L561.4 195.9L561.6 186L561.9 203L562.1 186.2L562.4 195.3L562.6 183.2L562.9 194.2L563.2 181.4L563.4 189.9L563.7 181.6L563.9 192L564.2 176.7L564.4 195.2L564.7 187L565 196.8L565.2 182L565.5 197L565.7 180.1L566 198.5L566.2 190.3L566.5 200.6L566.7 182.7L567 206.8L567.3 187.7L567.5 199.8L567.8 185.9L568 200.9L568.3 189L568.5 203.4L568.8 184.4L569 203.1L569.3 189.2L569.6 211.2L569.8 198.2L570.1 214.3L570.3 187.5L570.6 196.8L570.8 181.5L571.1 192.4L571.3 183.8L571.6 195.8L571.9 183.4L572.1 204.6L572.4 181.9L572.6 199.4L572.9 177.7L573.1 192.2L573.4 179.3L573.6 194.8L573.9 189.9L574.2 198.5L574.4 188.2L574.7 196.7L574.9 185.6L575.2 196.9L575.4 187.4L575.7 201L575.9 192.9L576.2 206.2L576.5 192L576.7 200.5L577 189.8L577.2 199.5L577.5 185.1L577.7 198.9L578 183.1L578.2 204.3L578.5 192.6L578.8 202.8L579 191L579.3 203.3L579.5 192.7L579.8 205.3L580 183.5L580.3 198.8L580.5 185.2L580.8 196.2L581.1 178L581.3 193.4L581.6 179L581.8 190.2L582.1 181.8L582.3 196.8L582.6 186.3L582.8 205.5L583.1 185.2L583.4 201.4L583.6 182.3L583.9 190.6L584.1 181.1L584.4 196.5L584.6 188.1L584.9 199.5L585.1 187.6L585.4 196.9L585.7 185.2L585.9 197.3L586.2 185.3L586.4 191.2L586.7 182.8L586.9 196.3L587.2 179.8L587.4 195.7L587.7 184.9L588 202L588.2 184.9L588.5 194.4L588.7 175.4L589 191.1L589.2 180.1L589.5 194.3L589.7 184.8L590 198.8L590.3 185.1L590.5 201.4L590.8 186.7L591 204.1L591.3 189.7L591.5 200.2L591.8 192.2L592 205.3L592.3 192.3L592.6 199.1L592.8 183.5L593.1 194.4L593.3 180.1L593.6 197.2L593.8 180.2L594.1 199.8L594.3 183.3L594.6 202.6L594.9 189.6L595.1 202.9L595.4 189.4L595.6 204.3L595.9 191.2L596.1 199L596.4 189L596.6 200.8L596.9 189.6L597.2 197.9L597.4 183.4L597.7 203.9L597.9 189L598.2 199.4L598.4 191.4L598.7 200.9L598.9 188.1L599.2 199.7L599.5 188.6L599.7 195.9L600 184.4L600.2 198.8L600.5 189.2L600.7 201.8L601 186.4L601.2 201.6L601.5 189.9L601.8 203.8L602 190.1L602.3 202.9L602.5 192.4L602.8 204.9L603 189.4L603.3 205.8L603.5 191.6L603.8 202.3L604.1 187.5L604.3 195.6L604.6 187.5L604.8 197.8L605.1 190L605.3 203.4L605.6 193.7L605.8 203.8L606.1 192.7L606.4 203.8L606.6 191L606.9 203.9L607.1 181.1L607.4 196.6L607.6 179.2L607.9 199.8L608.1 187.6L608.4 198L608.7 182.6L608.9 193.5L609.2 183.3L609.4 194.9L609.7 187.9L609.9 210.8L610.2 190.3L610.4 200L610.7 188.4L611 198.3L611.2 186.8L611.5 197L611.7 184.6L612 197.5L612.2 182.9L612.5 195.1L612.7 187.7L613 203.8L613.3 189.1L613.5 202.4L613.8 192.1L614 203.7L614.3 188.1L614.5 194.3L614.8 182.7L615 198.6L615.3 186.3L615.6 200.5L615.8 177.2L616.1 194.7L616.3 178.2L616.6 193.7L616.8 181.6L617.1 195.3L617.3 185.7L617.6 198.4L617.9 182.2L618.1 204.1L618.4 190.3L618.6 208.2L618.9 190.6L619.1 207.3L619.4 196.3L619.6 205.7L619.9 195.4L620.2 205.8L620.4 184.6L620.7 189.5L620.9 177.9L621.2 190.6L621.4 181.8L621.7 198.3L621.9 187.6L622.2 204.8L622.5 190.4L622.5 248L315.7 248Z" fill="url(#gEb)"/>
<path d="M315.7 228L316 228L316.3 228L316.5 228L316.8 228L317 228L317.3 228L317.5 228L317.8 228L318 228L318.3 228L318.6 228L318.8 228L319.1 228L319.3 228L319.6 228L319.8 228L320.1 228L320.3 228L320.6 228L320.9 228L321.1 228L321.4 228L321.6 228L321.9 228L322.1 228L322.4 228L322.6 228L322.9 228L323.2 228L323.4 228L323.7 228L323.9 228L324.2 228L324.4 228L324.7 228L324.9 228L325.2 228L325.5 228L325.7 228L326 228L326.2 228L326.5 228L326.7 228L327 228L327.2 228L327.5 228L327.8 228L328 228L328.3 228L328.5 228L328.8 228L329 228L329.3 228L329.5 228L329.8 228L330.1 228L330.3 228L330.6 228L330.8 228L331.1 228L331.3 228L331.6 228L331.8 228L332.1 228L332.4 228L332.6 228L332.9 228L333.1 228L333.4 228L333.6 228L333.9 228L334.1 228L334.4 228L334.7 228L334.9 228L335.2 228L335.4 228L335.7 228L335.9 228L336.2 228L336.4 228L336.7 228L337 228L337.2 228L337.5 228L337.7 228L338 228L338.2 228L338.5 228L338.7 228L339 228L339.3 228L339.5 228L339.8 228L340 228L340.3 228L340.5 228L340.8 228L341 228L341.3 228L341.6 228L341.8 228L342.1 228L342.3 228L342.6 228L342.8 228L343.1 228L343.3 228L343.6 228L343.9 228L344.1 228L344.4 228L344.6 228L344.9 228L345.1 228L345.4 228L345.6 228L345.9 228L346.2 228L346.4 228L346.7 228L346.9 228L347.2 228L347.4 228L347.7 228L347.9 228L348.2 228L348.5 228L348.7 228L349 228L349.2 228L349.5 228L349.7 228L350 228L350.2 228L350.5 228L350.8 228L351 228L351.3 228L351.5 228L351.8 228L352 228L352.3 228L352.5 228L352.8 228L353.1 228L353.3 228L353.6 228L353.8 228L354.1 228L354.3 228L354.6 228L354.8 228L355.1 228L355.4 228L355.6 228L355.9 228L356.1 228L356.4 228L356.6 228L356.9 228L357.1 228L357.4 228L357.7 228L357.9 228L358.2 228L358.4 228L358.7 228L358.9 228L359.2 228L359.4 228L359.7 228L360 228L360.2 228L360.5 228L360.7 228L361 228L361.2 228L361.5 228L361.7 228L362 228L362.3 228L362.5 228L362.8 228L363 228L363.3 228L363.5 228L363.8 228L364 228L364.3 228L364.6 228L364.8 228L365.1 228L365.3 228L365.6 228L365.8 228L366.1 228L366.3 228L366.6 228L366.9 228L367.1 228L367.4 228L367.6 228L367.9 228L368.1 228L368.4 228L368.6 228L368.9 228L369.2 228L369.4 228L369.7 228L369.9 228L370.2 228L370.4 228L370.7 228L370.9 228L371.2 228L371.5 228L371.7 228L372 228L372.2 228L372.5 228L372.7 228L373 228L373.2 228L373.5 228L373.8 228L374 228L374.3 228L374.5 228L374.8 228L375 228L375.3 228L375.6 228L375.8 228L376.1 228L376.3 228L376.6 228L376.8 228L377.1 228L377.3 228L377.6 228L377.9 228L378.1 228L378.4 228L378.6 228L378.9 228L379.1 228L379.4 228L379.6 228L379.9 228L380.2 228L380.4 228L380.7 228L380.9 228L381.2 228L381.4 228L381.7 228L381.9 228L382.2 228L382.5 228L382.7 228L383 228L383.2 228L383.5 227.9L383.7 227.9L384 227.9L384.2 227.9L384.5 227.8L384.8 227.8L385 227.8L385.3 227.8L385.5 227.8L385.8 227.7L386 227.7L386.3 227.7L386.5 227.7L386.8 227.7L387.1 227.7L387.3 227.6L387.6 227.6L387.8 227.6L388.1 227.6L388.3 227.5L388.6 227.5L388.8 227.5L389.1 227.5L389.4 227.4L389.6 227.4L389.9 227.4L390.1 227.3L390.4 227.3L390.6 227.2L390.9 227.2L391.1 227.1L391.4 227.1L391.7 226.9L391.9 226.8L392.2 226.7L392.4 226.5L392.7 226.3L392.9 226.1L393.2 226L393.4 225.8L393.7 225.6L394 225.3L394.2 225.1L394.5 224.8L394.7 224.5L395 224.2L395.2 223.8L395.5 223.5L395.7 223.1L396 222.8L396.3 222.5L396.5 222.2L396.8 222L397 221.8L397.3 221.6L397.5 221.4L397.8 221.2L398 221L398.3 220.8L398.6 220.7L398.8 220.5L399.1 220.4L399.3 220.2L399.6 220.1L399.8 220L400.1 219.9L400.3 219.7L400.6 219.6L400.9 219.5L401.1 219.4L401.4 219.3L401.6 219.2L401.9 219.1L402.1 219L402.4 219L402.6 218.9L402.9 218.8L403.2 218.7L403.4 218.6L403.7 218.5L403.9 218.5L404.2 218.4L404.4 218.3L404.7 218.2L404.9 218.1L405.2 218.1L405.5 218L405.7 217.9L406 217.8L406.2 217.7L406.5 217.6L406.7 217.6L407 217.5L407.2 217.4L407.5 217.3L407.8 217.2L408 217.1L408.3 217L408.5 216.9L408.8 216.9L409 216.8L409.3 216.7L409.5 216.6L409.8 216.5L410.1 216.4L410.3 216.3L410.6 216.3L410.8 216.2L411.1 216.1L411.3 216L411.6 215.9L411.8 215.8L412.1 215.7L412.4 215.6L412.6 215.5L412.9 215.5L413.1 215.4L413.4 215.3L413.6 215.2L413.9 215.1L414.1 215L414.4 214.9L414.7 214.8L414.9 214.7L415.2 214.6L415.4 214.5L415.7 214.4L415.9 214.3L416.2 214.2L416.4 214.1L416.7 214L417 213.8L417.2 213.7L417.5 213.6L417.7 213.5L418 213.4L418.2 213.3L418.5 213.1L418.7 213L419 212.9L419.3 212.7L419.5 212.6L419.8 212.5L420 212.3L420.3 212.2L420.5 212L420.8 211.8L421 211.7L421.3 211.5L421.6 211.3L421.8 211.1L422.1 210.9L422.3 210.7L422.6 210.5L422.8 210.3L423.1 210.1L423.3 209.8L423.6 209.6L423.9 209.3L424.1 209L424.4 208.7L424.6 208.4L424.9 208L425.1 207.6L425.4 207.2L425.6 206.7L425.9 206.2L426.2 205.6L426.4 205.1L426.7 204.4L426.9 203.7L427.2 203L427.4 202.2L427.7 201.1L427.9 200L428.2 198.7L428.5 197.2L428.7 195.5L429 193.5L429.2 191.1L429.5 188.4L429.7 185.7L430 183L430.2 180.2L430.5 177.1L430.8 174L431 171.1L431.3 168.9L431.5 167.2L431.8 165.7L432 164.5L432.3 163.8L432.5 163.4L432.8 163.1L433.1 162.9L433.3 162.8L433.6 163.1L433.8 163.9L434.1 164.8L434.3 165.8L434.6 166.8L434.8 168L435.1 169.3L435.4 170.7L435.6 172L435.9 173.2L436.1 174.3L436.4 175.5L436.6 176.6L436.9 177.7L437.2 178.7L437.4 179.7L437.7 180.6L437.9 181.4L438.2 182.1L438.4 182.7L438.7 183.4L438.9 184L439.2 184.5L439.5 185.1L439.7 185.6L440 186L440.2 186.4L440.5 186.8L440.7 187.1L441 187.4L441.2 187.6L441.5 187.9L441.8 188.1L442 188.3L442.3 188.5L442.5 188.7L442.8 188.9L443 189L443.3 189.1L443.5 189.2L443.8 189.2L444.1 189.2L444.3 189.2L444.6 189.1L444.8 189.1L445.1 189L445.3 188.9L445.6 188.7L445.8 188.6L446.1 188.4L446.4 188.3L446.6 188.1L446.9 187.9L447.1 187.7L447.4 187.4L447.6 187L447.9 186.6L448.1 186.1L448.4 185.5L448.7 184.9L448.9 184.3L449.2 183.6L449.4 182.7L449.7 181.8L449.9 180.6L450.2 179.4L450.4 178.1L450.7 176.8L451 175.4L451.2 174L451.5 172.4L451.7 170.7L452 168.9L452.2 167L452.5 165.2L452.7 163.5L453 161.8L453.3 160.2L453.5 158.4L453.8 156.5L454 154.1L454.3 151.2L454.5 147.6L454.8 143.5L455 139.1L455.3 134.7L455.6 130.3L455.8 125.7L456.1 120.8L456.3 115.8L456.6 110.8L456.8 105.8L457.1 101.1L457.3 96.2L457.6 91.2L457.9 86.5L458.1 82.4L458.4 79.1L458.6 76.2L458.9 73.6L459.1 71.3L459.4 69.6L459.6 68.5L459.9 67.5L460.2 66.6L460.4 66.1L460.7 66L460.9 66.6L461.2 67.8L461.4 69.4L461.7 71.2L461.9 73L462.2 75.1L462.5 77.7L462.7 80.5L463 83.2L463.2 85.5L463.5 87.2L463.7 88.7L464 90.2L464.2 91.5L464.5 92.8L464.8 93.9L465 94.9L465.3 95.9L465.5 96.8L465.8 97.5L466 98.3L466.3 99L466.5 99.6L466.8 100.2L467.1 100.7L467.3 101.2L467.6 101.5L467.8 101.8L468.1 102.1L468.3 102.3L468.6 102.5L468.8 102.7L469.1 102.7L469.4 102.7L469.6 102.5L469.9 102.3L470.1 102.1L470.4 101.8L470.6 101.5L470.9 101.2L471.1 100.7L471.4 100.2L471.7 99.6L471.9 99L472.2 98.3L472.4 97.5L472.7 96.8L472.9 95.9L473.2 94.9L473.4 93.9L473.7 92.8L474 91.5L474.2 90.2L474.5 88.7L474.7 87.2L475 85.5L475.2 83.2L475.5 80.5L475.7 77.7L476 75.1L476.3 73L476.5 71.2L476.8 69.4L477 67.8L477.3 66.6L477.5 66L477.8 66.1L478 66.6L478.3 67.5L478.6 68.5L478.8 69.6L479.1 71.3L479.3 73.6L479.6 76.2L479.8 79.1L480.1 82.4L480.3 86.5L480.6 91.2L480.9 96.2L481.1 101.1L481.4 105.8L481.6 110.8L481.9 115.8L482.1 120.8L482.4 125.7L482.6 130.3L482.9 134.7L483.2 139.1L483.4 143.5L483.7 147.6L483.9 151.2L484.2 154.1L484.4 156.5L484.7 158.4L484.9 160.2L485.2 161.8L485.5 163.5L485.7 165.2L486 167L486.2 168.9L486.5 170.7L486.7 172.4L487 174L487.2 175.4L487.5 176.8L487.8 178.1L488 179.4L488.3 180.6L488.5 181.8L488.8 182.7L489 183.6L489.3 184.3L489.5 184.9L489.8 185.5L490.1 186.1L490.3 186.6L490.6 187L490.8 187.4L491.1 187.7L491.3 187.9L491.6 188.1L491.8 188.3L492.1 188.4L492.4 188.6L492.6 188.7L492.9 188.9L493.1 189L493.4 189.1L493.6 189.1L493.9 189.2L494.1 189.2L494.4 189.2L494.7 189.2L494.9 189.1L495.2 189L495.4 188.9L495.7 188.7L495.9 188.5L496.2 188.3L496.4 188.1L496.7 187.9L497 187.6L497.2 187.4L497.5 187.1L497.7 186.8L498 186.4L498.2 186L498.5 185.6L498.7 185.1L499 184.5L499.3 184L499.5 183.4L499.8 182.7L500 182.1L500.3 181.4L500.5 180.6L500.8 179.7L501.1 178.7L501.3 177.7L501.6 176.6L501.8 175.5L502.1 174.3L502.3 173.2L502.6 172L502.8 170.7L503.1 169.3L503.4 168L503.6 166.8L503.9 165.8L504.1 164.8L504.4 163.9L504.6 163.1L504.9 162.8L505.1 162.9L505.4 163.1L505.7 163.4L505.9 163.8L506.2 164.5L506.4 165.7L506.7 167.2L506.9 168.9L507.2 171.1L507.4 174L507.7 177.1L508 180.2L508.2 183L508.5 185.7L508.7 188.4L509 191.1L509.2 193.5L509.5 195.5L509.7 197.2L510 198.7L510.3 200L510.5 201.1L510.8 202.2L511 203L511.3 203.7L511.5 204.4L511.8 205.1L512 205.6L512.3 206.2L512.6 206.7L512.8 207.2L513.1 207.6L513.3 208L513.6 208.4L513.8 208.7L514.1 209L514.3 209.3L514.6 209.6L514.9 209.8L515.1 210.1L515.4 210.3L515.6 210.5L515.9 210.7L516.1 210.9L516.4 211.1L516.6 211.3L516.9 211.5L517.2 211.7L517.4 211.8L517.7 212L517.9 212.2L518.2 212.3L518.4 212.5L518.7 212.6L518.9 212.7L519.2 212.9L519.5 213L519.7 213.1L520 213.3L520.2 213.4L520.5 213.5L520.7 213.6L521 213.7L521.2 213.8L521.5 214L521.8 214.1L522 214.2L522.3 214.3L522.5 214.4L522.8 214.5L523 214.6L523.3 214.7L523.5 214.8L523.8 214.9L524.1 215L524.3 215.1L524.6 215.2L524.8 215.3L525.1 215.4L525.3 215.5L525.6 215.5L525.8 215.6L526.1 215.7L526.4 215.8L526.6 215.9L526.9 216L527.1 216.1L527.4 216.2L527.6 216.3L527.9 216.3L528.1 216.4L528.4 216.5L528.7 216.6L528.9 216.7L529.2 216.8L529.4 216.9L529.7 216.9L529.9 217L530.2 217.1L530.4 217.2L530.7 217.3L531 217.4L531.2 217.5L531.5 217.6L531.7 217.6L532 217.7L532.2 217.8L532.5 217.9L532.7 218L533 218.1L533.3 218.1L533.5 218.2L533.8 218.3L534 218.4L534.3 218.5L534.5 218.5L534.8 218.6L535 218.7L535.3 218.8L535.6 218.9L535.8 219L536.1 219L536.3 219.1L536.6 219.2L536.8 219.3L537.1 219.4L537.3 219.5L537.6 219.6L537.9 219.7L538.1 219.9L538.4 220L538.6 220.1L538.9 220.2L539.1 220.4L539.4 220.5L539.6 220.7L539.9 220.8L540.2 221L540.4 221.2L540.7 221.4L540.9 221.6L541.2 221.8L541.4 222L541.7 222.2L541.9 222.5L542.2 222.8L542.5 223.1L542.7 223.5L543 223.8L543.2 224.2L543.5 224.5L543.7 224.8L544 225.1L544.2 225.3L544.5 225.6L544.8 225.8L545 226L545.3 226.1L545.5 226.3L545.8 226.5L546 226.7L546.3 226.8L546.5 226.9L546.8 227.1L547.1 227.1L547.3 227.2L547.6 227.2L547.8 227.3L548.1 227.3L548.3 227.4L548.6 227.4L548.8 227.4L549.1 227.5L549.4 227.5L549.6 227.5L549.9 227.5L550.1 227.6L550.4 227.6L550.6 227.6L550.9 227.6L551.1 227.7L551.4 227.7L551.7 227.7L551.9 227.7L552.2 227.7L552.4 227.7L552.7 227.8L552.9 227.8L553.2 227.8L553.4 227.8L553.7 227.8L554 227.9L554.2 227.9L554.5 227.9L554.7 227.9L555 228L555.2 228L555.5 228L555.7 228L556 228L556.3 228L556.5 228L556.8 228L557 228L557.3 228L557.5 228L557.8 228L558 228L558.3 228L558.6 228L558.8 228L559.1 228L559.3 228L559.6 228L559.8 228L560.1 228L560.3 228L560.6 228L560.9 228L561.1 228L561.4 228L561.6 228L561.9 228L562.1 228L562.4 228L562.6 228L562.9 228L563.2 228L563.4 228L563.7 228L563.9 228L564.2 228L564.4 228L564.7 228L565 228L565.2 228L565.5 228L565.7 228L566 228L566.2 228L566.5 228L566.7 228L567 228L567.3 228L567.5 228L567.8 228L568 228L568.3 228L568.5 228L568.8 228L569 228L569.3 228L569.6 228L569.8 228L570.1 228L570.3 228L570.6 228L570.8 228L571.1 228L571.3 228L571.6 228L571.9 228L572.1 228L572.4 228L572.6 228L572.9 228L573.1 228L573.4 228L573.6 228L573.9 228L574.2 228L574.4 228L574.7 228L574.9 228L575.2 228L575.4 228L575.7 228L575.9 228L576.2 228L576.5 228L576.7 228L577 228L577.2 228L577.5 228L577.7 228L578 228L578.2 228L578.5 228L578.8 228L579 228L579.3 228L579.5 228L579.8 228L580 228L580.3 228L580.5 228L580.8 228L581.1 228L581.3 228L581.6 228L581.8 228L582.1 228L582.3 228L582.6 228L582.8 228L583.1 228L583.4 228L583.6 228L583.9 228L584.1 228L584.4 228L584.6 228L584.9 228L585.1 228L585.4 228L585.7 228L585.9 228L586.2 228L586.4 228L586.7 228L586.9 228L587.2 228L587.4 228L587.7 228L588 228L588.2 228L588.5 228L588.7 228L589 228L589.2 228L589.5 228L589.7 228L590 228L590.3 228L590.5 228L590.8 228L591 228L591.3 228L591.5 228L591.8 228L592 228L592.3 228L592.6 228L592.8 228L593.1 228L593.3 228L593.6 228L593.8 228L594.1 228L594.3 228L594.6 228L594.9 228L595.1 228L595.4 228L595.6 228L595.9 228L596.1 228L596.4 228L596.6 228L596.9 228L597.2 228L597.4 228L597.7 228L597.9 228L598.2 228L598.4 228L598.7 228L598.9 228L599.2 228L599.5 228L599.7 228L600 228L600.2 228L600.5 228L600.7 228L601 228L601.2 228L601.5 228L601.8 228L602 228L602.3 228L602.5 228L602.8 228L603 228L603.3 228L603.5 228L603.8 228L604.1 228L604.3 228L604.6 228L604.8 228L605.1 228L605.3 228L605.6 228L605.8 228L606.1 228L606.4 228L606.6 228L606.9 228L607.1 228L607.4 228L607.6 228L607.9 228L608.1 228L608.4 228L608.7 228L608.9 228L609.2 228L609.4 228L609.7 228L609.9 228L610.2 228L610.4 228L610.7 228L611 228L611.2 228L611.5 228L611.7 228L612 228L612.2 228L612.5 228L612.7 228L613 228L613.3 228L613.5 228L613.8 228L614 228L614.3 228L614.5 228L614.8 228L615 228L615.3 228L615.6 228L615.8 228L616.1 228L616.3 228L616.6 228L616.8 228L617.1 228L617.3 228L617.6 228L617.9 228L618.1 228L618.4 228L618.6 228L618.9 228L619.1 228L619.4 228L619.6 228L619.9 228L620.2 228L620.4 228L620.7 228L620.9 228L621.2 228L621.4 228L621.7 228L621.9 228L622.2 228L622.5 228L622.5 248L315.7 248Z" fill="url(#gO)"/>
<path d="M315.7 269.5L316.3 269.5L316.8 269.5L317.3 269.5L317.8 269.5L318.3 269.5L318.8 269.5L319.3 269.5L319.8 269.5L320.3 269.5L320.9 269.5L321.4 269.5L321.9 269.5L322.4 269.5L322.9 269.5L323.4 269.5L323.9 269.5L324.4 269.5L324.9 269.5L325.5 269.5L326 269.5L326.5 269.5L327 269.5L327.5 269.5L328 269.5L328.5 269.5L329 269.5L329.5 269.5L330.1 269.5L330.6 269.5L331.1 269.5L331.6 269.5L332.1 269.5L332.6 269.5L333.1 269.5L333.6 269.5L334.1 269.5L334.7 269.5L335.2 269.5L335.7 269.5L336.2 269.5L336.7 269.5L337.2 269.5L337.7 269.5L338.2 269.5L338.7 269.5L339.3 269.5L339.8 269.5L340.3 269.5L340.8 269.5L341.3 269.5L341.8 269.5L342.3 269.5L342.8 269.5L343.3 269.5L343.9 269.5L344.4 269.5L344.9 269.5L345.4 269.5L345.9 269.5L346.4 269.5L346.9 269.5L347.4 269.5L347.9 269.5L348.5 269.5L349 269.5L349.5 269.5L350 269.5L350.5 269.5L351 269.5L351.5 269.5L352 269.5L352.5 269.5L353.1 269.5L353.6 269.5L354.1 269.5L354.6 269.5L355.1 269.5L355.6 269.5L356.1 269.5L356.6 269.5L357.1 269.5L357.7 269.5L358.2 269.5L358.7 269.5L359.2 269.5L359.7 269.5L360.2 269.5L360.7 269.5L361.2 269.5L361.7 269.5L362.3 269.5L362.8 269.5L363.3 269.5L363.8 269.5L364.3 269.5L364.8 269.5L365.3 269.5L365.8 269.5L366.3 269.5L366.9 269.5L367.4 269.5L367.9 269.5L368.4 269.5L368.9 269.5L369.4 269.5L369.9 269.5L370.4 269.5L370.9 269.5L371.5 269.5L372 269.5L372.5 269.5L373 269.5L373.5 269.5L374 269.5L374.5 269.5L375 269.5L375.6 269.5L376.1 269.5L376.6 269.5L377.1 269.5L377.6 269.5L378.1 269.5L378.6 269.5L379.1 269.5L379.6 269.5L380.2 269.5L380.7 269.5L381.2 269.5L381.7 269.5L382.2 269.5L382.7 269.5L383.2 269.5L383.7 269.5L384.2 269.5L384.8 269.5L385.3 269.5L385.8 269.5L386.3 269.5L386.8 269.5L387.3 269.5L387.8 269.5L388.3 269.5L388.8 269.5L389.4 269.5L389.9 269.5L390.4 269.5L390.9 269.5L391.4 269.5L391.9 269.5L392.4 269.5L392.9 269.5L393.4 269.5L394 269.5L394.5 269.5L395 269.5L395.5 269.5L396 269.5L396.5 269.5L397 269.5L397.5 269.5L398 269.5L398.6 269.5L399.1 269.5L399.6 269.5L400.1 269.5L400.6 269.5L401.1 269.5L401.6 269.5L402.1 269.5L402.6 269.5L403.2 269.5L403.7 269.5L404.2 269.5L404.7 269.5L405.2 269.5L405.7 269.5L406.2 269.5L406.7 269.5L407.2 269.5L407.8 269.5L408.3 269.5L408.8 269.5L409.3 269.5L409.8 269.5L410.3 269.5L410.8 269.5L411.3 269.5L411.8 269.5L412.4 269.5L412.9 269.5L413.4 269.5L413.9 269.5L414.4 269.5L414.9 269.5L415.4 269.5L415.9 269.5L416.4 269.5L417 269.5L417.5 269.5L418 269.5L418.5 269.5L419 269.5L419.5 269.5L420 269.5L420.5 269.5L421 269.5L421.6 269.5L422.1 269.5L422.6 269.5L423.1 269.5L423.6 269.5L424.1 269.5L424.6 269.5L425.1 269.5L425.6 269.5L426.2 269.5L426.7 269.5L427.2 269.5L427.7 269.5L428.2 269.5L428.7 269.5L429.2 269.5L429.7 269.5L430.2 269.5L430.8 269.5L431.3 269.5L431.8 269.5L432.3 269.5L432.8 269.5L433.3 269.5L433.8 269.5L434.3 269.5L434.8 269.5L435.4 269.5L435.9 269.5L436.4 269.5L436.9 269.5L437.4 269.5L437.9 269.5L438.4 269.5L438.9 269.5L439.5 269.5L440 269.5L440.5 269.5L441 269.5L441.5 269.5L442 269.5L442.5 269.5L443 269.5L443.5 269.5L444.1 269.5L444.6 269.5L445.1 269.5L445.6 269.5L446.1 269.5L446.6 269.5L447.1 269.5L447.6 269.5L448.1 269.5L448.6 269.5L448.7 269.5L448.8 269.5L448.9 269.5L449 269.5L449.1 269.5L449.2 269.5L449.3 269.5L449.4 269.5L449.5 269.5L449.6 269.5L449.7 269.5L449.8 269.5L449.9 269.5L450 269.5L450.1 269.5L450.2 269.5L450.3 269.5L450.4 269.5L450.4 258.6L450.5 258.6L450.6 258.6L450.7 258.6L450.8 258.6L450.9 258.5L451 258.5L451.1 258.5L451.2 258.5L451.3 258.5L451.4 258.4L451.5 258.4L451.6 258.4L451.7 258.4L451.8 258.4L451.8 258.3L451.9 258.3L452 258.3L452.1 258.3L452.2 258.3L452.3 258.3L452.3 258.2L452.4 258.2L452.5 258.2L452.6 258.2L452.7 258.2L452.8 258.1L452.9 258.1L453 258.1L453.1 258.1L453.2 258.1L453.2 258L453.3 258L453.4 258L453.5 258L453.6 258L453.7 257.9L453.8 257.9L453.9 257.9L454 257.9L454.1 257.9L454.1 257.8L454.2 257.8L454.3 257.8L454.4 257.8L454.5 257.8L454.5 257.7L454.6 257.7L454.7 257.7L454.8 257.7L454.9 257.6L455 257.6L455.1 257.6L455.2 257.6L455.3 257.6L455.3 257.5L455.4 257.5L455.5 257.5L455.6 257.5L455.7 257.5L455.7 257.4L455.8 257.4L455.9 257.4L456 257.4L456.1 257.3L456.2 257.3L456.3 257.3L456.4 257.3L456.4 257.2L456.5 257.2L456.6 257.2L456.7 257.2L456.8 257.2L456.8 257.1L456.9 257.1L457 257.1L457.1 257.1L457.1 257L457.2 257L457.3 257L457.4 257L457.5 257L457.5 256.9L457.6 256.9L457.7 256.9L457.8 256.9L457.8 256.8L457.9 256.8L458 256.8L458.1 256.8L458.2 256.7L458.3 256.7L458.4 256.7L458.5 256.6L458.6 256.6L458.7 256.6L458.8 256.5L458.9 256.5L459 256.5L459.1 256.4L459.2 256.4L459.3 256.4L459.4 256.3L459.5 256.3L459.6 256.3L459.7 256.2L459.8 256.2L459.8 105.2L459.8 126.3L459.9 143.3L459.9 145.9L459.9 155L460 163.6L460.1 170.4L460.1 175.8L460.2 180.4L460.3 184.2L460.3 187.5L460.4 190.3L460.4 190.9L460.5 192.9L460.5 195.1L460.6 197.2L460.7 199L460.7 200.7L460.8 202.2L460.8 203.6L460.9 204.9L460.9 205.1L461 206.1L461 207.2L461.1 208.2L461.2 209.2L461.2 210.1L461.3 211L461.4 211.8L461.4 212.5L461.4 212.7L461.5 213.3L461.5 213.9L461.6 214.6L461.7 215.2L461.7 215.8L461.8 216.3L461.9 216.9L461.9 217.4L461.9 217.5L462 217.9L462.1 218.3L462.1 218.8L462.2 219.2L462.2 219.6L462.3 220L462.4 220.4L462.4 220.8L462.5 220.9L462.5 221.1L462.6 221.5L462.6 221.8L462.7 222.1L462.8 222.4L462.8 222.7L462.9 223L463 223.3L463 223.4L463 223.6L463.1 223.8L463.1 224.1L463.2 224.3L463.3 224.6L463.3 224.8L463.4 225L463.5 225.2L463.5 225.3L463.5 225.4L463.6 225.7L463.7 225.8L463.7 226L463.8 226.2L463.8 226.4L463.9 226.6L464 226.8L464 226.9L464.1 227.1L464.2 227.3L464.2 227.4L464.3 227.6L464.4 227.7L464.4 227.8L464.5 228L464.6 228.1L464.6 228.3L464.7 228.4L464.7 228.5L464.8 228.6L464.9 228.7L464.9 228.9L465 229L465.1 229.1L465.1 229.2L465.2 229.3L465.3 229.4L465.3 229.5L465.4 229.6L465.4 229.7L465.5 229.8L465.6 229.9L465.6 230L465.7 230L465.8 230.1L465.8 230.2L465.9 230.3L466 230.3L466 230.4L466.1 230.5L466.1 230.6L466.2 230.6L466.3 230.7L466.3 230.8L466.4 230.8L466.5 230.9L466.5 231L466.6 231L466.7 231.1L466.8 231.2L466.9 231.2L466.9 231.3L467 231.3L467.1 231.4L467.2 231.4L467.2 231.5L467.3 231.5L467.4 231.5L467.4 231.6L467.5 231.6L467.6 231.7L467.7 231.7L467.8 231.8L467.9 231.8L468 231.8L468.1 231.9L468.2 231.9L468.3 231.9L468.4 232L468.5 232L468.6 232L468.7 232L468.8 232L468.9 232L469 232L469.1 232L469.2 232L469.3 232L469.4 232L469.5 232L469.6 232L469.7 232L469.8 232L469.9 231.9L470 231.9L470.1 231.9L470.2 231.9L470.2 231.8L470.3 231.8L470.4 231.8L470.5 231.7L470.6 231.7L470.7 231.6L470.8 231.6L470.9 231.5L471 231.4L471.1 231.4L471.2 231.3L471.3 231.3L471.3 231.2L471.4 231.2L471.5 231.1L471.6 231L471.7 231L471.7 230.9L471.8 230.8L471.9 230.7L472 230.7L472 230.6L472.1 230.5L472.2 230.5L472.2 230.4L472.3 230.3L472.3 230.2L472.4 230.1L472.5 230.1L472.5 230L472.6 229.9L472.7 229.8L472.7 229.7L472.8 229.6L472.9 229.5L472.9 229.4L473 229.3L473 229.2L473.1 229.1L473.2 229L473.2 228.9L473.3 228.8L473.4 228.7L473.4 228.6L473.5 228.4L473.6 228.3L473.6 228.2L473.7 228L473.8 227.9L473.8 227.8L473.9 227.6L473.9 227.5L474 227.3L474.1 227.2L474.1 227L474.2 226.8L474.3 226.7L474.3 226.5L474.4 226.3L474.5 226.1L474.5 225.9L474.6 225.7L474.6 225.5L474.7 225.3L474.8 225.1L474.8 224.9L474.9 224.7L475 224.4L475 224.2L475.1 223.9L475.2 223.7L475.2 223.4L475.3 223.1L475.3 222.9L475.4 222.6L475.5 222.3L475.5 221.9L475.6 221.6L475.7 221.3L475.7 220.9L475.8 220.6L475.9 220.2L475.9 219.8L476 219.4L476.1 219L476.1 218.5L476.2 218.1L476.2 217.6L476.3 217.5L476.3 217.1L476.4 216.6L476.4 216L476.5 215.4L476.6 214.8L476.6 214.2L476.7 213.5L476.8 212.8L476.8 212.7L476.8 212.1L476.9 211.3L476.9 210.5L477 209.6L477.1 208.6L477.1 207.6L477.2 206.5L477.3 205.4L477.3 205.1L477.3 204.1L477.4 202.8L477.5 201.3L477.5 199.7L477.6 197.9L477.6 196L477.7 193.8L477.8 191.4L477.8 190.9L477.8 188.7L477.9 185.6L478 182L478 177.7L478.1 172.7L478.2 166.5L478.2 158.7L478.3 148.4L478.3 145.9L478.4 133.9L478.4 111.4L478.4 105.2L478.4 256.2L478.5 256.2L478.6 256.3L478.7 256.3L478.8 256.3L478.9 256.4L479 256.4L479.1 256.4L479.2 256.5L479.3 256.5L479.4 256.5L479.5 256.6L479.6 256.6L479.7 256.6L479.8 256.6L479.8 256.7L479.9 256.7L480 256.7L480.1 256.7L480.1 256.8L480.2 256.8L480.3 256.8L480.4 256.8L480.5 256.9L480.6 256.9L480.7 256.9L480.8 257L480.9 257L481 257L481.1 257.1L481.2 257.1L481.3 257.1L481.4 257.1L481.5 257.2L481.6 257.2L481.7 257.2L481.8 257.3L481.9 257.3L482 257.3L482.1 257.3L482.2 257.4L482.3 257.4L482.4 257.4L482.5 257.4L482.6 257.5L482.7 257.5L482.8 257.5L482.9 257.5L483 257.6L483.1 257.6L483.2 257.6L483.3 257.6L483.3 257.7L483.4 257.7L483.5 257.7L483.6 257.7L483.7 257.7L483.7 257.8L483.8 257.8L483.9 257.8L484 257.8L484.1 257.8L484.2 257.9L484.3 257.9L484.4 257.9L484.5 257.9L484.6 257.9L484.6 258L484.7 258L484.8 258L484.9 258L485 258.1L485.1 258.1L485.2 258.1L485.3 258.1L485.4 258.1L485.4 258.2L485.5 258.2L485.6 258.2L485.7 258.2L485.8 258.2L485.9 258.2L486 258.3L486.1 258.3L486.2 258.3L486.3 258.3L486.4 258.4L486.5 258.4L486.6 258.4L486.7 258.4L486.8 258.4L486.9 258.4L486.9 258.5L487 258.5L487.1 258.5L487.2 258.5L487.3 258.5L487.4 258.6L487.5 258.6L487.6 258.6L487.7 258.6L487.8 258.6L487.8 269.5L487.9 269.5L488 269.5L488.1 269.5L488.2 269.5L488.3 269.5L488.4 269.5L488.5 269.5L488.6 269.5L488.7 269.5L488.8 269.5L488.9 269.5L489 269.5L489.1 269.5L489.2 269.5L489.3 269.5L489.4 269.5L489.5 269.5L489.6 269.5L490.1 269.5L490.6 269.5L491.1 269.5L491.6 269.5L492.1 269.5L492.6 269.5L493.1 269.5L493.6 269.5L494.1 269.5L494.7 269.5L495.2 269.5L495.7 269.5L496.2 269.5L496.7 269.5L497.2 269.5L497.7 269.5L498.2 269.5L498.7 269.5L499.3 269.5L499.8 269.5L500.3 269.5L500.8 269.5L501.3 269.5L501.8 269.5L502.3 269.5L502.8 269.5L503.4 269.5L503.9 269.5L504.4 269.5L504.9 269.5L505.4 269.5L505.9 269.5L506.4 269.5L506.9 269.5L507.4 269.5L508 269.5L508.5 269.5L509 269.5L509.5 269.5L510 269.5L510.5 269.5L511 269.5L511.5 269.5L512 269.5L512.6 269.5L513.1 269.5L513.6 269.5L514.1 269.5L514.6 269.5L515.1 269.5L515.6 269.5L516.1 269.5L516.6 269.5L517.2 269.5L517.7 269.5L518.2 269.5L518.7 269.5L519.2 269.5L519.7 269.5L520.2 269.5L520.7 269.5L521.2 269.5L521.8 269.5L522.3 269.5L522.8 269.5L523.3 269.5L523.8 269.5L524.3 269.5L524.8 269.5L525.3 269.5L525.8 269.5L526.4 269.5L526.9 269.5L527.4 269.5L527.9 269.5L528.4 269.5L528.9 269.5L529.4 269.5L529.9 269.5L530.4 269.5L531 269.5L531.5 269.5L532 269.5L532.5 269.5L533 269.5L533.5 269.5L534 269.5L534.5 269.5L535 269.5L535.6 269.5L536.1 269.5L536.6 269.5L537.1 269.5L537.6 269.5L538.1 269.5L538.6 269.5L539.1 269.5L539.6 269.5L540.2 269.5L540.7 269.5L541.2 269.5L541.7 269.5L542.2 269.5L542.7 269.5L543.2 269.5L543.7 269.5L544.2 269.5L544.8 269.5L545.3 269.5L545.8 269.5L546.3 269.5L546.8 269.5L547.3 269.5L547.8 269.5L548.3 269.5L548.8 269.5L549.4 269.5L549.9 269.5L550.4 269.5L550.9 269.5L551.4 269.5L551.9 269.5L552.4 269.5L552.9 269.5L553.4 269.5L554 269.5L554.5 269.5L555 269.5L555.5 269.5L556 269.5L556.5 269.5L557 269.5L557.5 269.5L558 269.5L558.6 269.5L559.1 269.5L559.6 269.5L560.1 269.5L560.6 269.5L561.1 269.5L561.6 269.5L562.1 269.5L562.6 269.5L563.2 269.5L563.7 269.5L564.2 269.5L564.7 269.5L565.2 269.5L565.7 269.5L566.2 269.5L566.7 269.5L567.3 269.5L567.8 269.5L568.3 269.5L568.8 269.5L569.3 269.5L569.8 269.5L570.3 269.5L570.8 269.5L571.3 269.5L571.9 269.5L572.4 269.5L572.9 269.5L573.4 269.5L573.9 269.5L574.4 269.5L574.9 269.5L575.4 269.5L575.9 269.5L576.5 269.5L577 269.5L577.5 269.5L578 269.5L578.5 269.5L579 269.5L579.5 269.5L580 269.5L580.5 269.5L581.1 269.5L581.6 269.5L582.1 269.5L582.6 269.5L583.1 269.5L583.6 269.5L584.1 269.5L584.6 269.5L585.1 269.5L585.7 269.5L586.2 269.5L586.7 269.5L587.2 269.5L587.7 269.5L588.2 269.5L588.7 269.5L589.2 269.5L589.7 269.5L590.3 269.5L590.8 269.5L591.3 269.5L591.8 269.5L592.3 269.5L592.8 269.5L593.3 269.5L593.8 269.5L594.3 269.5L594.9 269.5L595.4 269.5L595.9 269.5L596.4 269.5L596.9 269.5L597.4 269.5L597.9 269.5L598.4 269.5L598.9 269.5L599.5 269.5L600 269.5L600.5 269.5L601 269.5L601.5 269.5L602 269.5L602.5 269.5L603 269.5L603.5 269.5L604.1 269.5L604.6 269.5L605.1 269.5L605.6 269.5L606.1 269.5L606.6 269.5L607.1 269.5L607.6 269.5L608.1 269.5L608.7 269.5L609.2 269.5L609.7 269.5L610.2 269.5L610.7 269.5L611.2 269.5L611.7 269.5L612.2 269.5L612.7 269.5L613.3 269.5L613.8 269.5L614.3 269.5L614.8 269.5L615.3 269.5L615.8 269.5L616.3 269.5L616.8 269.5L617.3 269.5L617.9 269.5L618.4 269.5L618.9 269.5L619.4 269.5L619.9 269.5L620.4 269.5L620.9 269.5L621.4 269.5L621.9 269.5L622.5 269.5L622.5 269.5L315.7 269.5Z" fill="url(#gB)"/>
<path d="M318.7 209.2L320.7 206.6L322.7 204L324.7 201.3L326.7 198.6L328.7 195.8L330.7 193L332.7 190.1L334.7 187.1L336.7 184.1L338.7 181.1L340.7 178L342.7 174.9L344.7 171.7L346.7 168.5L348.7 165.2L350.7 161.9L352.7 158.6L354.7 155.2L356.7 151.8L358.7 148.3L360.7 144.9L362.7 141.4L364.7 137.9L366.7 134.3L368.7 130.8L370.7 127.2L372.7 123.7L374.7 120.1L376.7 116.5L378.7 112.9L380.7 109.3L382.7 105.8L384.7 102.2L386.7 98.6L388.7 95.1L390.7 91.6L392.7 88.1L394.7 84.7L396.7 81.2L398.7 77.8L400.7 74.5L402.7 71.2L404.7 67.9L406.7 64.7L408.7 61.6L410.7 58.5L412.7 55.5L414.7 52.5L416.7 49.6L418.7 46.8L420.7 44.1L422.7 41.4L424.7 38.8L426.7 36.3L428.7 34L430.7 31.7L432.7 29.5L434.7 27.4L436.7 25.4L438.7 23.5L440.7 21.7L442.7 20L444.7 18.5L446.7 17.1L448.7 15.7L450.7 14.5L452.7 13.5L454.7 12.5L456.7 11.7L458.7 11L460.7 10.4L462.7 9.9L464.7 9.6L466.7 9.4L468.7 9.4L470.7 9.4L472.7 9.6L474.7 9.9L476.7 10.4L478.7 11L480.7 11.7L482.7 12.5L484.7 13.5L486.7 14.5L488.7 15.7L490.7 17.1L492.7 18.5L494.7 20L496.7 21.7L498.7 23.5L500.7 25.4L502.7 27.4L504.7 29.5L506.7 31.7L508.7 34L510.7 36.3L512.7 38.8L514.7 41.4L516.7 44.1L518.7 46.8L520.7 49.6L522.7 52.5L524.7 55.5L526.7 58.5L528.7 61.6L530.7 64.7L532.7 67.9L534.7 71.2L536.7 74.5L538.7 77.8L540.7 81.2L542.7 84.7L544.7 88.1L546.7 91.6L548.7 95.1L550.7 98.6L552.7 102.2L554.7 105.8L556.7 109.3L558.7 112.9L560.7 116.5L562.7 120.1L564.7 123.7L566.7 127.2L568.7 130.8L570.7 134.3L572.7 137.9L574.7 141.4L576.7 144.9L578.7 148.3L580.7 151.8L582.7 155.2L584.7 158.6L586.7 161.9L588.7 165.2L590.7 168.5L592.7 171.7L594.7 174.9L596.7 178L598.7 181.1L600.7 184.1L602.7 187.1L604.7 190.1L606.7 193L608.7 195.8L610.7 198.6L612.7 201.3L614.7 204L616.7 206.6L618.7 209.2" fill="none" stroke="url(#gRF)" stroke-width="2.3" stroke-dasharray="3.8 4.3"/>
<path d="M315.7 191L316 199.7L316.3 190.1L316.5 197.8L316.8 185.2L317 204.4L317.3 188.1L317.5 210.5L317.8 197.5L318 204.2L318.3 186.9L318.6 199.9L318.8 183L319.1 191.8L319.3 175.5L319.6 196.7L319.8 177.8L320.1 197.9L320.3 189.1L320.6 202.5L320.9 189.6L321.1 200.7L321.4 184.3L321.6 194.5L321.9 180.6L322.1 192.5L322.4 180.6L322.6 199.4L322.9 186.3L323.2 196.5L323.4 188.3L323.7 205L323.9 185.3L324.2 196.5L324.4 186.7L324.7 196.4L324.9 183.1L325.2 194.1L325.5 186.7L325.7 194.5L326 186.2L326.2 200.2L326.5 188.5L326.7 203.8L327 194.7L327.2 200.7L327.5 188.5L327.8 199.9L328 185.1L328.3 200.7L328.5 192.3L328.8 205.6L329 192.4L329.3 202.8L329.5 184.6L329.8 203.7L330.1 188.8L330.3 199.8L330.6 186.1L330.8 197.2L331.1 177.3L331.3 195.3L331.6 179.7L331.8 195.9L332.1 184.6L332.4 201L332.6 181.3L332.9 202.7L333.1 186.6L333.4 194.9L333.6 183.1L333.9 199.3L334.1 181.3L334.4 198.1L334.7 177.3L334.9 198L335.2 183.1L335.4 201.5L335.7 183.1L335.9 194.1L336.2 183.3L336.4 198.7L336.7 187.3L337 198.1L337.2 183.3L337.5 198.2L337.7 174.4L338 192.9L338.2 184.9L338.5 197.7L338.7 181.6L339 197.8L339.3 179.8L339.5 189.5L339.8 181.3L340 195.7L340.3 184.1L340.5 197L340.8 187.6L341 203.5L341.3 191.2L341.6 201.4L341.8 183L342.1 193.8L342.3 183.8L342.6 197L342.8 185.3L343.1 197.5L343.3 185.7L343.6 197.4L343.9 186.4L344.1 198.7L344.4 182.1L344.6 192.9L344.9 178.8L345.1 193.9L345.4 186.5L345.6 195.7L345.9 184.5L346.2 196L346.4 186L346.7 199.8L346.9 179.7L347.2 193.6L347.4 178.3L347.7 192.1L347.9 183.4L348.2 196.5L348.5 186.4L348.7 207.5L349 191.2L349.2 204.9L349.5 186L349.7 198L350 186.9L350.2 208.8L350.5 187.1L350.8 202.8L351 187.8L351.3 200.4L351.5 180.9L351.8 195.6L352 185.7L352.3 200.9L352.5 189.1L352.8 201.1L353.1 187.4L353.3 200.7L353.6 186.3L353.8 196.8L354.1 187.6L354.3 200.4L354.6 188.6L354.8 201.8L355.1 181.7L355.4 200.6L355.6 179.8L355.9 193.5L356.1 181.3L356.4 192.8L356.6 179.6L356.9 196.1L357.1 189.5L357.4 201.2L357.7 187.7L357.9 201.2L358.2 184.8L358.4 201.9L358.7 190.4L358.9 202.6L359.2 191.5L359.4 198.7L359.7 184.6L360 198.3L360.2 186.1L360.5 197.3L360.7 189.2L361 204.5L361.2 196.3L361.5 202.2L361.7 188.6L362 201.2L362.3 187.4L362.5 196.6L362.8 186.2L363 197L363.3 177.5L363.5 193.2L363.8 177.5L364 188.6L364.3 173.7L364.6 195.8L364.8 185.9L365.1 202.3L365.3 189.2L365.6 206.5L365.8 181.8L366.1 200.4L366.3 187.8L366.6 198.2L366.9 178.6L367.1 192.8L367.4 179.4L367.6 196.9L367.9 181.2L368.1 201.9L368.4 184.5L368.6 201.9L368.9 193.5L369.2 201.9L369.4 189.4L369.7 203.4L369.9 185.2L370.2 196.3L370.4 186.3L370.7 200.1L370.9 186.5L371.2 198.9L371.5 184.5L371.7 199.8L372 182.9L372.2 201.7L372.5 190.1L372.7 198.5L373 182.1L373.2 196L373.5 180.9L373.8 198.4L374 184.5L374.3 199.2L374.5 185.8L374.8 196.8L375 185.5L375.3 208.8L375.6 183.6L375.8 195.7L376.1 182.6L376.3 198.1L376.6 185.4L376.8 198.5L377.1 182L377.3 193.7L377.6 182.2L377.9 195.4L378.1 179.9L378.4 199.7L378.6 185.1L378.9 194L379.1 181.7L379.4 196.3L379.6 182.1L379.9 192.1L380.2 175.9L380.4 199.9L380.7 179.9L380.9 194.1L381.2 182.3L381.4 197.2L381.7 182.2L381.9 201.2L382.2 187.1L382.5 195.5L382.7 184.3L383 196.7L383.2 181.7L383.5 194.6L383.7 183.5L384 194.1L384.2 179.8L384.5 193.3L384.8 176L385 196L385.3 179.7L385.5 199.5L385.8 183.3L386 196.8L386.3 179.8L386.5 194.6L386.8 185.6L387.1 201.5L387.3 183.1L387.6 197.1L387.8 186.1L388.1 195.9L388.3 185.5L388.6 202.8L388.8 180.8L389.1 196.7L389.4 186.3L389.6 200.7L389.9 182.1L390.1 199.9L390.4 182.4L390.6 191.6L390.9 177.8L391.1 191.1L391.4 174.1L391.7 187.9L391.9 176.9L392.2 193.5L392.4 180.8L392.7 191.7L392.9 183.3L393.2 200.2L393.4 181.6L393.7 195.6L394 186.4L394.2 196.2L394.5 184.3L394.7 191.9L395 180.5L395.2 191.6L395.5 172.3L395.7 192.7L396 180.9L396.3 195.5L396.5 184.7L396.8 197L397 178.9L397.3 190.7L397.5 182.5L397.8 192.5L398 180.5L398.3 189.7L398.6 176L398.8 186.1L399.1 170.3L399.3 188.8L399.6 176.5L399.8 197.1L400.1 179.1L400.3 194.8L400.6 173.2L400.9 186.9L401.1 177.3L401.4 186.9L401.6 177.9L401.9 188.7L402.1 181.2L402.4 193.5L402.6 176.1L402.9 188.4L403.2 171.8L403.4 184.1L403.7 169.8L403.9 187.6L404.2 173L404.4 187.7L404.7 170.9L404.9 189.3L405.2 174.6L405.5 182.3L405.7 166.9L406 184.1L406.2 169.9L406.5 183.2L406.7 169.8L407 182.3L407.2 167.7L407.5 185.3L407.8 174.4L408 188.3L408.3 178.4L408.5 192.1L408.8 176.9L409 187.1L409.3 167.2L409.5 184.8L409.8 162.9L410.1 188.8L410.3 172.6L410.6 185.1L410.8 175.3L411.1 185.8L411.3 175.4L411.6 185L411.8 171.8L412.1 181.8L412.4 171.9L412.6 193.4L412.9 172.7L413.1 188L413.4 173.8L413.6 186.6L413.9 169.9L414.1 185.2L414.4 170.9L414.7 185.8L414.9 175.9L415.2 190.4L415.4 175.5L415.7 192.8L415.9 179.2L416.2 185.9L416.4 171.8L416.7 185.2L417 170.7L417.2 183.8L417.5 176.1L417.7 191L418 169.4L418.2 186.1L418.5 172.3L418.7 187.6L419 175.8L419.3 184.4L419.5 170.7L419.8 180.4L420 166.8L420.3 180.9L420.5 172.7L420.8 182L421 169.9L421.3 178.1L421.6 163.5L421.8 179.4L422.1 164.1L422.3 173L422.6 160.9L422.8 180.4L423.1 170.9L423.3 182.4L423.6 169.7L423.9 183.1L424.1 160.9L424.4 179.5L424.6 157.9L424.9 176.8L425.1 166.1L425.4 183.2L425.6 172.2L425.9 180L426.2 166.1L426.4 178.5L426.7 158.2L426.9 167.7L427.2 153.6L427.4 167.3L427.7 159.2L427.9 171.1L428.2 163L428.5 169.8L428.7 159.7L429 166.1L429.2 152.2L429.5 162.2L429.7 147.2L430 163.1L430.2 145.2L430.5 160L430.8 132L431 149.4L431.3 132.4L431.5 144.9L431.8 115.7L432 141.6L432.3 115.5L432.5 134.1L432.8 115.8L433.1 127.7L433.3 119.6L433.6 133.7L433.8 121.2L434.1 138L434.3 127.1L434.6 141.6L434.8 127.9L435.1 143.2L435.4 135.3L435.6 149.2L435.9 131.5L436.1 145L436.4 130.8L436.6 145.9L436.9 137.1L437.2 151L437.4 140.9L437.7 150.6L437.9 136.5L438.2 151.6L438.4 139.3L438.7 151.9L438.9 142L439.2 155.7L439.5 145L439.7 158.9L440 143.2L440.2 155.4L440.5 135.3L440.7 158.1L441 145.8L441.2 154L441.5 141.6L441.8 146.8L442 131.7L442.3 149.5L442.5 137.6L442.8 154.2L443 140.7L443.3 155.3L443.5 144.9L443.8 156.5L444.1 142.1L444.3 151.5L444.6 142L444.8 160.9L445.1 143.4L445.3 159.8L445.6 145.6L445.8 158.1L446.1 144.6L446.4 154.9L446.6 147.5L446.9 161.1L447.1 146.4L447.4 160.3L447.6 145.4L447.9 152.9L448.1 141.8L448.4 156.3L448.7 138.9L448.9 152.3L449.2 143.4L449.4 150.6L449.7 136.2L449.9 149L450.2 128.8L450.4 143.8L450.7 129.5L451 141.9L451.2 126.7L451.5 137.8L451.7 117.5L452 135.4L452.2 119.2L452.5 133L452.7 117.7L453 126.8L453.3 110L453.5 134.6L453.8 110.9L454 124L454.3 112.6L454.5 118L454.8 107.2L455 116.9L455.3 96.5L455.6 109.6L455.8 92.3L456.1 103.7L456.3 88L456.6 99L456.8 91.7L457.1 105.6L457.3 88.1L457.6 102.3L457.9 78.1L458.1 91.6L458.4 70.2L458.6 74.7L458.9 57.8L459.1 66.4L459.4 44.8L459.6 52.6L459.9 31.1L460.2 40.9L460.4 27.7L460.7 35.5L460.9 21.8L461.2 31.9L461.4 21.9L461.7 34.4L461.9 24.5L462.2 42.5L462.5 24.5L462.7 43.4L463 29.3L463.2 45.3L463.5 38.5L463.7 49.1L464 38.6L464.2 53.3L464.5 29.9L464.8 52.5L465 33.7L465.3 52.1L465.5 45.9L465.8 56.8L466 40.3L466.3 62.3L466.5 51.6L466.8 59.9L467.1 49.1L467.3 58.4L467.6 48.1L467.8 61.3L468.1 55.1L468.3 67.2L468.6 56.1L468.8 67.1L469.1 58.3L469.4 68.8L469.6 48.1L469.9 60.9L470.1 47.2L470.4 65.7L470.6 52.3L470.9 65.7L471.1 56.8L471.4 63.9L471.7 53.6L471.9 62L472.2 51.3L472.4 66.4L472.7 40.4L472.9 55.1L473.2 43.5L473.4 54.5L473.7 36L474 57.4L474.2 38.9L474.5 55.2L474.7 35.6L475 43.3L475.2 32.4L475.5 42.6L475.7 26.4L476 38.6L476.3 27.9L476.5 34.9L476.8 20.1L477 35.3L477.3 20.2L477.5 35.1L477.8 26.8L478 41.2L478.3 34.8L478.6 54L478.8 49.1L479.1 65.3L479.3 57.7L479.6 74L479.8 63.1L480.1 84.1L480.3 68.5L480.6 98.2L480.9 88.3L481.1 101.4L481.4 81L481.6 101.7L481.9 95.8L482.1 114.9L482.4 96.9L482.6 120L482.9 105.2L483.2 117.8L483.4 99.8L483.7 122L483.9 116.6L484.2 130L484.4 119.8L484.7 130.9L484.9 114.6L485.2 129.3L485.5 118.1L485.7 133L486 117.9L486.2 131.1L486.5 121L486.7 142L487 124L487.2 138.1L487.5 125.1L487.8 132.8L488 125.3L488.3 136L488.5 131.3L488.8 145.1L489 126.6L489.3 142.6L489.5 130.4L489.8 145.1L490.1 130.7L490.3 146.6L490.6 137.2L490.8 152L491.1 146.2L491.3 155.2L491.6 141.6L491.8 157.7L492.1 143.3L492.4 163.6L492.6 145L492.9 157.9L493.1 147.9L493.4 159.7L493.6 145L493.9 160.2L494.1 146.9L494.4 154.6L494.7 145.3L494.9 157.2L495.2 142.9L495.4 156.1L495.7 147.2L495.9 153.8L496.2 141.1L496.4 151.6L496.7 138.5L497 146.7L497.2 136.8L497.5 153.4L497.7 139.6L498 157.5L498.2 148.2L498.5 164.7L498.7 150L499 159.2L499.3 140.8L499.5 155.8L499.8 141.6L500 152.3L500.3 144.6L500.5 156.7L500.8 142.8L501.1 153.7L501.3 137.3L501.6 151.9L501.8 133.2L502.1 141.4L502.3 133.1L502.6 144.3L502.8 131.9L503.1 139.1L503.4 123L503.6 137.8L503.9 124.7L504.1 133.6L504.4 118.4L504.6 130.2L504.9 117.5L505.1 130.8L505.4 119.4L505.7 134.4L505.9 118.5L506.2 134.2L506.4 126L506.7 138.7L506.9 131.8L507.2 148.6L507.4 137.1L507.7 150.4L508 130.7L508.2 150.3L508.5 143.7L508.7 156.6L509 142.4L509.2 163L509.5 154.5L509.7 168.3L510 157.1L510.3 184.5L510.5 162.3L510.8 176.2L511 162.2L511.3 175.2L511.5 166.8L511.8 178.1L512 166.2L512.3 183.6L512.6 172.5L512.8 185.6L513.1 168.8L513.3 182.3L513.6 173.8L513.8 190.5L514.1 173L514.3 181L514.6 168.8L514.9 181.1L515.1 170.4L515.4 184.5L515.6 177.3L515.9 194.1L516.1 177.1L516.4 185.8L516.6 175.3L516.9 187.1L517.2 170.2L517.4 184.3L517.7 167L517.9 181.4L518.2 169L518.4 180.7L518.7 165.6L518.9 179.4L519.2 166.6L519.5 180.8L519.7 168L520 182.5L520.2 171.4L520.5 189.4L520.7 179.4L521 187L521.2 174.2L521.5 185.6L521.8 169L522 186.2L522.3 172.6L522.5 188.5L522.8 174L523 186.8L523.3 172.4L523.5 186.5L523.8 170.8L524.1 182.1L524.3 171.3L524.6 187.5L524.8 176L525.1 194.9L525.3 181.3L525.6 189L525.8 180.1L526.1 187.5L526.4 171L526.6 184.4L526.9 172L527.1 188.1L527.4 171.6L527.6 187.9L527.9 172.8L528.1 189.4L528.4 177.9L528.7 189.6L528.9 179L529.2 200.2L529.4 182.8L529.7 191.5L529.9 173.6L530.2 186.3L530.4 175.9L530.7 191.3L531 175.3L531.2 191.2L531.5 175.9L531.7 191.2L532 178.1L532.2 199.7L532.5 188.6L532.7 200.8L533 185.4L533.3 191.3L533.5 172.4L533.8 186.8L534 179.3L534.3 194L534.5 178.6L534.8 196.4L535 179.5L535.3 191.3L535.6 181.4L535.8 191.3L536.1 179L536.3 194.7L536.6 178.2L536.8 194.8L537.1 184.2L537.3 195.6L537.6 184.8L537.9 197.4L538.1 181.3L538.4 202.1L538.6 184.7L538.9 187.9L539.1 177.5L539.4 185.4L539.6 178.3L539.9 193.6L540.2 181.9L540.4 190.5L540.7 181.3L540.9 188.6L541.2 182L541.4 195.9L541.7 187L541.9 196.6L542.2 189.7L542.5 201.2L542.7 184.4L543 195.8L543.2 180.8L543.5 191.3L543.7 178.3L544 192.6L544.2 183.6L544.5 201.1L544.8 181L545 196.5L545.3 188.9L545.5 200.1L545.8 187.8L546 198.1L546.3 181.2L546.5 204.3L546.8 193.3L547.1 203.5L547.3 185.9L547.6 194.1L547.8 181.8L548.1 199.5L548.3 179.4L548.6 192.4L548.8 184.4L549.1 195.2L549.4 182.5L549.6 195.3L549.9 185.1L550.1 194L550.4 181.3L550.6 199.1L550.9 188.2L551.1 199.8L551.4 187.1L551.7 197.4L551.9 185.6L552.2 191.8L552.4 181L552.7 192.3L552.9 176.7L553.2 199.8L553.4 180.5L553.7 188.9L554 179.1L554.2 193.9L554.5 181.8L554.7 192.3L555 184.5L555.2 193.2L555.5 181.7L555.7 195.8L556 182.9L556.3 195.7L556.5 187.9L556.8 202.4L557 192L557.3 203L557.5 186.9L557.8 199.7L558 188.8L558.3 197L558.6 188.4L558.8 199.3L559.1 180.5L559.3 199L559.6 185.7L559.8 203.9L560.1 182.2L560.3 200.9L560.6 181.8L560.9 202.2L561.1 182.9L561.4 195.9L561.6 186L561.9 203L562.1 186.2L562.4 195.3L562.6 183.2L562.9 194.2L563.2 181.4L563.4 189.9L563.7 181.6L563.9 192L564.2 176.7L564.4 195.2L564.7 187L565 196.8L565.2 182L565.5 197L565.7 180.1L566 198.5L566.2 190.3L566.5 200.6L566.7 182.7L567 206.8L567.3 187.7L567.5 199.8L567.8 185.9L568 200.9L568.3 189L568.5 203.4L568.8 184.4L569 203.1L569.3 189.2L569.6 211.2L569.8 198.2L570.1 214.3L570.3 187.5L570.6 196.8L570.8 181.5L571.1 192.4L571.3 183.8L571.6 195.8L571.9 183.4L572.1 204.6L572.4 181.9L572.6 199.4L572.9 177.7L573.1 192.2L573.4 179.3L573.6 194.8L573.9 189.9L574.2 198.5L574.4 188.2L574.7 196.7L574.9 185.6L575.2 196.9L575.4 187.4L575.7 201L575.9 192.9L576.2 206.2L576.5 192L576.7 200.5L577 189.8L577.2 199.5L577.5 185.1L577.7 198.9L578 183.1L578.2 204.3L578.5 192.6L578.8 202.8L579 191L579.3 203.3L579.5 192.7L579.8 205.3L580 183.5L580.3 198.8L580.5 185.2L580.8 196.2L581.1 178L581.3 193.4L581.6 179L581.8 190.2L582.1 181.8L582.3 196.8L582.6 186.3L582.8 205.5L583.1 185.2L583.4 201.4L583.6 182.3L583.9 190.6L584.1 181.1L584.4 196.5L584.6 188.1L584.9 199.5L585.1 187.6L585.4 196.9L585.7 185.2L585.9 197.3L586.2 185.3L586.4 191.2L586.7 182.8L586.9 196.3L587.2 179.8L587.4 195.7L587.7 184.9L588 202L588.2 184.9L588.5 194.4L588.7 175.4L589 191.1L589.2 180.1L589.5 194.3L589.7 184.8L590 198.8L590.3 185.1L590.5 201.4L590.8 186.7L591 204.1L591.3 189.7L591.5 200.2L591.8 192.2L592 205.3L592.3 192.3L592.6 199.1L592.8 183.5L593.1 194.4L593.3 180.1L593.6 197.2L593.8 180.2L594.1 199.8L594.3 183.3L594.6 202.6L594.9 189.6L595.1 202.9L595.4 189.4L595.6 204.3L595.9 191.2L596.1 199L596.4 189L596.6 200.8L596.9 189.6L597.2 197.9L597.4 183.4L597.7 203.9L597.9 189L598.2 199.4L598.4 191.4L598.7 200.9L598.9 188.1L599.2 199.7L599.5 188.6L599.7 195.9L600 184.4L600.2 198.8L600.5 189.2L600.7 201.8L601 186.4L601.2 201.6L601.5 189.9L601.8 203.8L602 190.1L602.3 202.9L602.5 192.4L602.8 204.9L603 189.4L603.3 205.8L603.5 191.6L603.8 202.3L604.1 187.5L604.3 195.6L604.6 187.5L604.8 197.8L605.1 190L605.3 203.4L605.6 193.7L605.8 203.8L606.1 192.7L606.4 203.8L606.6 191L606.9 203.9L607.1 181.1L607.4 196.6L607.6 179.2L607.9 199.8L608.1 187.6L608.4 198L608.7 182.6L608.9 193.5L609.2 183.3L609.4 194.9L609.7 187.9L609.9 210.8L610.2 190.3L610.4 200L610.7 188.4L611 198.3L611.2 186.8L611.5 197L611.7 184.6L612 197.5L612.2 182.9L612.5 195.1L612.7 187.7L613 203.8L613.3 189.1L613.5 202.4L613.8 192.1L614 203.7L614.3 188.1L614.5 194.3L614.8 182.7L615 198.6L615.3 186.3L615.6 200.5L615.8 177.2L616.1 194.7L616.3 178.2L616.6 193.7L616.8 181.6L617.1 195.3L617.3 185.7L617.6 198.4L617.9 182.2L618.1 204.1L618.4 190.3L618.6 208.2L618.9 190.6L619.1 207.3L619.4 196.3L619.6 205.7L619.9 195.4L620.2 205.8L620.4 184.6L620.7 189.5L620.9 177.9L621.2 190.6L621.4 181.8L621.7 198.3L621.9 187.6L622.2 204.8L622.5 190.4" fill="none" stroke="#6fa3b0" stroke-width="1.1" stroke-linejoin="round"/>
<path d="M315.7 228L316 228L316.3 228L316.5 228L316.8 228L317 228L317.3 228L317.5 228L317.8 228L318 228L318.3 228L318.6 228L318.8 228L319.1 228L319.3 228L319.6 228L319.8 228L320.1 228L320.3 228L320.6 228L320.9 228L321.1 228L321.4 228L321.6 228L321.9 228L322.1 228L322.4 228L322.6 228L322.9 228L323.2 228L323.4 228L323.7 228L323.9 228L324.2 228L324.4 228L324.7 228L324.9 228L325.2 228L325.5 228L325.7 228L326 228L326.2 228L326.5 228L326.7 228L327 228L327.2 228L327.5 228L327.8 228L328 228L328.3 228L328.5 228L328.8 228L329 228L329.3 228L329.5 228L329.8 228L330.1 228L330.3 228L330.6 228L330.8 228L331.1 228L331.3 228L331.6 228L331.8 228L332.1 228L332.4 228L332.6 228L332.9 228L333.1 228L333.4 228L333.6 228L333.9 228L334.1 228L334.4 228L334.7 228L334.9 228L335.2 228L335.4 228L335.7 228L335.9 228L336.2 228L336.4 228L336.7 228L337 228L337.2 228L337.5 228L337.7 228L338 228L338.2 228L338.5 228L338.7 228L339 228L339.3 228L339.5 228L339.8 228L340 228L340.3 228L340.5 228L340.8 228L341 228L341.3 228L341.6 228L341.8 228L342.1 228L342.3 228L342.6 228L342.8 228L343.1 228L343.3 228L343.6 228L343.9 228L344.1 228L344.4 228L344.6 228L344.9 228L345.1 228L345.4 228L345.6 228L345.9 228L346.2 228L346.4 228L346.7 228L346.9 228L347.2 228L347.4 228L347.7 228L347.9 228L348.2 228L348.5 228L348.7 228L349 228L349.2 228L349.5 228L349.7 228L350 228L350.2 228L350.5 228L350.8 228L351 228L351.3 228L351.5 228L351.8 228L352 228L352.3 228L352.5 228L352.8 228L353.1 228L353.3 228L353.6 228L353.8 228L354.1 228L354.3 228L354.6 228L354.8 228L355.1 228L355.4 228L355.6 228L355.9 228L356.1 228L356.4 228L356.6 228L356.9 228L357.1 228L357.4 228L357.7 228L357.9 228L358.2 228L358.4 228L358.7 228L358.9 228L359.2 228L359.4 228L359.7 228L360 228L360.2 228L360.5 228L360.7 228L361 228L361.2 228L361.5 228L361.7 228L362 228L362.3 228L362.5 228L362.8 228L363 228L363.3 228L363.5 228L363.8 228L364 228L364.3 228L364.6 228L364.8 228L365.1 228L365.3 228L365.6 228L365.8 228L366.1 228L366.3 228L366.6 228L366.9 228L367.1 228L367.4 228L367.6 228L367.9 228L368.1 228L368.4 228L368.6 228L368.9 228L369.2 228L369.4 228L369.7 228L369.9 228L370.2 228L370.4 228L370.7 228L370.9 228L371.2 228L371.5 228L371.7 228L372 228L372.2 228L372.5 228L372.7 228L373 228L373.2 228L373.5 228L373.8 228L374 228L374.3 228L374.5 228L374.8 228L375 228L375.3 228L375.6 228L375.8 228L376.1 228L376.3 228L376.6 228L376.8 228L377.1 228L377.3 228L377.6 228L377.9 228L378.1 228L378.4 228L378.6 228L378.9 228L379.1 228L379.4 228L379.6 228L379.9 228L380.2 228L380.4 228L380.7 228L380.9 228L381.2 228L381.4 228L381.7 228L381.9 228L382.2 228L382.5 228L382.7 228L383 228L383.2 228L383.5 227.9L383.7 227.9L384 227.9L384.2 227.9L384.5 227.8L384.8 227.8L385 227.8L385.3 227.8L385.5 227.8L385.8 227.7L386 227.7L386.3 227.7L386.5 227.7L386.8 227.7L387.1 227.7L387.3 227.6L387.6 227.6L387.8 227.6L388.1 227.6L388.3 227.5L388.6 227.5L388.8 227.5L389.1 227.5L389.4 227.4L389.6 227.4L389.9 227.4L390.1 227.3L390.4 227.3L390.6 227.2L390.9 227.2L391.1 227.1L391.4 227.1L391.7 226.9L391.9 226.8L392.2 226.7L392.4 226.5L392.7 226.3L392.9 226.1L393.2 226L393.4 225.8L393.7 225.6L394 225.3L394.2 225.1L394.5 224.8L394.7 224.5L395 224.2L395.2 223.8L395.5 223.5L395.7 223.1L396 222.8L396.3 222.5L396.5 222.2L396.8 222L397 221.8L397.3 221.6L397.5 221.4L397.8 221.2L398 221L398.3 220.8L398.6 220.7L398.8 220.5L399.1 220.4L399.3 220.2L399.6 220.1L399.8 220L400.1 219.9L400.3 219.7L400.6 219.6L400.9 219.5L401.1 219.4L401.4 219.3L401.6 219.2L401.9 219.1L402.1 219L402.4 219L402.6 218.9L402.9 218.8L403.2 218.7L403.4 218.6L403.7 218.5L403.9 218.5L404.2 218.4L404.4 218.3L404.7 218.2L404.9 218.1L405.2 218.1L405.5 218L405.7 217.9L406 217.8L406.2 217.7L406.5 217.6L406.7 217.6L407 217.5L407.2 217.4L407.5 217.3L407.8 217.2L408 217.1L408.3 217L408.5 216.9L408.8 216.9L409 216.8L409.3 216.7L409.5 216.6L409.8 216.5L410.1 216.4L410.3 216.3L410.6 216.3L410.8 216.2L411.1 216.1L411.3 216L411.6 215.9L411.8 215.8L412.1 215.7L412.4 215.6L412.6 215.5L412.9 215.5L413.1 215.4L413.4 215.3L413.6 215.2L413.9 215.1L414.1 215L414.4 214.9L414.7 214.8L414.9 214.7L415.2 214.6L415.4 214.5L415.7 214.4L415.9 214.3L416.2 214.2L416.4 214.1L416.7 214L417 213.8L417.2 213.7L417.5 213.6L417.7 213.5L418 213.4L418.2 213.3L418.5 213.1L418.7 213L419 212.9L419.3 212.7L419.5 212.6L419.8 212.5L420 212.3L420.3 212.2L420.5 212L420.8 211.8L421 211.7L421.3 211.5L421.6 211.3L421.8 211.1L422.1 210.9L422.3 210.7L422.6 210.5L422.8 210.3L423.1 210.1L423.3 209.8L423.6 209.6L423.9 209.3L424.1 209L424.4 208.7L424.6 208.4L424.9 208L425.1 207.6L425.4 207.2L425.6 206.7L425.9 206.2L426.2 205.6L426.4 205.1L426.7 204.4L426.9 203.7L427.2 203L427.4 202.2L427.7 201.1L427.9 200L428.2 198.7L428.5 197.2L428.7 195.5L429 193.5L429.2 191.1L429.5 188.4L429.7 185.7L430 183L430.2 180.2L430.5 177.1L430.8 174L431 171.1L431.3 168.9L431.5 167.2L431.8 165.7L432 164.5L432.3 163.8L432.5 163.4L432.8 163.1L433.1 162.9L433.3 162.8L433.6 163.1L433.8 163.9L434.1 164.8L434.3 165.8L434.6 166.8L434.8 168L435.1 169.3L435.4 170.7L435.6 172L435.9 173.2L436.1 174.3L436.4 175.5L436.6 176.6L436.9 177.7L437.2 178.7L437.4 179.7L437.7 180.6L437.9 181.4L438.2 182.1L438.4 182.7L438.7 183.4L438.9 184L439.2 184.5L439.5 185.1L439.7 185.6L440 186L440.2 186.4L440.5 186.8L440.7 187.1L441 187.4L441.2 187.6L441.5 187.9L441.8 188.1L442 188.3L442.3 188.5L442.5 188.7L442.8 188.9L443 189L443.3 189.1L443.5 189.2L443.8 189.2L444.1 189.2L444.3 189.2L444.6 189.1L444.8 189.1L445.1 189L445.3 188.9L445.6 188.7L445.8 188.6L446.1 188.4L446.4 188.3L446.6 188.1L446.9 187.9L447.1 187.7L447.4 187.4L447.6 187L447.9 186.6L448.1 186.1L448.4 185.5L448.7 184.9L448.9 184.3L449.2 183.6L449.4 182.7L449.7 181.8L449.9 180.6L450.2 179.4L450.4 178.1L450.7 176.8L451 175.4L451.2 174L451.5 172.4L451.7 170.7L452 168.9L452.2 167L452.5 165.2L452.7 163.5L453 161.8L453.3 160.2L453.5 158.4L453.8 156.5L454 154.1L454.3 151.2L454.5 147.6L454.8 143.5L455 139.1L455.3 134.7L455.6 130.3L455.8 125.7L456.1 120.8L456.3 115.8L456.6 110.8L456.8 105.8L457.1 101.1L457.3 96.2L457.6 91.2L457.9 86.5L458.1 82.4L458.4 79.1L458.6 76.2L458.9 73.6L459.1 71.3L459.4 69.6L459.6 68.5L459.9 67.5L460.2 66.6L460.4 66.1L460.7 66L460.9 66.6L461.2 67.8L461.4 69.4L461.7 71.2L461.9 73L462.2 75.1L462.5 77.7L462.7 80.5L463 83.2L463.2 85.5L463.5 87.2L463.7 88.7L464 90.2L464.2 91.5L464.5 92.8L464.8 93.9L465 94.9L465.3 95.9L465.5 96.8L465.8 97.5L466 98.3L466.3 99L466.5 99.6L466.8 100.2L467.1 100.7L467.3 101.2L467.6 101.5L467.8 101.8L468.1 102.1L468.3 102.3L468.6 102.5L468.8 102.7L469.1 102.7L469.4 102.7L469.6 102.5L469.9 102.3L470.1 102.1L470.4 101.8L470.6 101.5L470.9 101.2L471.1 100.7L471.4 100.2L471.7 99.6L471.9 99L472.2 98.3L472.4 97.5L472.7 96.8L472.9 95.9L473.2 94.9L473.4 93.9L473.7 92.8L474 91.5L474.2 90.2L474.5 88.7L474.7 87.2L475 85.5L475.2 83.2L475.5 80.5L475.7 77.7L476 75.1L476.3 73L476.5 71.2L476.8 69.4L477 67.8L477.3 66.6L477.5 66L477.8 66.1L478 66.6L478.3 67.5L478.6 68.5L478.8 69.6L479.1 71.3L479.3 73.6L479.6 76.2L479.8 79.1L480.1 82.4L480.3 86.5L480.6 91.2L480.9 96.2L481.1 101.1L481.4 105.8L481.6 110.8L481.9 115.8L482.1 120.8L482.4 125.7L482.6 130.3L482.9 134.7L483.2 139.1L483.4 143.5L483.7 147.6L483.9 151.2L484.2 154.1L484.4 156.5L484.7 158.4L484.9 160.2L485.2 161.8L485.5 163.5L485.7 165.2L486 167L486.2 168.9L486.5 170.7L486.7 172.4L487 174L487.2 175.4L487.5 176.8L487.8 178.1L488 179.4L488.3 180.6L488.5 181.8L488.8 182.7L489 183.6L489.3 184.3L489.5 184.9L489.8 185.5L490.1 186.1L490.3 186.6L490.6 187L490.8 187.4L491.1 187.7L491.3 187.9L491.6 188.1L491.8 188.3L492.1 188.4L492.4 188.6L492.6 188.7L492.9 188.9L493.1 189L493.4 189.1L493.6 189.1L493.9 189.2L494.1 189.2L494.4 189.2L494.7 189.2L494.9 189.1L495.2 189L495.4 188.9L495.7 188.7L495.9 188.5L496.2 188.3L496.4 188.1L496.7 187.9L497 187.6L497.2 187.4L497.5 187.1L497.7 186.8L498 186.4L498.2 186L498.5 185.6L498.7 185.1L499 184.5L499.3 184L499.5 183.4L499.8 182.7L500 182.1L500.3 181.4L500.5 180.6L500.8 179.7L501.1 178.7L501.3 177.7L501.6 176.6L501.8 175.5L502.1 174.3L502.3 173.2L502.6 172L502.8 170.7L503.1 169.3L503.4 168L503.6 166.8L503.9 165.8L504.1 164.8L504.4 163.9L504.6 163.1L504.9 162.8L505.1 162.9L505.4 163.1L505.7 163.4L505.9 163.8L506.2 164.5L506.4 165.7L506.7 167.2L506.9 168.9L507.2 171.1L507.4 174L507.7 177.1L508 180.2L508.2 183L508.5 185.7L508.7 188.4L509 191.1L509.2 193.5L509.5 195.5L509.7 197.2L510 198.7L510.3 200L510.5 201.1L510.8 202.2L511 203L511.3 203.7L511.5 204.4L511.8 205.1L512 205.6L512.3 206.2L512.6 206.7L512.8 207.2L513.1 207.6L513.3 208L513.6 208.4L513.8 208.7L514.1 209L514.3 209.3L514.6 209.6L514.9 209.8L515.1 210.1L515.4 210.3L515.6 210.5L515.9 210.7L516.1 210.9L516.4 211.1L516.6 211.3L516.9 211.5L517.2 211.7L517.4 211.8L517.7 212L517.9 212.2L518.2 212.3L518.4 212.5L518.7 212.6L518.9 212.7L519.2 212.9L519.5 213L519.7 213.1L520 213.3L520.2 213.4L520.5 213.5L520.7 213.6L521 213.7L521.2 213.8L521.5 214L521.8 214.1L522 214.2L522.3 214.3L522.5 214.4L522.8 214.5L523 214.6L523.3 214.7L523.5 214.8L523.8 214.9L524.1 215L524.3 215.1L524.6 215.2L524.8 215.3L525.1 215.4L525.3 215.5L525.6 215.5L525.8 215.6L526.1 215.7L526.4 215.8L526.6 215.9L526.9 216L527.1 216.1L527.4 216.2L527.6 216.3L527.9 216.3L528.1 216.4L528.4 216.5L528.7 216.6L528.9 216.7L529.2 216.8L529.4 216.9L529.7 216.9L529.9 217L530.2 217.1L530.4 217.2L530.7 217.3L531 217.4L531.2 217.5L531.5 217.6L531.7 217.6L532 217.7L532.2 217.8L532.5 217.9L532.7 218L533 218.1L533.3 218.1L533.5 218.2L533.8 218.3L534 218.4L534.3 218.5L534.5 218.5L534.8 218.6L535 218.7L535.3 218.8L535.6 218.9L535.8 219L536.1 219L536.3 219.1L536.6 219.2L536.8 219.3L537.1 219.4L537.3 219.5L537.6 219.6L537.9 219.7L538.1 219.9L538.4 220L538.6 220.1L538.9 220.2L539.1 220.4L539.4 220.5L539.6 220.7L539.9 220.8L540.2 221L540.4 221.2L540.7 221.4L540.9 221.6L541.2 221.8L541.4 222L541.7 222.2L541.9 222.5L542.2 222.8L542.5 223.1L542.7 223.5L543 223.8L543.2 224.2L543.5 224.5L543.7 224.8L544 225.1L544.2 225.3L544.5 225.6L544.8 225.8L545 226L545.3 226.1L545.5 226.3L545.8 226.5L546 226.7L546.3 226.8L546.5 226.9L546.8 227.1L547.1 227.1L547.3 227.2L547.6 227.2L547.8 227.3L548.1 227.3L548.3 227.4L548.6 227.4L548.8 227.4L549.1 227.5L549.4 227.5L549.6 227.5L549.9 227.5L550.1 227.6L550.4 227.6L550.6 227.6L550.9 227.6L551.1 227.7L551.4 227.7L551.7 227.7L551.9 227.7L552.2 227.7L552.4 227.7L552.7 227.8L552.9 227.8L553.2 227.8L553.4 227.8L553.7 227.8L554 227.9L554.2 227.9L554.5 227.9L554.7 227.9L555 228L555.2 228L555.5 228L555.7 228L556 228L556.3 228L556.5 228L556.8 228L557 228L557.3 228L557.5 228L557.8 228L558 228L558.3 228L558.6 228L558.8 228L559.1 228L559.3 228L559.6 228L559.8 228L560.1 228L560.3 228L560.6 228L560.9 228L561.1 228L561.4 228L561.6 228L561.9 228L562.1 228L562.4 228L562.6 228L562.9 228L563.2 228L563.4 228L563.7 228L563.9 228L564.2 228L564.4 228L564.7 228L565 228L565.2 228L565.5 228L565.7 228L566 228L566.2 228L566.5 228L566.7 228L567 228L567.3 228L567.5 228L567.8 228L568 228L568.3 228L568.5 228L568.8 228L569 228L569.3 228L569.6 228L569.8 228L570.1 228L570.3 228L570.6 228L570.8 228L571.1 228L571.3 228L571.6 228L571.9 228L572.1 228L572.4 228L572.6 228L572.9 228L573.1 228L573.4 228L573.6 228L573.9 228L574.2 228L574.4 228L574.7 228L574.9 228L575.2 228L575.4 228L575.7 228L575.9 228L576.2 228L576.5 228L576.7 228L577 228L577.2 228L577.5 228L577.7 228L578 228L578.2 228L578.5 228L578.8 228L579 228L579.3 228L579.5 228L579.8 228L580 228L580.3 228L580.5 228L580.8 228L581.1 228L581.3 228L581.6 228L581.8 228L582.1 228L582.3 228L582.6 228L582.8 228L583.1 228L583.4 228L583.6 228L583.9 228L584.1 228L584.4 228L584.6 228L584.9 228L585.1 228L585.4 228L585.7 228L585.9 228L586.2 228L586.4 228L586.7 228L586.9 228L587.2 228L587.4 228L587.7 228L588 228L588.2 228L588.5 228L588.7 228L589 228L589.2 228L589.5 228L589.7 228L590 228L590.3 228L590.5 228L590.8 228L591 228L591.3 228L591.5 228L591.8 228L592 228L592.3 228L592.6 228L592.8 228L593.1 228L593.3 228L593.6 228L593.8 228L594.1 228L594.3 228L594.6 228L594.9 228L595.1 228L595.4 228L595.6 228L595.9 228L596.1 228L596.4 228L596.6 228L596.9 228L597.2 228L597.4 228L597.7 228L597.9 228L598.2 228L598.4 228L598.7 228L598.9 228L599.2 228L599.5 228L599.7 228L600 228L600.2 228L600.5 228L600.7 228L601 228L601.2 228L601.5 228L601.8 228L602 228L602.3 228L602.5 228L602.8 228L603 228L603.3 228L603.5 228L603.8 228L604.1 228L604.3 228L604.6 228L604.8 228L605.1 228L605.3 228L605.6 228L605.8 228L606.1 228L606.4 228L606.6 228L606.9 228L607.1 228L607.4 228L607.6 228L607.9 228L608.1 228L608.4 228L608.7 228L608.9 228L609.2 228L609.4 228L609.7 228L609.9 228L610.2 228L610.4 228L610.7 228L611 228L611.2 228L611.5 228L611.7 228L612 228L612.2 228L612.5 228L612.7 228L613 228L613.3 228L613.5 228L613.8 228L614 228L614.3 228L614.5 228L614.8 228L615 228L615.3 228L615.6 228L615.8 228L616.1 228L616.3 228L616.6 228L616.8 228L617.1 228L617.3 228L617.6 228L617.9 228L618.1 228L618.4 228L618.6 228L618.9 228L619.1 228L619.4 228L619.6 228L619.9 228L620.2 228L620.4 228L620.7 228L620.9 228L621.2 228L621.4 228L621.7 228L621.9 228L622.2 228L622.5 228" fill="none" stroke="#ff6a00" stroke-width="1.7" stroke-linejoin="round"/>
<path d="M315.7 248L316.3 248L316.8 248L317.3 248L317.8 248L318.3 248L318.8 248L319.3 248L319.8 248L320.3 248L320.9 248L321.4 248L321.9 248L322.4 248L322.9 248L323.4 248L323.9 248L324.4 248L324.9 248L325.5 248L326 248L326.5 248L327 248L327.5 248L328 248L328.5 248L329 248L329.5 248L330.1 248L330.6 248L331.1 248L331.6 248L332.1 248L332.6 248L333.1 248L333.6 248L334.1 248L334.7 248L335.2 248L335.7 248L336.2 248L336.7 248L337.2 248L337.7 248L338.2 248L338.7 248L339.3 248L339.8 248L340.3 248L340.8 248L341.3 248L341.8 248L342.3 248L342.8 248L343.3 248L343.9 248L344.4 248L344.9 248L345.4 248L345.9 248L346.4 248L346.9 248L347.4 248L347.9 248L348.5 248L349 248L349.5 248L350 248L350.5 248L351 248L351.5 248L352 248L352.5 248L353.1 248L353.6 248L354.1 248L354.6 248L355.1 248L355.6 248L356.1 248L356.6 248L357.1 248L357.7 248L358.2 248L358.7 248L359.2 248L359.7 248L360.2 248L360.7 248L361.2 248L361.7 248L362.3 248L362.8 248L363.3 248L363.8 248L364.3 248L364.8 248L365.3 248L365.8 248L366.3 248L366.9 248L367.4 248L367.9 248L368.4 248L368.9 248L369.4 248L369.9 248L370.4 248L370.9 248L371.5 248L372 248L372.5 248L373 248L373.5 248L374 248L374.5 248L375 248L375.6 248L376.1 248L376.6 248L377.1 248L377.6 248L378.1 248L378.6 248L379.1 248L379.6 248L380.2 248L380.7 248L381.2 248L381.7 248L382.2 248L382.7 248L383.2 248L383.7 248L384.2 248L384.8 248L385.3 248L385.8 248L386.3 248L386.8 248L387.3 248L387.8 248L388.3 248L388.8 248L389.4 248L389.9 248L390.4 248L390.9 248L391.4 248L391.9 248L392.4 248L392.9 248L393.4 248L394 248L394.5 248L395 248L395.5 248L396 248L396 246.8L396.5 246.8L397 246.8L397.5 246.8L398 246.8L398.6 246.8L399.1 246.8L399.6 246.8L400.1 246.8L400.6 246.8L401.1 246.8L401.6 246.8L402.1 246.8L402.6 246.8L403.2 246.8L403.7 246.8L404.2 246.8L404.7 246.7L405.2 246.7L405.7 246.7L406.2 246.7L406.7 246.7L407.2 246.7L407.8 246.7L408.3 246.7L408.8 246.7L409.3 246.7L409.8 246.7L410.3 246.7L410.8 246.7L411.3 246.7L411.8 246.7L412.4 246.7L412.9 246.7L413.4 246.7L413.9 246.7L414.4 246.7L414.9 246.7L415.4 246.7L415.9 246.7L416.4 246.7L417 246.7L417.5 246.7L418 246.7L418.5 246.7L419 246.7L419.5 246.6L420 246.6L420.5 246.6L421 246.6L421.6 246.6L422.1 246.6L422.6 246.6L423.1 246.6L423.6 246.6L424.1 246.6L424.6 246.6L425.1 246.6L425.6 246.6L426.2 246.6L426.7 246.6L427.2 246.6L427.7 246.6L428.2 246.6L428.3 246.6L428.4 246.6L428.5 246.6L428.6 246.6L428.7 246.6L428.8 246.6L428.9 246.6L429 246.6L429.1 246.6L429.2 246.6L429.3 246.6L429.4 246.6L429.5 246.6L429.6 246.6L429.7 246.6L429.8 246.6L429.9 246.6L430 246.6L430.1 246.6L430.2 246.6L430.3 246.6L430.4 246.6L430.5 246.6L430.6 246.6L430.6 246.5L430.7 246.5L430.8 246.5L430.9 246.5L431 246.5L431.1 246.5L431.2 246.5L431.3 246.5L431.4 246.5L431.5 246.5L431.6 246.5L431.7 246.5L431.8 246.5L431.9 246.5L432 246.5L432.1 246.5L432.2 246.5L432.3 246.5L432.4 246.5L432.5 246.5L432.5 177.5L432.6 206.2L432.7 215.2L432.7 220L432.8 223.1L432.9 225.4L432.9 227.1L433 228.4L433.1 229.5L433.1 230.4L433.2 231.2L433.3 231.9L433.3 232.5L433.4 233L433.4 233.5L433.5 233.9L433.6 234.3L433.6 234.6L433.7 235L433.8 235.3L433.8 235.5L433.9 235.8L434 236L434 236.3L434.1 236.5L434.1 236.7L434.2 236.9L434.3 237L434.3 237.2L434.4 237.4L434.5 237.5L434.5 237.7L434.6 237.8L434.7 237.9L434.7 238L434.8 238.2L434.8 238.3L434.9 238.4L435 238.5L435 238.6L435.1 238.7L435.2 238.8L435.2 238.9L435.3 239L435.4 239.1L435.5 239.2L435.6 239.3L435.6 239.4L435.7 239.4L435.7 239.5L435.8 239.6L435.9 239.6L435.9 239.7L436 239.8L436.1 239.8L436.1 239.9L436.2 239.9L436.3 240L436.4 240.1L436.4 240.2L436.5 240.2L436.6 240.3L436.7 240.3L436.8 240.4L436.9 240.5L437 240.5L437 240.6L437.1 240.6L437.2 240.6L437.2 240.7L437.3 240.7L437.3 240.8L437.4 240.8L437.5 240.8L437.5 240.9L437.6 240.9L437.7 240.9L437.7 241L437.8 241L437.9 241L437.9 241.1L438 241.1L438.1 241.2L438.2 241.2L438.3 241.2L438.4 241.3L438.5 241.3L438.6 241.4L438.7 241.4L438.8 241.5L438.9 241.5L439 241.5L439.1 241.6L439.2 241.6L439.3 241.6L439.4 241.7L439.5 241.7L439.6 241.7L439.7 241.8L439.8 241.8L439.9 241.8L440 241.8L440 241.9L440.1 241.9L440.2 241.9L440.3 241.9L440.3 242L440.4 242L440.5 242L440.6 242L440.7 242L440.7 242.1L440.8 242.1L440.9 242.1L441 242.1L441.1 242.2L441.2 242.2L441.3 242.2L441.4 242.2L441.5 242.2L441.6 242.3L441.7 242.3L441.8 242.3L441.9 242.3L442 242.3L442.1 242.4L442.2 242.4L442.3 242.4L442.4 242.4L442.5 242.4L442.6 242.5L442.7 242.5L442.8 242.5L442.9 242.5L443 242.5L443.1 242.5L443.2 242.6L443.3 242.6L443.4 242.6L443.5 242.6L443.6 242.6L443.7 242.6L443.7 242.7L443.8 242.7L443.9 242.7L444 242.7L444.1 242.7L444.2 242.7L444.3 242.7L444.4 242.7L444.4 242.8L444.5 242.8L444.6 242.8L444.7 242.8L444.8 242.8L444.9 242.8L445 242.8L445.1 242.8L445.2 242.9L445.3 242.9L445.4 242.9L445.5 242.9L445.6 242.9L445.7 242.9L445.8 242.9L445.9 242.9L446 242.9L446 243L446.1 243L446.2 243L446.3 243L446.4 243L446.5 243L446.6 243L446.7 243L446.8 243L446.9 243L446.9 243.1L447 243.1L447.1 243.1L447.2 243.1L447.3 243.1L447.4 243.1L447.5 243.1L447.6 243.1L447.7 243.1L447.8 243.1L447.9 243.1L448 243.2L448.1 243.2L448.2 243.2L448.3 243.2L448.4 243.2L448.5 243.2L448.6 243.2L448.7 243.2L448.8 243.2L448.9 243.2L449 243.2L449.1 243.2L449.2 243.2L449.2 243.3L449.3 243.3L449.4 243.3L449.5 243.3L449.6 243.3L449.7 243.3L449.8 243.3L449.9 243.3L450 243.3L450.1 243.3L450.2 243.3L450.3 243.3L450.4 243.3L450.5 243.3L450.6 243.3L450.6 243.4L450.7 243.4L450.8 243.4L450.9 243.4L451 243.4L451.1 243.4L451.2 243.4L451.3 243.4L451.4 243.4L451.5 243.4L451.6 243.4L451.7 243.4L451.8 243.4L451.9 243.4L452 243.4L452.1 243.4L452.2 243.4L452.2 243.5L452.3 243.5L452.4 243.5L452.5 243.5L452.6 243.5L452.7 243.5L452.8 243.5L452.9 243.5L453 243.5L453.1 243.5L453.2 243.5L453.3 243.5L453.4 243.5L453.5 243.5L453.6 243.5L453.7 243.5L453.8 243.5L453.9 243.5L454 243.5L454.1 243.5L454.2 243.6L454.3 243.6L454.4 243.6L454.5 243.6L454.6 243.6L454.7 243.6L454.8 243.6L454.9 243.6L455 243.6L455.1 243.6L455.2 243.6L455.3 243.6L455.4 243.6L455.5 243.6L455.6 243.6L455.7 243.6L455.8 243.6L455.9 243.6L456 243.6L456.1 243.6L456.2 243.6L456.3 243.6L456.4 243.6L456.5 243.6L456.6 243.6L456.7 243.6L456.8 243.7L456.9 243.7L457 243.7L457.1 243.7L457.2 243.7L457.3 243.7L457.4 243.7L457.5 243.7L457.6 243.7L457.7 243.7L457.8 243.7L457.9 243.7L458 243.7L458.1 243.7L458.2 243.7L458.3 243.7L458.4 243.7L458.5 243.7L458.6 243.7L458.7 243.7L458.8 243.7L458.9 243.7L459 243.7L459.1 243.7L459.2 243.7L459.3 243.7L459.4 243.7L459.5 243.7L459.6 243.7L459.7 243.7L459.8 243.7L459.9 243.7L460 243.7L460.1 243.7L460.2 243.7L460.3 243.8L460.4 243.8L460.5 243.8L460.6 243.8L460.7 243.8L460.8 243.8L460.9 243.8L461 243.8L461.1 243.8L461.2 243.8L461.3 243.8L461.4 243.8L461.5 243.8L461.6 243.8L461.7 243.8L461.8 243.8L461.9 243.8L462 243.8L462.1 243.8L462.2 243.8L462.3 243.8L462.4 243.8L462.5 243.8L462.6 243.8L462.7 243.8L462.8 243.8L462.9 243.8L463 243.8L463.1 243.8L463.2 243.8L463.3 243.8L463.4 243.8L463.5 243.8L463.6 243.8L463.7 243.8L463.8 243.8L463.9 243.8L464 243.8L464.1 243.8L464.2 243.8L464.3 243.8L464.4 243.8L464.5 243.8L464.6 243.8L464.7 243.8L464.8 243.8L464.9 243.8L465 243.8L465.1 243.8L465.2 243.8L465.3 243.8L465.4 243.8L465.5 243.8L465.6 243.8L465.7 243.8L465.8 243.8L465.9 243.8L466 243.8L466.1 243.8L466.2 243.8L466.3 243.8L466.4 243.8L466.5 243.8L466.6 243.8L466.7 243.8L466.8 243.8L466.9 243.8L467 243.8L467.1 243.8L467.2 243.8L467.3 243.8L467.4 243.8L467.5 243.8L467.6 243.8L467.7 243.8L467.8 243.8L467.9 243.8L468 243.8L468.1 243.8L468.2 243.8L468.3 243.8L468.4 243.8L468.5 243.8L468.6 243.8L468.7 243.8L468.8 243.8L468.9 243.8L469 243.8L469.1 243.8L469.2 243.8L469.3 243.8L469.4 243.8L469.5 243.8L469.6 243.8L469.7 243.8L469.8 243.8L469.9 243.8L470 243.8L470.1 243.8L470.2 243.8L470.3 243.8L470.4 243.8L470.5 243.8L470.6 243.8L470.7 243.8L470.8 243.8L470.9 243.8L471 243.8L471.1 243.8L471.2 243.8L471.3 243.8L471.4 243.8L471.5 243.8L471.6 243.8L471.7 243.8L471.8 243.8L471.9 243.8L472 243.8L472.1 243.8L472.2 243.8L472.3 243.8L472.4 243.8L472.5 243.8L472.6 243.8L472.7 243.8L472.8 243.8L472.9 243.8L473 243.8L473.1 243.8L473.2 243.8L473.3 243.8L473.4 243.8L473.5 243.8L473.6 243.8L473.7 243.8L473.8 243.8L473.9 243.8L474 243.8L474.1 243.8L474.2 243.8L474.3 243.8L474.4 243.8L474.5 243.8L474.6 243.8L474.7 243.8L474.8 243.8L474.9 243.8L475 243.8L475.1 243.8L475.2 243.8L475.3 243.8L475.4 243.8L475.5 243.8L475.6 243.8L475.7 243.8L475.8 243.8L475.9 243.8L476 243.8L476.1 243.8L476.2 243.8L476.3 243.8L476.4 243.8L476.5 243.8L476.6 243.8L476.7 243.8L476.8 243.8L476.9 243.8L477 243.8L477.1 243.8L477.2 243.8L477.3 243.8L477.4 243.8L477.5 243.8L477.6 243.8L477.7 243.8L477.8 243.8L477.9 243.8L478 243.7L478.1 243.7L478.2 243.7L478.3 243.7L478.4 243.7L478.5 243.7L478.6 243.7L478.7 243.7L478.8 243.7L478.9 243.7L479 243.7L479.1 243.7L479.2 243.7L479.3 243.7L479.4 243.7L479.5 243.7L479.6 243.7L479.7 243.7L479.8 243.7L479.9 243.7L480 243.7L480.1 243.7L480.2 243.7L480.3 243.7L480.4 243.7L480.5 243.7L480.6 243.7L480.7 243.7L480.8 243.7L480.9 243.7L481 243.7L481.1 243.7L481.2 243.7L481.3 243.7L481.4 243.7L481.5 243.6L481.6 243.6L481.7 243.6L481.8 243.6L481.9 243.6L482 243.6L482.1 243.6L482.2 243.6L482.3 243.6L482.4 243.6L482.5 243.6L482.6 243.6L482.7 243.6L482.8 243.6L482.9 243.6L483 243.6L483.1 243.6L483.2 243.6L483.3 243.6L483.4 243.6L483.5 243.6L483.6 243.6L483.7 243.6L483.8 243.6L483.9 243.6L484 243.6L484.1 243.5L484.2 243.5L484.3 243.5L484.4 243.5L484.5 243.5L484.6 243.5L484.7 243.5L484.8 243.5L484.9 243.5L485 243.5L485.1 243.5L485.2 243.5L485.3 243.5L485.4 243.5L485.5 243.5L485.6 243.5L485.7 243.5L485.8 243.5L485.9 243.5L486 243.5L486 243.4L486.1 243.4L486.2 243.4L486.3 243.4L486.4 243.4L486.5 243.4L486.6 243.4L486.7 243.4L486.8 243.4L486.9 243.4L487 243.4L487.1 243.4L487.2 243.4L487.3 243.4L487.4 243.4L487.5 243.4L487.6 243.4L487.6 243.3L487.7 243.3L487.8 243.3L487.9 243.3L488 243.3L488.1 243.3L488.2 243.3L488.3 243.3L488.4 243.3L488.5 243.3L488.6 243.3L488.7 243.3L488.8 243.3L488.9 243.3L489 243.3L489 243.2L489.1 243.2L489.2 243.2L489.3 243.2L489.4 243.2L489.5 243.2L489.6 243.2L489.7 243.2L489.8 243.2L489.9 243.2L490 243.2L490.1 243.2L490.2 243.2L490.3 243.1L490.4 243.1L490.5 243.1L490.6 243.1L490.7 243.1L490.8 243.1L490.9 243.1L491 243.1L491.1 243.1L491.2 243.1L491.3 243.1L491.3 243L491.4 243L491.5 243L491.6 243L491.7 243L491.8 243L491.9 243L492 243L492.1 243L492.2 243L492.2 242.9L492.3 242.9L492.4 242.9L492.5 242.9L492.6 242.9L492.7 242.9L492.8 242.9L492.9 242.9L493 242.9L493.1 242.8L493.2 242.8L493.3 242.8L493.4 242.8L493.5 242.8L493.6 242.8L493.7 242.8L493.8 242.8L493.8 242.7L493.9 242.7L494 242.7L494.1 242.7L494.2 242.7L494.3 242.7L494.4 242.7L494.5 242.7L494.5 242.6L494.6 242.6L494.7 242.6L494.8 242.6L494.9 242.6L495 242.6L495.1 242.5L495.2 242.5L495.3 242.5L495.4 242.5L495.5 242.5L495.6 242.5L495.7 242.4L495.8 242.4L495.9 242.4L496 242.4L496.1 242.4L496.2 242.3L496.3 242.3L496.4 242.3L496.5 242.3L496.6 242.3L496.7 242.2L496.8 242.2L496.9 242.2L497 242.2L497.1 242.2L497.2 242.1L497.3 242.1L497.4 242.1L497.5 242.1L497.5 242L497.6 242L497.7 242L497.8 242L497.9 242L497.9 241.9L498 241.9L498.1 241.9L498.2 241.9L498.2 241.8L498.3 241.8L498.4 241.8L498.5 241.8L498.6 241.7L498.7 241.7L498.8 241.7L498.9 241.6L499 241.6L499.1 241.6L499.2 241.5L499.3 241.5L499.4 241.5L499.5 241.4L499.6 241.4L499.7 241.3L499.8 241.3L499.9 241.2L500 241.2L500.1 241.2L500.2 241.1L500.3 241.1L500.3 241L500.4 241L500.5 241L500.5 240.9L500.6 240.9L500.7 240.9L500.7 240.8L500.8 240.8L500.9 240.8L500.9 240.7L501 240.7L501.1 240.6L501.2 240.6L501.2 240.5L501.3 240.5L501.4 240.4L501.5 240.3L501.6 240.3L501.7 240.2L501.8 240.2L501.8 240.1L501.9 240L502 239.9L502.1 239.9L502.1 239.8L502.2 239.8L502.3 239.7L502.3 239.6L502.4 239.6L502.5 239.5L502.5 239.4L502.6 239.4L502.6 239.3L502.7 239.2L502.8 239.1L502.9 239L503 238.9L503 238.8L503.1 238.7L503.2 238.6L503.2 238.5L503.3 238.4L503.4 238.3L503.4 238.2L503.5 238L503.5 237.9L503.6 237.8L503.7 237.7L503.7 237.5L503.8 237.4L503.9 237.2L503.9 237L504 236.9L504.1 236.7L504.1 236.5L504.2 236.3L504.2 236L504.3 235.8L504.4 235.5L504.4 235.3L504.5 235L504.6 234.6L504.6 234.3L504.7 233.9L504.8 233.5L504.8 233L504.9 232.5L504.9 231.9L505 231.2L505.1 230.4L505.1 229.5L505.2 228.4L505.3 227.1L505.3 225.4L505.4 223.1L505.5 220L505.5 215.2L505.6 206.2L505.7 177.5L505.7 246.5L505.8 246.5L505.9 246.5L506 246.5L506.1 246.5L506.2 246.5L506.3 246.5L506.4 246.5L506.5 246.5L506.6 246.5L506.7 246.5L506.8 246.5L506.9 246.5L507 246.5L507.1 246.5L507.2 246.5L507.3 246.5L507.4 246.5L507.5 246.5L507.6 246.5L507.6 246.6L507.7 246.6L507.8 246.6L507.9 246.6L508 246.6L508.1 246.6L508.2 246.6L508.3 246.6L508.4 246.6L508.5 246.6L508.6 246.6L508.7 246.6L508.8 246.6L508.9 246.6L509 246.6L509.1 246.6L509.2 246.6L509.3 246.6L509.4 246.6L509.5 246.6L509.6 246.6L509.7 246.6L509.8 246.6L509.9 246.6L510 246.6L510.5 246.6L511 246.6L511.5 246.6L512 246.6L512.6 246.6L513.1 246.6L513.6 246.6L514.1 246.6L514.6 246.6L515.1 246.6L515.6 246.6L516.1 246.6L516.6 246.6L517.2 246.6L517.7 246.6L518.2 246.6L518.7 246.6L519.2 246.7L519.7 246.7L520.2 246.7L520.7 246.7L521.2 246.7L521.8 246.7L522.3 246.7L522.8 246.7L523.3 246.7L523.8 246.7L524.3 246.7L524.8 246.7L525.3 246.7L525.8 246.7L526.4 246.7L526.9 246.7L527.4 246.7L527.9 246.7L528.4 246.7L528.9 246.7L529.4 246.7L529.9 246.7L530.4 246.7L531 246.7L531.5 246.7L532 246.7L532.5 246.7L533 246.7L533.5 246.7L534 246.8L534.5 246.8L535 246.8L535.6 246.8L536.1 246.8L536.6 246.8L537.1 246.8L537.6 246.8L538.1 246.8L538.6 246.8L539.1 246.8L539.6 246.8L540.2 246.8L540.7 246.8L541.2 246.8L541.7 246.8L542.2 246.8L542.2 248L542.7 248L543.2 248L543.7 248L544.2 248L544.8 248L545.3 248L545.8 248L546.3 248L546.8 248L547.3 248L547.8 248L548.3 248L548.8 248L549.4 248L549.9 248L550.4 248L550.9 248L551.4 248L551.9 248L552.4 248L552.9 248L553.4 248L554 248L554.5 248L555 248L555.5 248L556 248L556.5 248L557 248L557.5 248L558 248L558.6 248L559.1 248L559.6 248L560.1 248L560.6 248L561.1 248L561.6 248L562.1 248L562.6 248L563.2 248L563.7 248L564.2 248L564.7 248L565.2 248L565.7 248L566.2 248L566.7 248L567.3 248L567.8 248L568.3 248L568.8 248L569.3 248L569.8 248L570.3 248L570.8 248L571.3 248L571.9 248L572.4 248L572.9 248L573.4 248L573.9 248L574.4 248L574.9 248L575.4 248L575.9 248L576.5 248L577 248L577.5 248L578 248L578.5 248L579 248L579.5 248L580 248L580.5 248L581.1 248L581.6 248L582.1 248L582.6 248L583.1 248L583.6 248L584.1 248L584.6 248L585.1 248L585.7 248L586.2 248L586.7 248L587.2 248L587.7 248L588.2 248L588.7 248L589.2 248L589.7 248L590.3 248L590.8 248L591.3 248L591.8 248L592.3 248L592.8 248L593.3 248L593.8 248L594.3 248L594.9 248L595.4 248L595.9 248L596.4 248L596.9 248L597.4 248L597.9 248L598.4 248L598.9 248L599.5 248L600 248L600.5 248L601 248L601.5 248L602 248L602.5 248L603 248L603.5 248L604.1 248L604.6 248L605.1 248L605.6 248L606.1 248L606.6 248L607.1 248L607.6 248L608.1 248L608.7 248L609.2 248L609.7 248L610.2 248L610.7 248L611.2 248L611.7 248L612.2 248L612.7 248L613.3 248L613.8 248L614.3 248L614.8 248L615.3 248L615.8 248L616.3 248L616.8 248L617.3 248L617.9 248L618.4 248L618.9 248L619.4 248L619.9 248L620.4 248L620.9 248L621.4 248L621.9 248L622.5 248" fill="none" stroke="#ff00f0" stroke-width="1.7" stroke-linejoin="bevel"/>
<path d="M315.7 269.5L316.3 269.5L316.8 269.5L317.3 269.5L317.8 269.5L318.3 269.5L318.8 269.5L319.3 269.5L319.8 269.5L320.3 269.5L320.9 269.5L321.4 269.5L321.9 269.5L322.4 269.5L322.9 269.5L323.4 269.5L323.9 269.5L324.4 269.5L324.9 269.5L325.5 269.5L326 269.5L326.5 269.5L327 269.5L327.5 269.5L328 269.5L328.5 269.5L329 269.5L329.5 269.5L330.1 269.5L330.6 269.5L331.1 269.5L331.6 269.5L332.1 269.5L332.6 269.5L333.1 269.5L333.6 269.5L334.1 269.5L334.7 269.5L335.2 269.5L335.7 269.5L336.2 269.5L336.7 269.5L337.2 269.5L337.7 269.5L338.2 269.5L338.7 269.5L339.3 269.5L339.8 269.5L340.3 269.5L340.8 269.5L341.3 269.5L341.8 269.5L342.3 269.5L342.8 269.5L343.3 269.5L343.9 269.5L344.4 269.5L344.9 269.5L345.4 269.5L345.9 269.5L346.4 269.5L346.9 269.5L347.4 269.5L347.9 269.5L348.5 269.5L349 269.5L349.5 269.5L350 269.5L350.5 269.5L351 269.5L351.5 269.5L352 269.5L352.5 269.5L353.1 269.5L353.6 269.5L354.1 269.5L354.6 269.5L355.1 269.5L355.6 269.5L356.1 269.5L356.6 269.5L357.1 269.5L357.7 269.5L358.2 269.5L358.7 269.5L359.2 269.5L359.7 269.5L360.2 269.5L360.7 269.5L361.2 269.5L361.7 269.5L362.3 269.5L362.8 269.5L363.3 269.5L363.8 269.5L364.3 269.5L364.8 269.5L365.3 269.5L365.8 269.5L366.3 269.5L366.9 269.5L367.4 269.5L367.9 269.5L368.4 269.5L368.9 269.5L369.4 269.5L369.9 269.5L370.4 269.5L370.9 269.5L371.5 269.5L372 269.5L372.5 269.5L373 269.5L373.5 269.5L374 269.5L374.5 269.5L375 269.5L375.6 269.5L376.1 269.5L376.6 269.5L377.1 269.5L377.6 269.5L378.1 269.5L378.6 269.5L379.1 269.5L379.6 269.5L380.2 269.5L380.7 269.5L381.2 269.5L381.7 269.5L382.2 269.5L382.7 269.5L383.2 269.5L383.7 269.5L384.2 269.5L384.8 269.5L385.3 269.5L385.8 269.5L386.3 269.5L386.8 269.5L387.3 269.5L387.8 269.5L388.3 269.5L388.8 269.5L389.4 269.5L389.9 269.5L390.4 269.5L390.9 269.5L391.4 269.5L391.9 269.5L392.4 269.5L392.9 269.5L393.4 269.5L394 269.5L394.5 269.5L395 269.5L395.5 269.5L396 269.5L396.5 269.5L397 269.5L397.5 269.5L398 269.5L398.6 269.5L399.1 269.5L399.6 269.5L400.1 269.5L400.6 269.5L401.1 269.5L401.6 269.5L402.1 269.5L402.6 269.5L403.2 269.5L403.7 269.5L404.2 269.5L404.7 269.5L405.2 269.5L405.7 269.5L406.2 269.5L406.7 269.5L407.2 269.5L407.8 269.5L408.3 269.5L408.8 269.5L409.3 269.5L409.8 269.5L410.3 269.5L410.8 269.5L411.3 269.5L411.8 269.5L412.4 269.5L412.9 269.5L413.4 269.5L413.9 269.5L414.4 269.5L414.9 269.5L415.4 269.5L415.9 269.5L416.4 269.5L417 269.5L417.5 269.5L418 269.5L418.5 269.5L419 269.5L419.5 269.5L420 269.5L420.5 269.5L421 269.5L421.6 269.5L422.1 269.5L422.6 269.5L423.1 269.5L423.6 269.5L424.1 269.5L424.6 269.5L425.1 269.5L425.6 269.5L426.2 269.5L426.7 269.5L427.2 269.5L427.7 269.5L428.2 269.5L428.7 269.5L429.2 269.5L429.7 269.5L430.2 269.5L430.8 269.5L431.3 269.5L431.8 269.5L432.3 269.5L432.8 269.5L433.3 269.5L433.8 269.5L434.3 269.5L434.8 269.5L435.4 269.5L435.9 269.5L436.4 269.5L436.9 269.5L437.4 269.5L437.9 269.5L438.4 269.5L438.9 269.5L439.5 269.5L440 269.5L440.5 269.5L441 269.5L441.5 269.5L442 269.5L442.5 269.5L443 269.5L443.5 269.5L444.1 269.5L444.6 269.5L445.1 269.5L445.6 269.5L446.1 269.5L446.6 269.5L447.1 269.5L447.6 269.5L448.1 269.5L448.6 269.5L448.7 269.5L448.8 269.5L448.9 269.5L449 269.5L449.1 269.5L449.2 269.5L449.3 269.5L449.4 269.5L449.5 269.5L449.6 269.5L449.7 269.5L449.8 269.5L449.9 269.5L450 269.5L450.1 269.5L450.2 269.5L450.3 269.5L450.4 269.5L450.4 258.6L450.5 258.6L450.6 258.6L450.7 258.6L450.8 258.6L450.9 258.5L451 258.5L451.1 258.5L451.2 258.5L451.3 258.5L451.4 258.4L451.5 258.4L451.6 258.4L451.7 258.4L451.8 258.4L451.8 258.3L451.9 258.3L452 258.3L452.1 258.3L452.2 258.3L452.3 258.3L452.3 258.2L452.4 258.2L452.5 258.2L452.6 258.2L452.7 258.2L452.8 258.1L452.9 258.1L453 258.1L453.1 258.1L453.2 258.1L453.2 258L453.3 258L453.4 258L453.5 258L453.6 258L453.7 257.9L453.8 257.9L453.9 257.9L454 257.9L454.1 257.9L454.1 257.8L454.2 257.8L454.3 257.8L454.4 257.8L454.5 257.8L454.5 257.7L454.6 257.7L454.7 257.7L454.8 257.7L454.9 257.6L455 257.6L455.1 257.6L455.2 257.6L455.3 257.6L455.3 257.5L455.4 257.5L455.5 257.5L455.6 257.5L455.7 257.5L455.7 257.4L455.8 257.4L455.9 257.4L456 257.4L456.1 257.3L456.2 257.3L456.3 257.3L456.4 257.3L456.4 257.2L456.5 257.2L456.6 257.2L456.7 257.2L456.8 257.2L456.8 257.1L456.9 257.1L457 257.1L457.1 257.1L457.1 257L457.2 257L457.3 257L457.4 257L457.5 257L457.5 256.9L457.6 256.9L457.7 256.9L457.8 256.9L457.8 256.8L457.9 256.8L458 256.8L458.1 256.8L458.2 256.7L458.3 256.7L458.4 256.7L458.5 256.6L458.6 256.6L458.7 256.6L458.8 256.5L458.9 256.5L459 256.5L459.1 256.4L459.2 256.4L459.3 256.4L459.4 256.3L459.5 256.3L459.6 256.3L459.7 256.2L459.8 256.2L459.8 105.2L459.8 126.3L459.9 143.3L459.9 145.9L459.9 155L460 163.6L460.1 170.4L460.1 175.8L460.2 180.4L460.3 184.2L460.3 187.5L460.4 190.3L460.4 190.9L460.5 192.9L460.5 195.1L460.6 197.2L460.7 199L460.7 200.7L460.8 202.2L460.8 203.6L460.9 204.9L460.9 205.1L461 206.1L461 207.2L461.1 208.2L461.2 209.2L461.2 210.1L461.3 211L461.4 211.8L461.4 212.5L461.4 212.7L461.5 213.3L461.5 213.9L461.6 214.6L461.7 215.2L461.7 215.8L461.8 216.3L461.9 216.9L461.9 217.4L461.9 217.5L462 217.9L462.1 218.3L462.1 218.8L462.2 219.2L462.2 219.6L462.3 220L462.4 220.4L462.4 220.8L462.5 220.9L462.5 221.1L462.6 221.5L462.6 221.8L462.7 222.1L462.8 222.4L462.8 222.7L462.9 223L463 223.3L463 223.4L463 223.6L463.1 223.8L463.1 224.1L463.2 224.3L463.3 224.6L463.3 224.8L463.4 225L463.5 225.2L463.5 225.3L463.5 225.4L463.6 225.7L463.7 225.8L463.7 226L463.8 226.2L463.8 226.4L463.9 226.6L464 226.8L464 226.9L464.1 227.1L464.2 227.3L464.2 227.4L464.3 227.6L464.4 227.7L464.4 227.8L464.5 228L464.6 228.1L464.6 228.3L464.7 228.4L464.7 228.5L464.8 228.6L464.9 228.7L464.9 228.9L465 229L465.1 229.1L465.1 229.2L465.2 229.3L465.3 229.4L465.3 229.5L465.4 229.6L465.4 229.7L465.5 229.8L465.6 229.9L465.6 230L465.7 230L465.8 230.1L465.8 230.2L465.9 230.3L466 230.3L466 230.4L466.1 230.5L466.1 230.6L466.2 230.6L466.3 230.7L466.3 230.8L466.4 230.8L466.5 230.9L466.5 231L466.6 231L466.7 231.1L466.8 231.2L466.9 231.2L466.9 231.3L467 231.3L467.1 231.4L467.2 231.4L467.2 231.5L467.3 231.5L467.4 231.5L467.4 231.6L467.5 231.6L467.6 231.7L467.7 231.7L467.8 231.8L467.9 231.8L468 231.8L468.1 231.9L468.2 231.9L468.3 231.9L468.4 232L468.5 232L468.6 232L468.7 232L468.8 232L468.9 232L469 232L469.1 232L469.2 232L469.3 232L469.4 232L469.5 232L469.6 232L469.7 232L469.8 232L469.9 231.9L470 231.9L470.1 231.9L470.2 231.9L470.2 231.8L470.3 231.8L470.4 231.8L470.5 231.7L470.6 231.7L470.7 231.6L470.8 231.6L470.9 231.5L471 231.4L471.1 231.4L471.2 231.3L471.3 231.3L471.3 231.2L471.4 231.2L471.5 231.1L471.6 231L471.7 231L471.7 230.9L471.8 230.8L471.9 230.7L472 230.7L472 230.6L472.1 230.5L472.2 230.5L472.2 230.4L472.3 230.3L472.3 230.2L472.4 230.1L472.5 230.1L472.5 230L472.6 229.9L472.7 229.8L472.7 229.7L472.8 229.6L472.9 229.5L472.9 229.4L473 229.3L473 229.2L473.1 229.1L473.2 229L473.2 228.9L473.3 228.8L473.4 228.7L473.4 228.6L473.5 228.4L473.6 228.3L473.6 228.2L473.7 228L473.8 227.9L473.8 227.8L473.9 227.6L473.9 227.5L474 227.3L474.1 227.2L474.1 227L474.2 226.8L474.3 226.7L474.3 226.5L474.4 226.3L474.5 226.1L474.5 225.9L474.6 225.7L474.6 225.5L474.7 225.3L474.8 225.1L474.8 224.9L474.9 224.7L475 224.4L475 224.2L475.1 223.9L475.2 223.7L475.2 223.4L475.3 223.1L475.3 222.9L475.4 222.6L475.5 222.3L475.5 221.9L475.6 221.6L475.7 221.3L475.7 220.9L475.8 220.6L475.9 220.2L475.9 219.8L476 219.4L476.1 219L476.1 218.5L476.2 218.1L476.2 217.6L476.3 217.5L476.3 217.1L476.4 216.6L476.4 216L476.5 215.4L476.6 214.8L476.6 214.2L476.7 213.5L476.8 212.8L476.8 212.7L476.8 212.1L476.9 211.3L476.9 210.5L477 209.6L477.1 208.6L477.1 207.6L477.2 206.5L477.3 205.4L477.3 205.1L477.3 204.1L477.4 202.8L477.5 201.3L477.5 199.7L477.6 197.9L477.6 196L477.7 193.8L477.8 191.4L477.8 190.9L477.8 188.7L477.9 185.6L478 182L478 177.7L478.1 172.7L478.2 166.5L478.2 158.7L478.3 148.4L478.3 145.9L478.4 133.9L478.4 111.4L478.4 105.2L478.4 256.2L478.5 256.2L478.6 256.3L478.7 256.3L478.8 256.3L478.9 256.4L479 256.4L479.1 256.4L479.2 256.5L479.3 256.5L479.4 256.5L479.5 256.6L479.6 256.6L479.7 256.6L479.8 256.6L479.8 256.7L479.9 256.7L480 256.7L480.1 256.7L480.1 256.8L480.2 256.8L480.3 256.8L480.4 256.8L480.5 256.9L480.6 256.9L480.7 256.9L480.8 257L480.9 257L481 257L481.1 257.1L481.2 257.1L481.3 257.1L481.4 257.1L481.5 257.2L481.6 257.2L481.7 257.2L481.8 257.3L481.9 257.3L482 257.3L482.1 257.3L482.2 257.4L482.3 257.4L482.4 257.4L482.5 257.4L482.6 257.5L482.7 257.5L482.8 257.5L482.9 257.5L483 257.6L483.1 257.6L483.2 257.6L483.3 257.6L483.3 257.7L483.4 257.7L483.5 257.7L483.6 257.7L483.7 257.7L483.7 257.8L483.8 257.8L483.9 257.8L484 257.8L484.1 257.8L484.2 257.9L484.3 257.9L484.4 257.9L484.5 257.9L484.6 257.9L484.6 258L484.7 258L484.8 258L484.9 258L485 258.1L485.1 258.1L485.2 258.1L485.3 258.1L485.4 258.1L485.4 258.2L485.5 258.2L485.6 258.2L485.7 258.2L485.8 258.2L485.9 258.2L486 258.3L486.1 258.3L486.2 258.3L486.3 258.3L486.4 258.4L486.5 258.4L486.6 258.4L486.7 258.4L486.8 258.4L486.9 258.4L486.9 258.5L487 258.5L487.1 258.5L487.2 258.5L487.3 258.5L487.4 258.6L487.5 258.6L487.6 258.6L487.7 258.6L487.8 258.6L487.8 269.5L487.9 269.5L488 269.5L488.1 269.5L488.2 269.5L488.3 269.5L488.4 269.5L488.5 269.5L488.6 269.5L488.7 269.5L488.8 269.5L488.9 269.5L489 269.5L489.1 269.5L489.2 269.5L489.3 269.5L489.4 269.5L489.5 269.5L489.6 269.5L490.1 269.5L490.6 269.5L491.1 269.5L491.6 269.5L492.1 269.5L492.6 269.5L493.1 269.5L493.6 269.5L494.1 269.5L494.7 269.5L495.2 269.5L495.7 269.5L496.2 269.5L496.7 269.5L497.2 269.5L497.7 269.5L498.2 269.5L498.7 269.5L499.3 269.5L499.8 269.5L500.3 269.5L500.8 269.5L501.3 269.5L501.8 269.5L502.3 269.5L502.8 269.5L503.4 269.5L503.9 269.5L504.4 269.5L504.9 269.5L505.4 269.5L505.9 269.5L506.4 269.5L506.9 269.5L507.4 269.5L508 269.5L508.5 269.5L509 269.5L509.5 269.5L510 269.5L510.5 269.5L511 269.5L511.5 269.5L512 269.5L512.6 269.5L513.1 269.5L513.6 269.5L514.1 269.5L514.6 269.5L515.1 269.5L515.6 269.5L516.1 269.5L516.6 269.5L517.2 269.5L517.7 269.5L518.2 269.5L518.7 269.5L519.2 269.5L519.7 269.5L520.2 269.5L520.7 269.5L521.2 269.5L521.8 269.5L522.3 269.5L522.8 269.5L523.3 269.5L523.8 269.5L524.3 269.5L524.8 269.5L525.3 269.5L525.8 269.5L526.4 269.5L526.9 269.5L527.4 269.5L527.9 269.5L528.4 269.5L528.9 269.5L529.4 269.5L529.9 269.5L530.4 269.5L531 269.5L531.5 269.5L532 269.5L532.5 269.5L533 269.5L533.5 269.5L534 269.5L534.5 269.5L535 269.5L535.6 269.5L536.1 269.5L536.6 269.5L537.1 269.5L537.6 269.5L538.1 269.5L538.6 269.5L539.1 269.5L539.6 269.5L540.2 269.5L540.7 269.5L541.2 269.5L541.7 269.5L542.2 269.5L542.7 269.5L543.2 269.5L543.7 269.5L544.2 269.5L544.8 269.5L545.3 269.5L545.8 269.5L546.3 269.5L546.8 269.5L547.3 269.5L547.8 269.5L548.3 269.5L548.8 269.5L549.4 269.5L549.9 269.5L550.4 269.5L550.9 269.5L551.4 269.5L551.9 269.5L552.4 269.5L552.9 269.5L553.4 269.5L554 269.5L554.5 269.5L555 269.5L555.5 269.5L556 269.5L556.5 269.5L557 269.5L557.5 269.5L558 269.5L558.6 269.5L559.1 269.5L559.6 269.5L560.1 269.5L560.6 269.5L561.1 269.5L561.6 269.5L562.1 269.5L562.6 269.5L563.2 269.5L563.7 269.5L564.2 269.5L564.7 269.5L565.2 269.5L565.7 269.5L566.2 269.5L566.7 269.5L567.3 269.5L567.8 269.5L568.3 269.5L568.8 269.5L569.3 269.5L569.8 269.5L570.3 269.5L570.8 269.5L571.3 269.5L571.9 269.5L572.4 269.5L572.9 269.5L573.4 269.5L573.9 269.5L574.4 269.5L574.9 269.5L575.4 269.5L575.9 269.5L576.5 269.5L577 269.5L577.5 269.5L578 269.5L578.5 269.5L579 269.5L579.5 269.5L580 269.5L580.5 269.5L581.1 269.5L581.6 269.5L582.1 269.5L582.6 269.5L583.1 269.5L583.6 269.5L584.1 269.5L584.6 269.5L585.1 269.5L585.7 269.5L586.2 269.5L586.7 269.5L587.2 269.5L587.7 269.5L588.2 269.5L588.7 269.5L589.2 269.5L589.7 269.5L590.3 269.5L590.8 269.5L591.3 269.5L591.8 269.5L592.3 269.5L592.8 269.5L593.3 269.5L593.8 269.5L594.3 269.5L594.9 269.5L595.4 269.5L595.9 269.5L596.4 269.5L596.9 269.5L597.4 269.5L597.9 269.5L598.4 269.5L598.9 269.5L599.5 269.5L600 269.5L600.5 269.5L601 269.5L601.5 269.5L602 269.5L602.5 269.5L603 269.5L603.5 269.5L604.1 269.5L604.6 269.5L605.1 269.5L605.6 269.5L606.1 269.5L606.6 269.5L607.1 269.5L607.6 269.5L608.1 269.5L608.7 269.5L609.2 269.5L609.7 269.5L610.2 269.5L610.7 269.5L611.2 269.5L611.7 269.5L612.2 269.5L612.7 269.5L613.3 269.5L613.8 269.5L614.3 269.5L614.8 269.5L615.3 269.5L615.8 269.5L616.3 269.5L616.8 269.5L617.3 269.5L617.9 269.5L618.4 269.5L618.9 269.5L619.4 269.5L619.9 269.5L620.4 269.5L620.9 269.5L621.4 269.5L621.9 269.5L622.5 269.5" fill="none" stroke="#0000ff" stroke-width="1.7" stroke-linejoin="bevel"/>
<path d="M315.7 279v-4.6M341.3 279v-3.8M366.9 279v-4.6M392.4 279v-3.8M418 279v-4.6M443.5 279v-3.8M469.1 279v-4.6M494.7 279v-3.8M520.2 279v-4.6M545.8 279v-3.8M571.3 279v-4.6M596.9 279v-3.8M622.5 279v-4.6" fill="none" stroke="#000" stroke-width="1.2"/>
<path d="M315.1 278.9H623.1" fill="none" stroke="#000" stroke-width="1.6"/>
<text x="366.9" y="290.4" font-size="10" text-anchor="middle" >-400</text>
<text x="418" y="290.4" font-size="10" text-anchor="middle" >-200</text>
<text x="469.1" y="290.4" font-size="10" text-anchor="middle" >0</text>
<text x="520.2" y="290.4" font-size="10" text-anchor="middle" >200</text>
<text x="571.3" y="290.4" font-size="10" text-anchor="middle" >400</text>
<text x="469.1" y="303.5" font-size="10.6" text-anchor="middle" >Frequency f-f<tspan font-size="7" dy="2">0</tspan><tspan dy="-2"> (kHz)</tspan></text>
<text x="32" y="10" font-size="13.3" text-anchor="start"  >a)</text>
<text x="32" y="27.1" font-size="13.3" text-anchor="start"  >181 GPa</text>
<text x="355.8" y="9.2" font-size="13.3" text-anchor="start"  >b)</text>
<text x="355.8" y="25.9" font-size="13.3" text-anchor="start"  >208 GPa</text>
<text x="212.5" y="32" font-size="10.6" text-anchor="start"  >RF excitation</text>
<text x="212.5" y="45.5" font-size="10.6" text-anchor="start"  >profile</text>
<text x="521" y="32" font-size="10.6" text-anchor="start"  >RF excitation</text>
<text x="521" y="45.5" font-size="10.6" text-anchor="start"  >profile</text>
<text x="312.6" y="172.5" font-size="10.6" text-anchor="middle"  >experiment</text>
<text x="312.6" y="224" font-size="10.6" text-anchor="middle"  >total simulated lineshape</text>
<text x="312.6" y="244.3" font-size="10.6" text-anchor="middle"  >first nearest neighbour distances</text>
<text x="312.6" y="266.2" font-size="10.6" text-anchor="middle"  >second nearest neighbour distances</text>
<text x="1" y="244.3" font-size="10.6" text-anchor="start"  >r<tspan font-size="7" dy="2">n</tspan><tspan dy="-2"><tspan dx="1.5">=</tspan><tspan dx="0.8"> 0.747(4) Å</tspan></tspan></text>
<text x="1" y="266" font-size="10.6" text-anchor="start"  >r<tspan font-size="7" dy="2">nn</tspan><tspan dy="-2"><tspan dx="0.6">=</tspan><tspan dx="0.3"> 1.22(3) Å</tspan></tspan></text>
<text x="621" y="244.3" font-size="10.6" text-anchor="end"  >r<tspan font-size="7" dy="2">n</tspan><tspan dy="-2"><tspan dx="1.2">=</tspan><tspan dx="0.5"> 0.748(3) Å</tspan></tspan></text>
<text x="621" y="266" font-size="10.6" text-anchor="end"  >r<tspan font-size="7" dy="2">nn</tspan><tspan dy="-2"><tspan dx="0.6">=</tspan><tspan dx="0.3"> 1.17(5) Å</tspan></tspan></text>
<path d="M96.4 374.6L256.1 549.1" stroke="#9ab2f2" stroke-width="2.4" stroke-dasharray="4.6 5" fill="none"/>
<path d="M97.1 577.8L256.3 574.4" stroke="#00c864" stroke-width="2.5" stroke-dasharray="5 4.4" fill="none"/>
<path d="M125.5 354.4v4.4M125.5 589.7v-4.4M154.5 354.4v2.8M154.5 589.7v-2.8M183.5 354.4v4.4M183.5 589.7v-4.4M212.6 354.4v2.8M212.6 589.7v-2.8M241.6 354.4v4.4M241.6 589.7v-4.4M97.1 550h4.4M256.3 550h-4.4M97.1 532.2h2.8M256.3 532.2h-2.8M97.1 514.4h4.4M256.3 514.4h-4.4M97.1 496.6h2.8M256.3 496.6h-2.8M97.1 478.8h4.4M256.3 478.8h-4.4M97.1 461h2.8M256.3 461h-2.8M97.1 443.1h4.4M256.3 443.1h-4.4M97.1 425.3h2.8M256.3 425.3h-2.8M97.1 407.5h4.4M256.3 407.5h-4.4M97.1 389.7h2.8M256.3 389.7h-2.8M97.1 371.9h4.4M256.3 371.9h-4.4M97.1 572.5h3M256.3 572.5h-3" fill="none" stroke="#000" stroke-width="1.1"/>
<path d="M97.1 354.4H256.3V589.7H97.1Z" fill="none" stroke="#000" stroke-width="1.45"/>
<rect x="95.1" y="550.3" width="4" height="4.2" fill="#fff"/>
<path d="M91.8 552l10.6 -4M91.8 556.8l10.6 -4" stroke="#000" stroke-width="1.2" fill="none"/>
<rect x="254.3" y="550.3" width="4" height="4.2" fill="#fff"/>
<path d="M251.0 552l10.6 -4M251.0 556.8l10.6 -4" stroke="#000" stroke-width="1.2" fill="none"/>
<text x="91.8" y="374.9" font-size="10" text-anchor="end"  >1.24</text>
<text x="91.8" y="410.5" font-size="10" text-anchor="end"  >1.22</text>
<text x="91.8" y="446.1" font-size="10" text-anchor="end"  >1.20</text>
<text x="91.8" y="481.8" font-size="10" text-anchor="end"  >1.18</text>
<text x="91.8" y="517.4" font-size="10" text-anchor="end"  >1.16</text>
<text x="91.8" y="553" font-size="10" text-anchor="end"  >1.14</text>
<text x="91.8" y="593.6" font-size="10" text-anchor="end"  >0.74</text>
<text x="125.5" y="602.8" font-size="10" text-anchor="middle"  >180</text>
<text x="183.5" y="602.8" font-size="10" text-anchor="middle"  >200</text>
<text x="241.6" y="602.8" font-size="10" text-anchor="middle"  >220</text>
<text x="177" y="614" font-size="10.6" text-anchor="middle"  >Pressure (GPa)</text>
<text transform="translate(69,471.5) rotate(-90)" font-size="10.6" text-anchor="middle" >Hydrogen-hydrogen distances (Å)</text>
<path d="M128.4 395.5V419.5" stroke="#ff00f0" stroke-width="1.8"/><circle cx="128.4" cy="407.5" r="3.1" fill="#fff" stroke="#ff00f0" stroke-width="1.8"/>
<path d="M145.8 410.6V440" stroke="#ff00f0" stroke-width="1.8"/><circle cx="145.8" cy="425.3" r="3.1" fill="#fff" stroke="#ff00f0" stroke-width="1.8"/>
<path d="M160.3 446.5V475.5" stroke="#ff00f0" stroke-width="1.8"/><circle cx="160.3" cy="461" r="3.1" fill="#fff" stroke="#ff00f0" stroke-width="1.8"/>
<path d="M174.8 445V473.4" stroke="#ff00f0" stroke-width="1.8"/><circle cx="174.8" cy="459.2" r="3.1" fill="#fff" stroke="#ff00f0" stroke-width="1.8"/>
<path d="M189.3 461.7V488.7" stroke="#ff00f0" stroke-width="1.8"/><circle cx="189.3" cy="475.2" r="3.1" fill="#fff" stroke="#ff00f0" stroke-width="1.8"/>
<path d="M206.8 477.7V504.7" stroke="#ff00f0" stroke-width="1.8"/><circle cx="206.8" cy="491.2" r="3.1" fill="#fff" stroke="#ff00f0" stroke-width="1.8"/>
<path d="M128.4 567.5V588.8" stroke="#0000ff" stroke-width="1.8"/><circle cx="128.4" cy="577.8" r="3.1" fill="#fff" stroke="#0000ff" stroke-width="1.8"/>
<path d="M145.8 564.2V585.5" stroke="#0000ff" stroke-width="1.8"/><circle cx="145.8" cy="574.5" r="3.1" fill="#fff" stroke="#0000ff" stroke-width="1.8"/>
<path d="M160.3 569.2V590.5" stroke="#0000ff" stroke-width="1.8"/><circle cx="160.3" cy="579.5" r="3.1" fill="#fff" stroke="#0000ff" stroke-width="1.8"/>
<path d="M174.8 567.5V588.8" stroke="#0000ff" stroke-width="1.8"/><circle cx="174.8" cy="577.8" r="3.1" fill="#fff" stroke="#0000ff" stroke-width="1.8"/>
<path d="M189.3 565.4V586.7" stroke="#0000ff" stroke-width="1.8"/><circle cx="189.3" cy="575.7" r="3.1" fill="#fff" stroke="#0000ff" stroke-width="1.8"/>
<path d="M206.8 565.5V586.8" stroke="#0000ff" stroke-width="1.8"/><circle cx="206.8" cy="575.8" r="3.1" fill="#fff" stroke="#0000ff" stroke-width="1.8"/>
<circle cx="145.75" cy="370.75" r="3.1" fill="#fff" stroke="#0000ff" stroke-width="1.8"/>
<circle cx="145.75" cy="397" r="3.1" fill="#fff" stroke="#ff00f0" stroke-width="1.8"/>
<text x="153.75" y="367.5" font-size="10.6" text-anchor="start"  >first nearest neighbour</text>
<text x="153.75" y="381.4" font-size="10.6" text-anchor="start"  >distances r<tspan font-size="7" dy="2">n</tspan><tspan dy="-2"></tspan></text>
<text x="153.75" y="395.1" font-size="10.6" text-anchor="start"  >second nearest</text>
<text x="153.75" y="408.1" font-size="10.6" text-anchor="start"  >neighbour distances r<tspan font-size="7" dy="2">nn</tspan><tspan dy="-2"></tspan></text>
<path d="M102.5 525.75h15" stroke="#9ab2f2" stroke-width="2"/><path d="M102.5 530.5h15" stroke="#00c864" stroke-width="2"/>
<text x="121.75" y="525.75" font-size="10.6" text-anchor="start"  >ab-initio calculations</text>
<text x="121.75" y="538.75" font-size="10.6" text-anchor="start"  >after Labet et al.</text>
<text x="107" y="375" font-size="16" text-anchor="start"  >r<tspan font-size="10" dy="3">nn</tspan></text>
<text x="107" y="561.3" font-size="16" text-anchor="start"  >r<tspan font-size="10" dy="3">n</tspan></text>
<text x="95" y="343" font-size="13.3" text-anchor="start"  >c)</text>
<clipPath id="cd"><rect x="367.2" y="354.6" width="158.90000000000003" height="235.0"/></clipPath>
<path d="M360 341.8L363 344.8L366 347.9L369 351L372 354.1L375 357.2L378 360.3L381 363.5L384 366.7L387 370L390 373.2L393 376.5L396 379.9L399 383.2L402 386.6L405 390L408 393.5L411 396.9L414 400.4L417 404L420 407.5L423 411.1L426 414.8L429 418.4L432 422.1L435 425.8L438 429.6L441 433.4L444 437.2L447 441L450 444.9L453 448.8L456 452.8L459 456.8L462 460.8L465 464.8L468 468.9L471 473L474 477.2L477 481.4L480 485.6L483 489.8L486 494.1L489 498.4L492 502.8L495 507.2L498 511.6L501 516.1L504 520.6L507 525.1L510 529.7L513 534.3L516 538.9L519 543.6L522 548.3L525 553.1L528 557.8L531 562.7" fill="none" stroke="#dfa3d1" stroke-width="1.6" stroke-dasharray="4 2.1" clip-path="url(#cd)"/>
<path d="M360 346.9L363 350.4L366 353.9L369 357.3L372 360.8L375 364.2L378 367.7L381 371.1L384 374.6L387 378L390 381.5L393 385L396 388.4L399 391.9L402 395.4L405 398.9L408 402.4L411 405.9L414 409.5L417 413L420 416.6L423 420.2L426 423.8L429 427.4L432 431L435 434.7L438 438.4L441 442.1L444 445.8L447 449.6L450 453.4L453 457.2L456 461.1L459 464.9L462 468.8L465 472.8L468 476.8L471 480.8L474 484.9L477 489L480 493.1L483 497.3L486 501.5L489 505.8L492 510.1L495 514.4L498 518.8L501 523.3L504 527.8L507 532.4L510 537L513 541.6L516 546.3L519 551.1L522 555.9L525 560.8L528 565.8L531 570.8" fill="none" stroke="#80b8c3" stroke-width="1.9" stroke-dasharray="2.9 4.5" clip-path="url(#cd)"/>
<path d="M360 362.5L363 365.1L366 367.8L369 370.6L372 373.4L375 376.2L378 379.1L381 382.1L384 385.1L387 388.1L390 391.2L393 394.4L396 397.6L399 400.8L402 404.1L405 407.5L408 410.9L411 414.3L414 417.8L417 421.4L420 424.9L423 428.6L426 432.3L429 436L432 439.7L435 443.5L438 447.4L441 451.3L444 455.2L447 459.2L450 463.2L453 467.3L456 471.3L459 475.5L462 479.7L465 483.9L468 488.1L471 492.4L474 496.8L477 501.1L480 505.5L483 510L486 514.4L489 519L492 523.5L495 528.1L498 532.7L501 537.3L504 542L507 546.7L510 551.5L513 556.3L516 561.1L519 565.9L522 570.8L525 575.7L528 580.6L531 585.6" fill="none" stroke="#dfa3d1" stroke-width="1.6" stroke-dasharray="4 2.1" clip-path="url(#cd)"/>
<path d="M360 370.4L363 373.5L366 376.6L369 379.7L372 382.9L375 386.1L378 389.3L381 392.6L384 395.9L387 399.3L390 402.6L393 406L396 409.5L399 413L402 416.5L405 420L408 423.6L411 427.2L414 430.9L417 434.6L420 438.3L423 442L426 445.8L429 449.7L432 453.5L435 457.4L438 461.4L441 465.3L444 469.4L447 473.4L450 477.5L453 481.6L456 485.7L459 489.9L462 494.2L465 498.4L468 502.7L471 507.1L474 511.4L477 515.8L480 520.3L483 524.8L486 529.3L489 533.9L492 538.5L495 543.1L498 547.8L501 552.5L504 557.2L507 562L510 566.8L513 571.7L516 576.6L519 581.5L522 586.5L525 591.5L528 596.6L531 601.7" fill="none" stroke="#80b8c3" stroke-width="1.9" stroke-dasharray="2.9 4.5" clip-path="url(#cd)"/>
<path d="M360 382.5L363 385.3L366 388.2L369 391.1L372 394.1L375 397.1L378 400.1L381 403.3L384 406.5L387 409.7L390 413L393 416.3L396 419.7L399 423.1L402 426.6L405 430.1L408 433.7L411 437.3L414 441L417 444.7L420 448.4L423 452.2L426 456.1L429 460L432 463.9L435 467.9L438 471.9L441 475.9L444 480L447 484.1L450 488.3L453 492.5L456 496.7L459 501L462 505.3L465 509.6L468 514L471 518.4L474 522.8L477 527.3L480 531.8L483 536.3L486 540.9L489 545.4L492 550L495 554.7L498 559.3L501 564L504 568.7L507 573.5L510 578.2L513 583L516 587.8L519 592.6L522 597.4L525 602.3L528 607.2L531 612.1" fill="none" stroke="#dfa3d1" stroke-width="1.6" stroke-dasharray="4 2.1" clip-path="url(#cd)"/>
<path d="M395.5 354.6v4.4M395.5 589.6v-4.4M424.7 354.6v2.8M424.7 589.6v-2.8M453.9 354.6v4.4M453.9 589.6v-4.4M483.1 354.6v2.8M483.1 589.6v-2.8M512.3 354.6v4.4M512.3 589.6v-4.4M367.2 561.9h2.8M526.1 561.9h-2.8M367.2 534.2h4.4M526.1 534.2h-4.4M367.2 506.5h2.8M526.1 506.5h-2.8M367.2 478.8h4.4M526.1 478.8h-4.4M367.2 451.1h2.8M526.1 451.1h-2.8M367.2 423.4h4.4M526.1 423.4h-4.4M367.2 395.7h2.8M526.1 395.7h-2.8M367.2 368h4.4M526.1 368h-4.4" fill="none" stroke="#000" stroke-width="1.1"/>
<path d="M367.2 354.6H526.1V589.6H367.2Z" fill="none" stroke="#000" stroke-width="1.45"/>
<text x="361" y="593" font-size="10" text-anchor="end"  >0</text>
<text x="361" y="537.6" font-size="10" text-anchor="end"  >2</text>
<text x="361" y="482.2" font-size="10" text-anchor="end"  >4</text>
<text x="361" y="426.8" font-size="10" text-anchor="end"  >6</text>
<text x="361" y="371.4" font-size="10" text-anchor="end"  >8</text>
<text x="395.5" y="602.8" font-size="10" text-anchor="middle"  >180</text>
<text x="453.9" y="602.8" font-size="10" text-anchor="middle"  >200</text>
<text x="512.3" y="602.8" font-size="10" text-anchor="middle"  >220</text>
<text x="446.3" y="617" font-size="10.6" text-anchor="middle"  >Pressure (GPa)</text>
<text transform="translate(348.3,472.3) rotate(-90)" font-size="10.6" text-anchor="middle" >Chemical Shieldings (Hz/MHz)</text>
<path d="M398.4 372.9V390.9" stroke="#c050b0" stroke-width="1.7"/><circle cx="398.4" cy="381.9" r="3.0" fill="#fff" stroke="#c050b0" stroke-width="1.8"/>
<path d="M398.4 393.2V409.2" stroke="#c050b0" stroke-width="1.7"/><circle cx="398.4" cy="401.2" r="3.0" fill="#fff" stroke="#c050b0" stroke-width="1.8"/>
<path d="M398.4 416.4V430.4" stroke="#c050b0" stroke-width="1.7"/><circle cx="398.4" cy="423.4" r="3.0" fill="#fff" stroke="#c050b0" stroke-width="1.8"/>
<path d="M415.9 395.1V410.1" stroke="#c050b0" stroke-width="1.7"/><circle cx="415.9" cy="402.6" r="3.0" fill="#fff" stroke="#c050b0" stroke-width="1.8"/>
<path d="M415.9 416.4V430.4" stroke="#c050b0" stroke-width="1.7"/><circle cx="415.9" cy="423.4" r="3.0" fill="#fff" stroke="#c050b0" stroke-width="1.8"/>
<path d="M415.9 441.8V454.8" stroke="#c050b0" stroke-width="1.7"/><circle cx="415.9" cy="448.3" r="3.0" fill="#fff" stroke="#c050b0" stroke-width="1.8"/>
<path d="M430.5 413.6V427.6" stroke="#c050b0" stroke-width="1.7"/><circle cx="430.5" cy="420.6" r="3.0" fill="#fff" stroke="#c050b0" stroke-width="1.8"/>
<path d="M430.5 436.3V449.3" stroke="#c050b0" stroke-width="1.7"/><circle cx="430.5" cy="442.8" r="3.0" fill="#fff" stroke="#c050b0" stroke-width="1.8"/>
<path d="M430.5 457.6V469.6" stroke="#c050b0" stroke-width="1.7"/><circle cx="430.5" cy="463.6" r="3.0" fill="#fff" stroke="#c050b0" stroke-width="1.8"/>
<path d="M445.1 442.8V453.8" stroke="#6aa3b3" stroke-width="1.7"/><circle cx="445.1" cy="448.3" r="3.0" fill="#fff" stroke="#6aa3b3" stroke-width="1.8"/>
<path d="M445.1 468.3V478.3" stroke="#6aa3b3" stroke-width="1.7"/><circle cx="445.1" cy="473.3" r="3.0" fill="#fff" stroke="#6aa3b3" stroke-width="1.8"/>
<path d="M459.7 462.7V472.7" stroke="#6aa3b3" stroke-width="1.7"/><circle cx="459.7" cy="467.7" r="3.0" fill="#fff" stroke="#6aa3b3" stroke-width="1.8"/>
<path d="M459.7 491.4V499.4" stroke="#6aa3b3" stroke-width="1.7"/><circle cx="459.7" cy="495.4" r="3.0" fill="#fff" stroke="#6aa3b3" stroke-width="1.8"/>
<path d="M477.3 485.9V493.9" stroke="#6aa3b3" stroke-width="1.7"/><circle cx="477.3" cy="489.9" r="3.0" fill="#fff" stroke="#6aa3b3" stroke-width="1.8"/>
<path d="M477.3 508.5V515.5" stroke="#6aa3b3" stroke-width="1.7"/><circle cx="477.3" cy="512" r="3.0" fill="#fff" stroke="#6aa3b3" stroke-width="1.8"/>
<text x="366" y="343.6" font-size="13.3" text-anchor="start"  >d)</text>
<text x="428.8" y="368.7" font-size="10.6" text-anchor="start"  >ab-initio calculations</text>
<text x="428.8" y="382" font-size="10.6" text-anchor="start"  >after Monsserat et al.</text>
<path d="M453.6 394h16" stroke="#dfa3d1" stroke-width="1.6" stroke-dasharray="4.3 1.4"/><path d="M453.6 409h16" stroke="#80b8c3" stroke-width="1.6" stroke-dasharray="4.3 1.4"/>
<text x="472" y="397.5" font-size="10.6" text-anchor="start"  font-style="italic">P6<tspan font-size="7" dy="2">1</tspan><tspan dy="-2">22</tspan></text>
<text x="472" y="411.8" font-size="10.6" text-anchor="start"  font-style="italic">C2/c</text>
<circle cx="378.75" cy="542.75" r="3.0" fill="#fff" stroke="#c050b0" stroke-width="1.8"/><circle cx="378.75" cy="572.5" r="3.0" fill="#fff" stroke="#6aa3b3" stroke-width="1.8"/>
<text x="386.75" y="539.25" font-size="10.6" text-anchor="start"  >Isotropic chemical shift</text>
<text x="386.75" y="552.25" font-size="10.6" text-anchor="start"  >positions (<tspan font-style="italic">P6</tspan><tspan font-style="italic" font-size="7" dy="2">1</tspan><tspan font-style="italic" dy="-2">22</tspan>)</text>
<text x="386.75" y="568.75" font-size="10.6" text-anchor="start"  >Isotropic chemical shift</text>
<text x="386.75" y="581.75" font-size="10.6" text-anchor="start"  >positions (<tspan font-style="italic">C2/c</tspan>)</text>
</svg></body></html>
